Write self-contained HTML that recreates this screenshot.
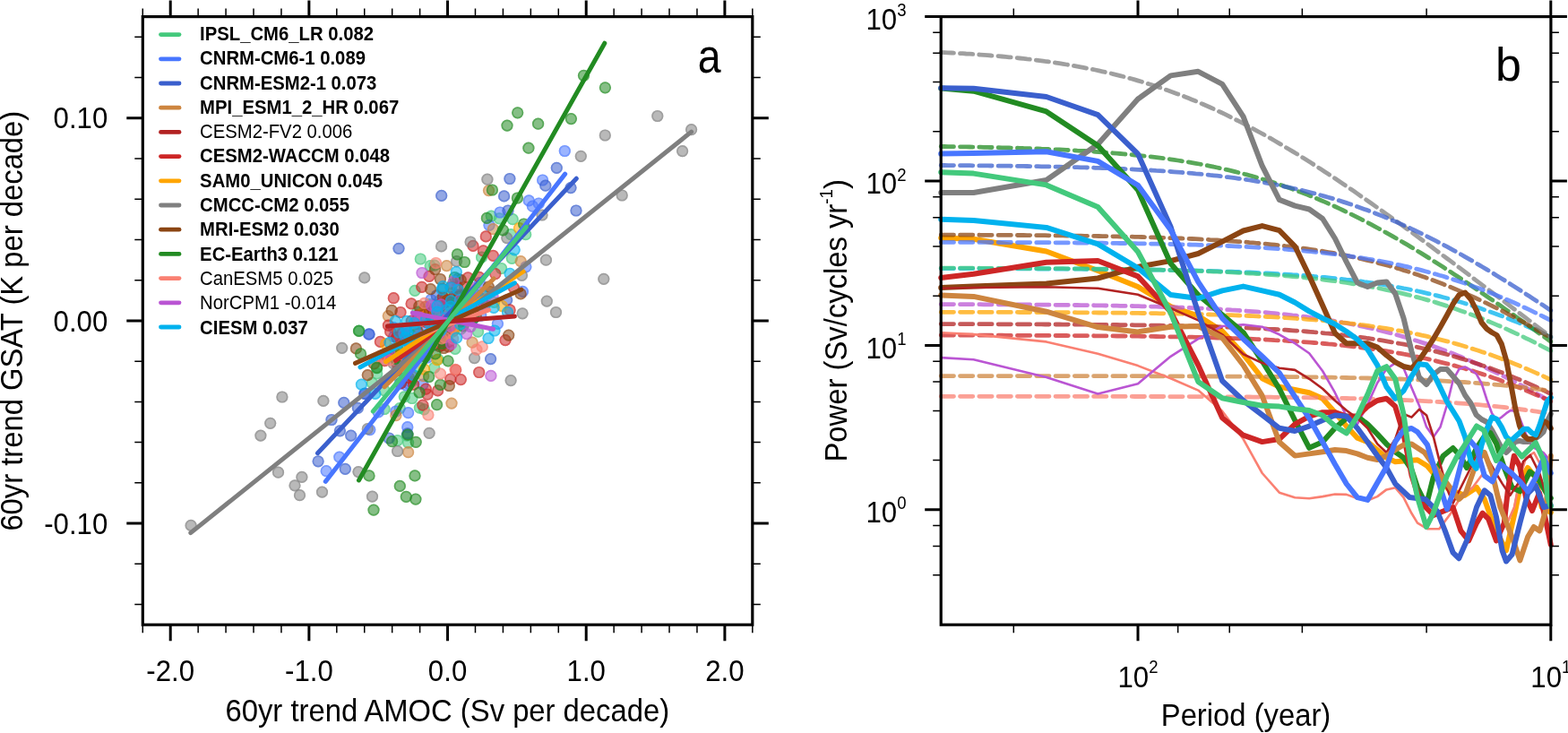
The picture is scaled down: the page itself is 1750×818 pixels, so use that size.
<!DOCTYPE html>
<html><head><meta charset="utf-8"><style>
html,body{margin:0;padding:0;background:#fff;overflow:hidden;}
svg{display:block;}
text{font-family:"Liberation Sans", Arial, Helvetica, sans-serif;fill:#000;}
</style></head><body>
<svg width="1750" height="818" viewBox="0 0 1750 818">
<rect width="1750" height="818" fill="#fff"/>
<defs><clipPath id="ca"><rect x="159.3" y="18.6" width="680.5" height="678.6"/></clipPath><clipPath id="cb"><rect x="1050.2" y="18.6" width="680.7" height="678.6"/></clipPath></defs>
<g clip-path="url(#ca)">
<circle cx="485.7" cy="375.7" r="6.6" fill="#43C97C" fill-opacity=".55"/><circle cx="485.7" cy="375.7" r="5.75" fill="none" stroke="#43C97C" stroke-opacity=".45" stroke-width="1.7"/>
<circle cx="525.1" cy="336.9" r="6.6" fill="#43C97C" fill-opacity=".55"/><circle cx="525.1" cy="336.9" r="5.75" fill="none" stroke="#43C97C" stroke-opacity=".45" stroke-width="1.7"/>
<circle cx="455.5" cy="378.9" r="6.6" fill="#43C97C" fill-opacity=".55"/><circle cx="455.5" cy="378.9" r="5.75" fill="none" stroke="#43C97C" stroke-opacity=".45" stroke-width="1.7"/>
<circle cx="497.3" cy="354.9" r="6.6" fill="#43C97C" fill-opacity=".55"/><circle cx="497.3" cy="354.9" r="5.75" fill="none" stroke="#43C97C" stroke-opacity=".45" stroke-width="1.7"/>
<circle cx="476.0" cy="376.2" r="6.6" fill="#43C97C" fill-opacity=".55"/><circle cx="476.0" cy="376.2" r="5.75" fill="none" stroke="#43C97C" stroke-opacity=".45" stroke-width="1.7"/>
<circle cx="500.8" cy="334.4" r="6.6" fill="#43C97C" fill-opacity=".55"/><circle cx="500.8" cy="334.4" r="5.75" fill="none" stroke="#43C97C" stroke-opacity=".45" stroke-width="1.7"/>
<circle cx="447.7" cy="371.4" r="6.6" fill="#43C97C" fill-opacity=".55"/><circle cx="447.7" cy="371.4" r="5.75" fill="none" stroke="#43C97C" stroke-opacity=".45" stroke-width="1.7"/>
<circle cx="479.4" cy="339.6" r="6.6" fill="#43C97C" fill-opacity=".55"/><circle cx="479.4" cy="339.6" r="5.75" fill="none" stroke="#43C97C" stroke-opacity=".45" stroke-width="1.7"/>
<circle cx="446.0" cy="421.8" r="6.6" fill="#43C97C" fill-opacity=".55"/><circle cx="446.0" cy="421.8" r="5.75" fill="none" stroke="#43C97C" stroke-opacity=".45" stroke-width="1.7"/>
<circle cx="489.9" cy="352.2" r="6.6" fill="#43C97C" fill-opacity=".55"/><circle cx="489.9" cy="352.2" r="5.75" fill="none" stroke="#43C97C" stroke-opacity=".45" stroke-width="1.7"/>
<circle cx="551.6" cy="337.4" r="6.6" fill="#43C97C" fill-opacity=".55"/><circle cx="551.6" cy="337.4" r="5.75" fill="none" stroke="#43C97C" stroke-opacity=".45" stroke-width="1.7"/>
<circle cx="484.5" cy="353.1" r="6.6" fill="#43C97C" fill-opacity=".55"/><circle cx="484.5" cy="353.1" r="5.75" fill="none" stroke="#43C97C" stroke-opacity=".45" stroke-width="1.7"/>
<circle cx="520.7" cy="352.1" r="6.6" fill="#43C97C" fill-opacity=".55"/><circle cx="520.7" cy="352.1" r="5.75" fill="none" stroke="#43C97C" stroke-opacity=".45" stroke-width="1.7"/>
<circle cx="451.1" cy="372.1" r="6.6" fill="#43C97C" fill-opacity=".55"/><circle cx="451.1" cy="372.1" r="5.75" fill="none" stroke="#43C97C" stroke-opacity=".45" stroke-width="1.7"/>
<circle cx="465.8" cy="348.3" r="6.6" fill="#43C97C" fill-opacity=".55"/><circle cx="465.8" cy="348.3" r="5.75" fill="none" stroke="#43C97C" stroke-opacity=".45" stroke-width="1.7"/>
<circle cx="507.0" cy="337.7" r="6.6" fill="#43C97C" fill-opacity=".55"/><circle cx="507.0" cy="337.7" r="5.75" fill="none" stroke="#43C97C" stroke-opacity=".45" stroke-width="1.7"/>
<circle cx="466.0" cy="362.4" r="6.6" fill="#43C97C" fill-opacity=".55"/><circle cx="466.0" cy="362.4" r="5.75" fill="none" stroke="#43C97C" stroke-opacity=".45" stroke-width="1.7"/>
<circle cx="488.1" cy="383.0" r="6.6" fill="#43C97C" fill-opacity=".55"/><circle cx="488.1" cy="383.0" r="5.75" fill="none" stroke="#43C97C" stroke-opacity=".45" stroke-width="1.7"/>
<circle cx="510.6" cy="341.5" r="6.6" fill="#43C97C" fill-opacity=".55"/><circle cx="510.6" cy="341.5" r="5.75" fill="none" stroke="#43C97C" stroke-opacity=".45" stroke-width="1.7"/>
<circle cx="458.9" cy="426.2" r="6.6" fill="#43C97C" fill-opacity=".55"/><circle cx="458.9" cy="426.2" r="5.75" fill="none" stroke="#43C97C" stroke-opacity=".45" stroke-width="1.7"/>
<circle cx="505.0" cy="317.1" r="6.6" fill="#43C97C" fill-opacity=".55"/><circle cx="505.0" cy="317.1" r="5.75" fill="none" stroke="#43C97C" stroke-opacity=".45" stroke-width="1.7"/>
<circle cx="487.7" cy="349.1" r="6.6" fill="#43C97C" fill-opacity=".55"/><circle cx="487.7" cy="349.1" r="5.75" fill="none" stroke="#43C97C" stroke-opacity=".45" stroke-width="1.7"/>
<circle cx="504.1" cy="327.5" r="6.6" fill="#43C97C" fill-opacity=".55"/><circle cx="504.1" cy="327.5" r="5.75" fill="none" stroke="#43C97C" stroke-opacity=".45" stroke-width="1.7"/>
<circle cx="462.3" cy="399.2" r="6.6" fill="#43C97C" fill-opacity=".55"/><circle cx="462.3" cy="399.2" r="5.75" fill="none" stroke="#43C97C" stroke-opacity=".45" stroke-width="1.7"/>
<circle cx="467.0" cy="409.4" r="6.6" fill="#43C97C" fill-opacity=".55"/><circle cx="467.0" cy="409.4" r="5.75" fill="none" stroke="#43C97C" stroke-opacity=".45" stroke-width="1.7"/>
<circle cx="476.5" cy="387.7" r="6.6" fill="#43C97C" fill-opacity=".55"/><circle cx="476.5" cy="387.7" r="5.75" fill="none" stroke="#43C97C" stroke-opacity=".45" stroke-width="1.7"/>
<circle cx="467.7" cy="382.5" r="6.6" fill="#43C97C" fill-opacity=".55"/><circle cx="467.7" cy="382.5" r="5.75" fill="none" stroke="#43C97C" stroke-opacity=".45" stroke-width="1.7"/>
<circle cx="468.3" cy="347.9" r="6.6" fill="#43C97C" fill-opacity=".55"/><circle cx="468.3" cy="347.9" r="5.75" fill="none" stroke="#43C97C" stroke-opacity=".45" stroke-width="1.7"/>
<circle cx="467.9" cy="379.8" r="6.6" fill="#43C97C" fill-opacity=".55"/><circle cx="467.9" cy="379.8" r="5.75" fill="none" stroke="#43C97C" stroke-opacity=".45" stroke-width="1.7"/>
<circle cx="513.0" cy="357.0" r="6.6" fill="#43C97C" fill-opacity=".55"/><circle cx="513.0" cy="357.0" r="5.75" fill="none" stroke="#43C97C" stroke-opacity=".45" stroke-width="1.7"/>
<circle cx="475.9" cy="376.1" r="6.6" fill="#43C97C" fill-opacity=".55"/><circle cx="475.9" cy="376.1" r="5.75" fill="none" stroke="#43C97C" stroke-opacity=".45" stroke-width="1.7"/>
<circle cx="533.2" cy="338.3" r="6.6" fill="#43C97C" fill-opacity=".55"/><circle cx="533.2" cy="338.3" r="5.75" fill="none" stroke="#43C97C" stroke-opacity=".45" stroke-width="1.7"/>
<circle cx="548.3" cy="241.1" r="6.6" fill="#43C97C" fill-opacity=".55"/><circle cx="548.3" cy="241.1" r="5.75" fill="none" stroke="#43C97C" stroke-opacity=".45" stroke-width="1.7"/>
<circle cx="557.2" cy="243.8" r="6.6" fill="#43C97C" fill-opacity=".55"/><circle cx="557.2" cy="243.8" r="5.75" fill="none" stroke="#43C97C" stroke-opacity=".45" stroke-width="1.7"/>
<circle cx="572.2" cy="244.7" r="6.6" fill="#43C97C" fill-opacity=".55"/><circle cx="572.2" cy="244.7" r="5.75" fill="none" stroke="#43C97C" stroke-opacity=".45" stroke-width="1.7"/>
<circle cx="570.2" cy="261.7" r="6.6" fill="#43C97C" fill-opacity=".55"/><circle cx="570.2" cy="261.7" r="5.75" fill="none" stroke="#43C97C" stroke-opacity=".45" stroke-width="1.7"/>
<circle cx="586.7" cy="261.7" r="6.6" fill="#43C97C" fill-opacity=".55"/><circle cx="586.7" cy="261.7" r="5.75" fill="none" stroke="#43C97C" stroke-opacity=".45" stroke-width="1.7"/>
<circle cx="537.6" cy="287.2" r="6.6" fill="#43C97C" fill-opacity=".55"/><circle cx="537.6" cy="287.2" r="5.75" fill="none" stroke="#43C97C" stroke-opacity=".45" stroke-width="1.7"/>
<circle cx="571.3" cy="288.3" r="6.6" fill="#43C97C" fill-opacity=".55"/><circle cx="571.3" cy="288.3" r="5.75" fill="none" stroke="#43C97C" stroke-opacity=".45" stroke-width="1.7"/>
<circle cx="559.5" cy="299.5" r="6.6" fill="#43C97C" fill-opacity=".55"/><circle cx="559.5" cy="299.5" r="5.75" fill="none" stroke="#43C97C" stroke-opacity=".45" stroke-width="1.7"/>
<circle cx="469.3" cy="289.0" r="6.6" fill="#43C97C" fill-opacity=".55"/><circle cx="469.3" cy="289.0" r="5.75" fill="none" stroke="#43C97C" stroke-opacity=".45" stroke-width="1.7"/>
<circle cx="484.9" cy="296.2" r="6.6" fill="#43C97C" fill-opacity=".55"/><circle cx="484.9" cy="296.2" r="5.75" fill="none" stroke="#43C97C" stroke-opacity=".45" stroke-width="1.7"/>
<circle cx="463.0" cy="324.4" r="6.6" fill="#43C97C" fill-opacity=".55"/><circle cx="463.0" cy="324.4" r="5.75" fill="none" stroke="#43C97C" stroke-opacity=".45" stroke-width="1.7"/>
<circle cx="480.2" cy="296.7" r="6.6" fill="#43C97C" fill-opacity=".55"/><circle cx="480.2" cy="296.7" r="5.75" fill="none" stroke="#43C97C" stroke-opacity=".45" stroke-width="1.7"/>
<circle cx="400.9" cy="369.1" r="6.6" fill="#43C97C" fill-opacity=".55"/><circle cx="400.9" cy="369.1" r="5.75" fill="none" stroke="#43C97C" stroke-opacity=".45" stroke-width="1.7"/>
<circle cx="420.7" cy="410.9" r="6.6" fill="#43C97C" fill-opacity=".55"/><circle cx="420.7" cy="410.9" r="5.75" fill="none" stroke="#43C97C" stroke-opacity=".45" stroke-width="1.7"/>
<circle cx="420.7" cy="416.9" r="6.6" fill="#43C97C" fill-opacity=".55"/><circle cx="420.7" cy="416.9" r="5.75" fill="none" stroke="#43C97C" stroke-opacity=".45" stroke-width="1.7"/>
<circle cx="477.9" cy="344.0" r="6.6" fill="#43C97C" fill-opacity=".55"/><circle cx="477.9" cy="344.0" r="5.75" fill="none" stroke="#43C97C" stroke-opacity=".45" stroke-width="1.7"/>
<circle cx="490.6" cy="335.3" r="6.6" fill="#43C97C" fill-opacity=".55"/><circle cx="490.6" cy="335.3" r="5.75" fill="none" stroke="#43C97C" stroke-opacity=".45" stroke-width="1.7"/>
<circle cx="496.9" cy="332.9" r="6.6" fill="#43C97C" fill-opacity=".55"/><circle cx="496.9" cy="332.9" r="5.75" fill="none" stroke="#43C97C" stroke-opacity=".45" stroke-width="1.7"/>
<circle cx="489.0" cy="346.4" r="6.6" fill="#43C97C" fill-opacity=".55"/><circle cx="489.0" cy="346.4" r="5.75" fill="none" stroke="#43C97C" stroke-opacity=".45" stroke-width="1.7"/>
<circle cx="508.0" cy="389.3" r="6.6" fill="#43C97C" fill-opacity=".55"/><circle cx="508.0" cy="389.3" r="5.75" fill="none" stroke="#43C97C" stroke-opacity=".45" stroke-width="1.7"/>
<circle cx="533.5" cy="370.2" r="6.6" fill="#43C97C" fill-opacity=".55"/><circle cx="533.5" cy="370.2" r="5.75" fill="none" stroke="#43C97C" stroke-opacity=".45" stroke-width="1.7"/>
<circle cx="514.4" cy="367.1" r="6.6" fill="#43C97C" fill-opacity=".55"/><circle cx="514.4" cy="367.1" r="5.75" fill="none" stroke="#43C97C" stroke-opacity=".45" stroke-width="1.7"/>
<circle cx="504.9" cy="370.2" r="6.6" fill="#43C97C" fill-opacity=".55"/><circle cx="504.9" cy="370.2" r="5.75" fill="none" stroke="#43C97C" stroke-opacity=".45" stroke-width="1.7"/>
<circle cx="489.0" cy="401.2" r="6.6" fill="#43C97C" fill-opacity=".55"/><circle cx="489.0" cy="401.2" r="5.75" fill="none" stroke="#43C97C" stroke-opacity=".45" stroke-width="1.7"/>
<circle cx="484.7" cy="410.3" r="6.6" fill="#43C97C" fill-opacity=".55"/><circle cx="484.7" cy="410.3" r="5.75" fill="none" stroke="#43C97C" stroke-opacity=".45" stroke-width="1.7"/>
<circle cx="415.4" cy="427.4" r="6.6" fill="#43C97C" fill-opacity=".55"/><circle cx="415.4" cy="427.4" r="5.75" fill="none" stroke="#43C97C" stroke-opacity=".45" stroke-width="1.7"/>
<circle cx="429.1" cy="435.9" r="6.6" fill="#43C97C" fill-opacity=".55"/><circle cx="429.1" cy="435.9" r="5.75" fill="none" stroke="#43C97C" stroke-opacity=".45" stroke-width="1.7"/>
<circle cx="451.3" cy="442.8" r="6.6" fill="#43C97C" fill-opacity=".55"/><circle cx="451.3" cy="442.8" r="5.75" fill="none" stroke="#43C97C" stroke-opacity=".45" stroke-width="1.7"/>
<circle cx="459.9" cy="444.5" r="6.6" fill="#43C97C" fill-opacity=".55"/><circle cx="459.9" cy="444.5" r="5.75" fill="none" stroke="#43C97C" stroke-opacity=".45" stroke-width="1.7"/>
<circle cx="468.4" cy="455.1" r="6.6" fill="#43C97C" fill-opacity=".55"/><circle cx="468.4" cy="455.1" r="5.75" fill="none" stroke="#43C97C" stroke-opacity=".45" stroke-width="1.7"/>
<circle cx="446.2" cy="455.6" r="6.6" fill="#43C97C" fill-opacity=".55"/><circle cx="446.2" cy="455.6" r="5.75" fill="none" stroke="#43C97C" stroke-opacity=".45" stroke-width="1.7"/>
<circle cx="429.1" cy="456.5" r="6.6" fill="#43C97C" fill-opacity=".55"/><circle cx="429.1" cy="456.5" r="5.75" fill="none" stroke="#43C97C" stroke-opacity=".45" stroke-width="1.7"/>
<circle cx="443.6" cy="491.5" r="6.6" fill="#43C97C" fill-opacity=".55"/><circle cx="443.6" cy="491.5" r="5.75" fill="none" stroke="#43C97C" stroke-opacity=".45" stroke-width="1.7"/>
<circle cx="455.6" cy="494.1" r="6.6" fill="#43C97C" fill-opacity=".55"/><circle cx="455.6" cy="494.1" r="5.75" fill="none" stroke="#43C97C" stroke-opacity=".45" stroke-width="1.7"/>
<circle cx="473.3" cy="456.8" r="6.6" fill="#43C97C" fill-opacity=".55"/><circle cx="473.3" cy="456.8" r="5.75" fill="none" stroke="#43C97C" stroke-opacity=".45" stroke-width="1.7"/>
<circle cx="454.2" cy="486.1" r="6.6" fill="#43C97C" fill-opacity=".55"/><circle cx="454.2" cy="486.1" r="5.75" fill="none" stroke="#43C97C" stroke-opacity=".45" stroke-width="1.7"/>
<circle cx="482.6" cy="385.8" r="6.6" fill="#4876FF" fill-opacity=".55"/><circle cx="482.6" cy="385.8" r="5.75" fill="none" stroke="#4876FF" stroke-opacity=".45" stroke-width="1.7"/>
<circle cx="477.1" cy="399.0" r="6.6" fill="#4876FF" fill-opacity=".55"/><circle cx="477.1" cy="399.0" r="5.75" fill="none" stroke="#4876FF" stroke-opacity=".45" stroke-width="1.7"/>
<circle cx="447.1" cy="404.7" r="6.6" fill="#4876FF" fill-opacity=".55"/><circle cx="447.1" cy="404.7" r="5.75" fill="none" stroke="#4876FF" stroke-opacity=".45" stroke-width="1.7"/>
<circle cx="475.4" cy="353.4" r="6.6" fill="#4876FF" fill-opacity=".55"/><circle cx="475.4" cy="353.4" r="5.75" fill="none" stroke="#4876FF" stroke-opacity=".45" stroke-width="1.7"/>
<circle cx="506.2" cy="345.8" r="6.6" fill="#4876FF" fill-opacity=".55"/><circle cx="506.2" cy="345.8" r="5.75" fill="none" stroke="#4876FF" stroke-opacity=".45" stroke-width="1.7"/>
<circle cx="439.2" cy="365.7" r="6.6" fill="#4876FF" fill-opacity=".55"/><circle cx="439.2" cy="365.7" r="5.75" fill="none" stroke="#4876FF" stroke-opacity=".45" stroke-width="1.7"/>
<circle cx="446.3" cy="428.1" r="6.6" fill="#4876FF" fill-opacity=".55"/><circle cx="446.3" cy="428.1" r="5.75" fill="none" stroke="#4876FF" stroke-opacity=".45" stroke-width="1.7"/>
<circle cx="502.2" cy="357.5" r="6.6" fill="#4876FF" fill-opacity=".55"/><circle cx="502.2" cy="357.5" r="5.75" fill="none" stroke="#4876FF" stroke-opacity=".45" stroke-width="1.7"/>
<circle cx="459.2" cy="379.6" r="6.6" fill="#4876FF" fill-opacity=".55"/><circle cx="459.2" cy="379.6" r="5.75" fill="none" stroke="#4876FF" stroke-opacity=".45" stroke-width="1.7"/>
<circle cx="457.0" cy="402.4" r="6.6" fill="#4876FF" fill-opacity=".55"/><circle cx="457.0" cy="402.4" r="5.75" fill="none" stroke="#4876FF" stroke-opacity=".45" stroke-width="1.7"/>
<circle cx="464.9" cy="381.3" r="6.6" fill="#4876FF" fill-opacity=".55"/><circle cx="464.9" cy="381.3" r="5.75" fill="none" stroke="#4876FF" stroke-opacity=".45" stroke-width="1.7"/>
<circle cx="465.8" cy="356.6" r="6.6" fill="#4876FF" fill-opacity=".55"/><circle cx="465.8" cy="356.6" r="5.75" fill="none" stroke="#4876FF" stroke-opacity=".45" stroke-width="1.7"/>
<circle cx="466.9" cy="398.5" r="6.6" fill="#4876FF" fill-opacity=".55"/><circle cx="466.9" cy="398.5" r="5.75" fill="none" stroke="#4876FF" stroke-opacity=".45" stroke-width="1.7"/>
<circle cx="467.5" cy="379.4" r="6.6" fill="#4876FF" fill-opacity=".55"/><circle cx="467.5" cy="379.4" r="5.75" fill="none" stroke="#4876FF" stroke-opacity=".45" stroke-width="1.7"/>
<circle cx="474.8" cy="387.7" r="6.6" fill="#4876FF" fill-opacity=".55"/><circle cx="474.8" cy="387.7" r="5.75" fill="none" stroke="#4876FF" stroke-opacity=".45" stroke-width="1.7"/>
<circle cx="536.7" cy="352.1" r="6.6" fill="#4876FF" fill-opacity=".55"/><circle cx="536.7" cy="352.1" r="5.75" fill="none" stroke="#4876FF" stroke-opacity=".45" stroke-width="1.7"/>
<circle cx="439.7" cy="375.8" r="6.6" fill="#4876FF" fill-opacity=".55"/><circle cx="439.7" cy="375.8" r="5.75" fill="none" stroke="#4876FF" stroke-opacity=".45" stroke-width="1.7"/>
<circle cx="519.6" cy="354.3" r="6.6" fill="#4876FF" fill-opacity=".55"/><circle cx="519.6" cy="354.3" r="5.75" fill="none" stroke="#4876FF" stroke-opacity=".45" stroke-width="1.7"/>
<circle cx="535.4" cy="315.6" r="6.6" fill="#4876FF" fill-opacity=".55"/><circle cx="535.4" cy="315.6" r="5.75" fill="none" stroke="#4876FF" stroke-opacity=".45" stroke-width="1.7"/>
<circle cx="492.2" cy="349.2" r="6.6" fill="#4876FF" fill-opacity=".55"/><circle cx="492.2" cy="349.2" r="5.75" fill="none" stroke="#4876FF" stroke-opacity=".45" stroke-width="1.7"/>
<circle cx="466.1" cy="361.7" r="6.6" fill="#4876FF" fill-opacity=".55"/><circle cx="466.1" cy="361.7" r="5.75" fill="none" stroke="#4876FF" stroke-opacity=".45" stroke-width="1.7"/>
<circle cx="517.7" cy="334.8" r="6.6" fill="#4876FF" fill-opacity=".55"/><circle cx="517.7" cy="334.8" r="5.75" fill="none" stroke="#4876FF" stroke-opacity=".45" stroke-width="1.7"/>
<circle cx="499.2" cy="354.5" r="6.6" fill="#4876FF" fill-opacity=".55"/><circle cx="499.2" cy="354.5" r="5.75" fill="none" stroke="#4876FF" stroke-opacity=".45" stroke-width="1.7"/>
<circle cx="478.1" cy="379.1" r="6.6" fill="#4876FF" fill-opacity=".55"/><circle cx="478.1" cy="379.1" r="5.75" fill="none" stroke="#4876FF" stroke-opacity=".45" stroke-width="1.7"/>
<circle cx="496.4" cy="372.7" r="6.6" fill="#4876FF" fill-opacity=".55"/><circle cx="496.4" cy="372.7" r="5.75" fill="none" stroke="#4876FF" stroke-opacity=".45" stroke-width="1.7"/>
<circle cx="474.6" cy="383.7" r="6.6" fill="#4876FF" fill-opacity=".55"/><circle cx="474.6" cy="383.7" r="5.75" fill="none" stroke="#4876FF" stroke-opacity=".45" stroke-width="1.7"/>
<circle cx="475.2" cy="364.2" r="6.6" fill="#4876FF" fill-opacity=".55"/><circle cx="475.2" cy="364.2" r="5.75" fill="none" stroke="#4876FF" stroke-opacity=".45" stroke-width="1.7"/>
<circle cx="456.3" cy="428.3" r="6.6" fill="#4876FF" fill-opacity=".55"/><circle cx="456.3" cy="428.3" r="5.75" fill="none" stroke="#4876FF" stroke-opacity=".45" stroke-width="1.7"/>
<circle cx="630.3" cy="168.5" r="6.6" fill="#4876FF" fill-opacity=".55"/><circle cx="630.3" cy="168.5" r="5.75" fill="none" stroke="#4876FF" stroke-opacity=".45" stroke-width="1.7"/>
<circle cx="605.6" cy="201.0" r="6.6" fill="#4876FF" fill-opacity=".55"/><circle cx="605.6" cy="201.0" r="5.75" fill="none" stroke="#4876FF" stroke-opacity=".45" stroke-width="1.7"/>
<circle cx="601.3" cy="227.0" r="6.6" fill="#4876FF" fill-opacity=".55"/><circle cx="601.3" cy="227.0" r="5.75" fill="none" stroke="#4876FF" stroke-opacity=".45" stroke-width="1.7"/>
<circle cx="590.3" cy="223.9" r="6.6" fill="#4876FF" fill-opacity=".55"/><circle cx="590.3" cy="223.9" r="5.75" fill="none" stroke="#4876FF" stroke-opacity=".45" stroke-width="1.7"/>
<circle cx="594.4" cy="230.2" r="6.6" fill="#4876FF" fill-opacity=".55"/><circle cx="594.4" cy="230.2" r="5.75" fill="none" stroke="#4876FF" stroke-opacity=".45" stroke-width="1.7"/>
<circle cx="558.0" cy="237.0" r="6.6" fill="#4876FF" fill-opacity=".55"/><circle cx="558.0" cy="237.0" r="5.75" fill="none" stroke="#4876FF" stroke-opacity=".45" stroke-width="1.7"/>
<circle cx="546.0" cy="251.3" r="6.6" fill="#4876FF" fill-opacity=".55"/><circle cx="546.0" cy="251.3" r="5.75" fill="none" stroke="#4876FF" stroke-opacity=".45" stroke-width="1.7"/>
<circle cx="586.9" cy="297.8" r="6.6" fill="#4876FF" fill-opacity=".55"/><circle cx="586.9" cy="297.8" r="5.75" fill="none" stroke="#4876FF" stroke-opacity=".45" stroke-width="1.7"/>
<circle cx="583.4" cy="325.4" r="6.6" fill="#4876FF" fill-opacity=".55"/><circle cx="583.4" cy="325.4" r="5.75" fill="none" stroke="#4876FF" stroke-opacity=".45" stroke-width="1.7"/>
<circle cx="555.4" cy="361.3" r="6.6" fill="#4876FF" fill-opacity=".55"/><circle cx="555.4" cy="361.3" r="5.75" fill="none" stroke="#4876FF" stroke-opacity=".45" stroke-width="1.7"/>
<circle cx="481.0" cy="334.5" r="6.6" fill="#4876FF" fill-opacity=".55"/><circle cx="481.0" cy="334.5" r="5.75" fill="none" stroke="#4876FF" stroke-opacity=".45" stroke-width="1.7"/>
<circle cx="471.9" cy="429.1" r="6.6" fill="#4876FF" fill-opacity=".55"/><circle cx="471.9" cy="429.1" r="5.75" fill="none" stroke="#4876FF" stroke-opacity=".45" stroke-width="1.7"/>
<circle cx="453.0" cy="429.9" r="6.6" fill="#4876FF" fill-opacity=".55"/><circle cx="453.0" cy="429.9" r="5.75" fill="none" stroke="#4876FF" stroke-opacity=".45" stroke-width="1.7"/>
<circle cx="455.6" cy="460.7" r="6.6" fill="#4876FF" fill-opacity=".55"/><circle cx="455.6" cy="460.7" r="5.75" fill="none" stroke="#4876FF" stroke-opacity=".45" stroke-width="1.7"/>
<circle cx="441.9" cy="459.0" r="6.6" fill="#4876FF" fill-opacity=".55"/><circle cx="441.9" cy="459.0" r="5.75" fill="none" stroke="#4876FF" stroke-opacity=".45" stroke-width="1.7"/>
<circle cx="422.2" cy="459.9" r="6.6" fill="#4876FF" fill-opacity=".55"/><circle cx="422.2" cy="459.9" r="5.75" fill="none" stroke="#4876FF" stroke-opacity=".45" stroke-width="1.7"/>
<circle cx="454.8" cy="476.7" r="6.6" fill="#4876FF" fill-opacity=".55"/><circle cx="454.8" cy="476.7" r="5.75" fill="none" stroke="#4876FF" stroke-opacity=".45" stroke-width="1.7"/>
<circle cx="412.8" cy="479.6" r="6.6" fill="#4876FF" fill-opacity=".55"/><circle cx="412.8" cy="479.6" r="5.75" fill="none" stroke="#4876FF" stroke-opacity=".45" stroke-width="1.7"/>
<circle cx="411.7" cy="373.2" r="6.6" fill="#4876FF" fill-opacity=".55"/><circle cx="411.7" cy="373.2" r="5.75" fill="none" stroke="#4876FF" stroke-opacity=".45" stroke-width="1.7"/>
<circle cx="407.3" cy="439.2" r="6.6" fill="#4876FF" fill-opacity=".55"/><circle cx="407.3" cy="439.2" r="5.75" fill="none" stroke="#4876FF" stroke-opacity=".45" stroke-width="1.7"/>
<circle cx="378.8" cy="510.1" r="6.6" fill="#4876FF" fill-opacity=".55"/><circle cx="378.8" cy="510.1" r="5.75" fill="none" stroke="#4876FF" stroke-opacity=".45" stroke-width="1.7"/>
<circle cx="364.2" cy="525.7" r="6.6" fill="#4876FF" fill-opacity=".55"/><circle cx="364.2" cy="525.7" r="5.75" fill="none" stroke="#4876FF" stroke-opacity=".45" stroke-width="1.7"/>
<circle cx="510.1" cy="328.8" r="6.6" fill="#3A5FCD" fill-opacity=".55"/><circle cx="510.1" cy="328.8" r="5.75" fill="none" stroke="#3A5FCD" stroke-opacity=".45" stroke-width="1.7"/>
<circle cx="511.0" cy="311.1" r="6.6" fill="#3A5FCD" fill-opacity=".55"/><circle cx="511.0" cy="311.1" r="5.75" fill="none" stroke="#3A5FCD" stroke-opacity=".45" stroke-width="1.7"/>
<circle cx="527.7" cy="356.4" r="6.6" fill="#3A5FCD" fill-opacity=".55"/><circle cx="527.7" cy="356.4" r="5.75" fill="none" stroke="#3A5FCD" stroke-opacity=".45" stroke-width="1.7"/>
<circle cx="469.7" cy="395.8" r="6.6" fill="#3A5FCD" fill-opacity=".55"/><circle cx="469.7" cy="395.8" r="5.75" fill="none" stroke="#3A5FCD" stroke-opacity=".45" stroke-width="1.7"/>
<circle cx="479.5" cy="372.0" r="6.6" fill="#3A5FCD" fill-opacity=".55"/><circle cx="479.5" cy="372.0" r="5.75" fill="none" stroke="#3A5FCD" stroke-opacity=".45" stroke-width="1.7"/>
<circle cx="487.3" cy="329.9" r="6.6" fill="#3A5FCD" fill-opacity=".55"/><circle cx="487.3" cy="329.9" r="5.75" fill="none" stroke="#3A5FCD" stroke-opacity=".45" stroke-width="1.7"/>
<circle cx="621.3" cy="187.3" r="6.6" fill="#3A5FCD" fill-opacity=".55"/><circle cx="621.3" cy="187.3" r="5.75" fill="none" stroke="#3A5FCD" stroke-opacity=".45" stroke-width="1.7"/>
<circle cx="608.8" cy="207.2" r="6.6" fill="#3A5FCD" fill-opacity=".55"/><circle cx="608.8" cy="207.2" r="5.75" fill="none" stroke="#3A5FCD" stroke-opacity=".45" stroke-width="1.7"/>
<circle cx="637.0" cy="209.6" r="6.6" fill="#3A5FCD" fill-opacity=".55"/><circle cx="637.0" cy="209.6" r="5.75" fill="none" stroke="#3A5FCD" stroke-opacity=".45" stroke-width="1.7"/>
<circle cx="643.0" cy="235.0" r="6.6" fill="#3A5FCD" fill-opacity=".55"/><circle cx="643.0" cy="235.0" r="5.75" fill="none" stroke="#3A5FCD" stroke-opacity=".45" stroke-width="1.7"/>
<circle cx="568.9" cy="199.5" r="6.6" fill="#3A5FCD" fill-opacity=".55"/><circle cx="568.9" cy="199.5" r="5.75" fill="none" stroke="#3A5FCD" stroke-opacity=".45" stroke-width="1.7"/>
<circle cx="562.6" cy="218.9" r="6.6" fill="#3A5FCD" fill-opacity=".55"/><circle cx="562.6" cy="218.9" r="5.75" fill="none" stroke="#3A5FCD" stroke-opacity=".45" stroke-width="1.7"/>
<circle cx="492.7" cy="218.4" r="6.6" fill="#3A5FCD" fill-opacity=".55"/><circle cx="492.7" cy="218.4" r="5.75" fill="none" stroke="#3A5FCD" stroke-opacity=".45" stroke-width="1.7"/>
<circle cx="567.0" cy="235.0" r="6.6" fill="#3A5FCD" fill-opacity=".55"/><circle cx="567.0" cy="235.0" r="5.75" fill="none" stroke="#3A5FCD" stroke-opacity=".45" stroke-width="1.7"/>
<circle cx="445.0" cy="277.3" r="6.6" fill="#3A5FCD" fill-opacity=".55"/><circle cx="445.0" cy="277.3" r="5.75" fill="none" stroke="#3A5FCD" stroke-opacity=".45" stroke-width="1.7"/>
<circle cx="565.7" cy="334.8" r="6.6" fill="#3A5FCD" fill-opacity=".55"/><circle cx="565.7" cy="334.8" r="5.75" fill="none" stroke="#3A5FCD" stroke-opacity=".45" stroke-width="1.7"/>
<circle cx="547.6" cy="400.6" r="6.6" fill="#3A5FCD" fill-opacity=".55"/><circle cx="547.6" cy="400.6" r="5.75" fill="none" stroke="#3A5FCD" stroke-opacity=".45" stroke-width="1.7"/>
<circle cx="412.1" cy="372.9" r="6.6" fill="#3A5FCD" fill-opacity=".55"/><circle cx="412.1" cy="372.9" r="5.75" fill="none" stroke="#3A5FCD" stroke-opacity=".45" stroke-width="1.7"/>
<circle cx="406.8" cy="439.4" r="6.6" fill="#3A5FCD" fill-opacity=".55"/><circle cx="406.8" cy="439.4" r="5.75" fill="none" stroke="#3A5FCD" stroke-opacity=".45" stroke-width="1.7"/>
<circle cx="454.8" cy="483.8" r="6.6" fill="#3A5FCD" fill-opacity=".55"/><circle cx="454.8" cy="483.8" r="5.75" fill="none" stroke="#3A5FCD" stroke-opacity=".45" stroke-width="1.7"/>
<circle cx="434.2" cy="489.0" r="6.6" fill="#3A5FCD" fill-opacity=".55"/><circle cx="434.2" cy="489.0" r="5.75" fill="none" stroke="#3A5FCD" stroke-opacity=".45" stroke-width="1.7"/>
<circle cx="383.8" cy="449.4" r="6.6" fill="#3A5FCD" fill-opacity=".55"/><circle cx="383.8" cy="449.4" r="5.75" fill="none" stroke="#3A5FCD" stroke-opacity=".45" stroke-width="1.7"/>
<circle cx="399.4" cy="455.3" r="6.6" fill="#3A5FCD" fill-opacity=".55"/><circle cx="399.4" cy="455.3" r="5.75" fill="none" stroke="#3A5FCD" stroke-opacity=".45" stroke-width="1.7"/>
<circle cx="370.0" cy="468.5" r="6.6" fill="#3A5FCD" fill-opacity=".55"/><circle cx="370.0" cy="468.5" r="5.75" fill="none" stroke="#3A5FCD" stroke-opacity=".45" stroke-width="1.7"/>
<circle cx="379.4" cy="480.8" r="6.6" fill="#3A5FCD" fill-opacity=".55"/><circle cx="379.4" cy="480.8" r="5.75" fill="none" stroke="#3A5FCD" stroke-opacity=".45" stroke-width="1.7"/>
<circle cx="391.7" cy="486.1" r="6.6" fill="#3A5FCD" fill-opacity=".55"/><circle cx="391.7" cy="486.1" r="5.75" fill="none" stroke="#3A5FCD" stroke-opacity=".45" stroke-width="1.7"/>
<circle cx="355.1" cy="514.8" r="6.6" fill="#3A5FCD" fill-opacity=".55"/><circle cx="355.1" cy="514.8" r="5.75" fill="none" stroke="#3A5FCD" stroke-opacity=".45" stroke-width="1.7"/>
<circle cx="385.3" cy="523.3" r="6.6" fill="#3A5FCD" fill-opacity=".55"/><circle cx="385.3" cy="523.3" r="5.75" fill="none" stroke="#3A5FCD" stroke-opacity=".45" stroke-width="1.7"/>
<circle cx="497.3" cy="335.4" r="6.6" fill="#CD853F" fill-opacity=".55"/><circle cx="497.3" cy="335.4" r="5.75" fill="none" stroke="#CD853F" stroke-opacity=".45" stroke-width="1.7"/>
<circle cx="443.0" cy="367.6" r="6.6" fill="#CD853F" fill-opacity=".55"/><circle cx="443.0" cy="367.6" r="5.75" fill="none" stroke="#CD853F" stroke-opacity=".45" stroke-width="1.7"/>
<circle cx="470.6" cy="395.3" r="6.6" fill="#CD853F" fill-opacity=".55"/><circle cx="470.6" cy="395.3" r="5.75" fill="none" stroke="#CD853F" stroke-opacity=".45" stroke-width="1.7"/>
<circle cx="525.0" cy="330.6" r="6.6" fill="#CD853F" fill-opacity=".55"/><circle cx="525.0" cy="330.6" r="5.75" fill="none" stroke="#CD853F" stroke-opacity=".45" stroke-width="1.7"/>
<circle cx="501.0" cy="334.5" r="6.6" fill="#CD853F" fill-opacity=".55"/><circle cx="501.0" cy="334.5" r="5.75" fill="none" stroke="#CD853F" stroke-opacity=".45" stroke-width="1.7"/>
<circle cx="522.5" cy="331.1" r="6.6" fill="#CD853F" fill-opacity=".55"/><circle cx="522.5" cy="331.1" r="5.75" fill="none" stroke="#CD853F" stroke-opacity=".45" stroke-width="1.7"/>
<circle cx="546.4" cy="325.3" r="6.6" fill="#CD853F" fill-opacity=".55"/><circle cx="546.4" cy="325.3" r="5.75" fill="none" stroke="#CD853F" stroke-opacity=".45" stroke-width="1.7"/>
<circle cx="464.7" cy="380.7" r="6.6" fill="#CD853F" fill-opacity=".55"/><circle cx="464.7" cy="380.7" r="5.75" fill="none" stroke="#CD853F" stroke-opacity=".45" stroke-width="1.7"/>
<circle cx="508.5" cy="334.0" r="6.6" fill="#CD853F" fill-opacity=".55"/><circle cx="508.5" cy="334.0" r="5.75" fill="none" stroke="#CD853F" stroke-opacity=".45" stroke-width="1.7"/>
<circle cx="491.7" cy="381.1" r="6.6" fill="#CD853F" fill-opacity=".55"/><circle cx="491.7" cy="381.1" r="5.75" fill="none" stroke="#CD853F" stroke-opacity=".45" stroke-width="1.7"/>
<circle cx="465.9" cy="388.2" r="6.6" fill="#CD853F" fill-opacity=".55"/><circle cx="465.9" cy="388.2" r="5.75" fill="none" stroke="#CD853F" stroke-opacity=".45" stroke-width="1.7"/>
<circle cx="520.1" cy="329.6" r="6.6" fill="#CD853F" fill-opacity=".55"/><circle cx="520.1" cy="329.6" r="5.75" fill="none" stroke="#CD853F" stroke-opacity=".45" stroke-width="1.7"/>
<circle cx="453.7" cy="366.7" r="6.6" fill="#CD853F" fill-opacity=".55"/><circle cx="453.7" cy="366.7" r="5.75" fill="none" stroke="#CD853F" stroke-opacity=".45" stroke-width="1.7"/>
<circle cx="506.6" cy="368.7" r="6.6" fill="#CD853F" fill-opacity=".55"/><circle cx="506.6" cy="368.7" r="5.75" fill="none" stroke="#CD853F" stroke-opacity=".45" stroke-width="1.7"/>
<circle cx="499.0" cy="362.0" r="6.6" fill="#CD853F" fill-opacity=".55"/><circle cx="499.0" cy="362.0" r="5.75" fill="none" stroke="#CD853F" stroke-opacity=".45" stroke-width="1.7"/>
<circle cx="545.5" cy="212.6" r="6.6" fill="#CD853F" fill-opacity=".55"/><circle cx="545.5" cy="212.6" r="5.75" fill="none" stroke="#CD853F" stroke-opacity=".45" stroke-width="1.7"/>
<circle cx="550.4" cy="255.7" r="6.6" fill="#CD853F" fill-opacity=".55"/><circle cx="550.4" cy="255.7" r="5.75" fill="none" stroke="#CD853F" stroke-opacity=".45" stroke-width="1.7"/>
<circle cx="581.2" cy="291.6" r="6.6" fill="#CD853F" fill-opacity=".55"/><circle cx="581.2" cy="291.6" r="5.75" fill="none" stroke="#CD853F" stroke-opacity=".45" stroke-width="1.7"/>
<circle cx="498.5" cy="296.6" r="6.6" fill="#CD853F" fill-opacity=".55"/><circle cx="498.5" cy="296.6" r="5.75" fill="none" stroke="#CD853F" stroke-opacity=".45" stroke-width="1.7"/>
<circle cx="433.3" cy="352.6" r="6.6" fill="#CD853F" fill-opacity=".55"/><circle cx="433.3" cy="352.6" r="5.75" fill="none" stroke="#CD853F" stroke-opacity=".45" stroke-width="1.7"/>
<circle cx="429.5" cy="396.0" r="6.6" fill="#CD853F" fill-opacity=".55"/><circle cx="429.5" cy="396.0" r="5.75" fill="none" stroke="#CD853F" stroke-opacity=".45" stroke-width="1.7"/>
<circle cx="527.1" cy="382.2" r="6.6" fill="#CD853F" fill-opacity=".55"/><circle cx="527.1" cy="382.2" r="5.75" fill="none" stroke="#CD853F" stroke-opacity=".45" stroke-width="1.7"/>
<circle cx="472.7" cy="419.7" r="6.6" fill="#CD853F" fill-opacity=".55"/><circle cx="472.7" cy="419.7" r="5.75" fill="none" stroke="#CD853F" stroke-opacity=".45" stroke-width="1.7"/>
<circle cx="504.0" cy="450.1" r="6.6" fill="#CD853F" fill-opacity=".55"/><circle cx="504.0" cy="450.1" r="5.75" fill="none" stroke="#CD853F" stroke-opacity=".45" stroke-width="1.7"/>
<circle cx="441.9" cy="463.7" r="6.6" fill="#CD853F" fill-opacity=".55"/><circle cx="441.9" cy="463.7" r="5.75" fill="none" stroke="#CD853F" stroke-opacity=".45" stroke-width="1.7"/>
<circle cx="455.6" cy="504.7" r="6.6" fill="#CD853F" fill-opacity=".55"/><circle cx="455.6" cy="504.7" r="5.75" fill="none" stroke="#CD853F" stroke-opacity=".45" stroke-width="1.7"/>
<circle cx="464.1" cy="398.9" r="6.6" fill="#B22222" fill-opacity=".55"/><circle cx="464.1" cy="398.9" r="5.75" fill="none" stroke="#B22222" stroke-opacity=".45" stroke-width="1.7"/>
<circle cx="470.2" cy="358.5" r="6.6" fill="#B22222" fill-opacity=".55"/><circle cx="470.2" cy="358.5" r="5.75" fill="none" stroke="#B22222" stroke-opacity=".45" stroke-width="1.7"/>
<circle cx="490.6" cy="386.7" r="6.6" fill="#B22222" fill-opacity=".55"/><circle cx="490.6" cy="386.7" r="5.75" fill="none" stroke="#B22222" stroke-opacity=".45" stroke-width="1.7"/>
<circle cx="495.4" cy="350.5" r="6.6" fill="#B22222" fill-opacity=".55"/><circle cx="495.4" cy="350.5" r="5.75" fill="none" stroke="#B22222" stroke-opacity=".45" stroke-width="1.7"/>
<circle cx="519.1" cy="344.2" r="6.6" fill="#B22222" fill-opacity=".55"/><circle cx="519.1" cy="344.2" r="5.75" fill="none" stroke="#B22222" stroke-opacity=".45" stroke-width="1.7"/>
<circle cx="490.1" cy="372.5" r="6.6" fill="#B22222" fill-opacity=".55"/><circle cx="490.1" cy="372.5" r="5.75" fill="none" stroke="#B22222" stroke-opacity=".45" stroke-width="1.7"/>
<circle cx="459.3" cy="358.2" r="6.6" fill="#B22222" fill-opacity=".55"/><circle cx="459.3" cy="358.2" r="5.75" fill="none" stroke="#B22222" stroke-opacity=".45" stroke-width="1.7"/>
<circle cx="524.5" cy="345.5" r="6.6" fill="#B22222" fill-opacity=".55"/><circle cx="524.5" cy="345.5" r="5.75" fill="none" stroke="#B22222" stroke-opacity=".45" stroke-width="1.7"/>
<circle cx="469.5" cy="375.2" r="6.6" fill="#B22222" fill-opacity=".55"/><circle cx="469.5" cy="375.2" r="5.75" fill="none" stroke="#B22222" stroke-opacity=".45" stroke-width="1.7"/>
<circle cx="470.1" cy="379.5" r="6.6" fill="#B22222" fill-opacity=".55"/><circle cx="470.1" cy="379.5" r="5.75" fill="none" stroke="#B22222" stroke-opacity=".45" stroke-width="1.7"/>
<circle cx="484.4" cy="349.7" r="6.6" fill="#B22222" fill-opacity=".55"/><circle cx="484.4" cy="349.7" r="5.75" fill="none" stroke="#B22222" stroke-opacity=".45" stroke-width="1.7"/>
<circle cx="447.5" cy="427.7" r="6.6" fill="#B22222" fill-opacity=".55"/><circle cx="447.5" cy="427.7" r="5.75" fill="none" stroke="#B22222" stroke-opacity=".45" stroke-width="1.7"/>
<circle cx="478.8" cy="386.6" r="6.6" fill="#B22222" fill-opacity=".55"/><circle cx="478.8" cy="386.6" r="5.75" fill="none" stroke="#B22222" stroke-opacity=".45" stroke-width="1.7"/>
<circle cx="489.5" cy="346.5" r="6.6" fill="#B22222" fill-opacity=".55"/><circle cx="489.5" cy="346.5" r="5.75" fill="none" stroke="#B22222" stroke-opacity=".45" stroke-width="1.7"/>
<circle cx="473.8" cy="351.3" r="6.6" fill="#B22222" fill-opacity=".55"/><circle cx="473.8" cy="351.3" r="5.75" fill="none" stroke="#B22222" stroke-opacity=".45" stroke-width="1.7"/>
<circle cx="456.5" cy="421.7" r="6.6" fill="#B22222" fill-opacity=".55"/><circle cx="456.5" cy="421.7" r="5.75" fill="none" stroke="#B22222" stroke-opacity=".45" stroke-width="1.7"/>
<circle cx="506.2" cy="331.6" r="6.6" fill="#B22222" fill-opacity=".55"/><circle cx="506.2" cy="331.6" r="5.75" fill="none" stroke="#B22222" stroke-opacity=".45" stroke-width="1.7"/>
<circle cx="503.1" cy="364.6" r="6.6" fill="#B22222" fill-opacity=".55"/><circle cx="503.1" cy="364.6" r="5.75" fill="none" stroke="#B22222" stroke-opacity=".45" stroke-width="1.7"/>
<circle cx="527.2" cy="345.7" r="6.6" fill="#B22222" fill-opacity=".55"/><circle cx="527.2" cy="345.7" r="5.75" fill="none" stroke="#B22222" stroke-opacity=".45" stroke-width="1.7"/>
<circle cx="491.5" cy="352.0" r="6.6" fill="#B22222" fill-opacity=".55"/><circle cx="491.5" cy="352.0" r="5.75" fill="none" stroke="#B22222" stroke-opacity=".45" stroke-width="1.7"/>
<circle cx="501.4" cy="337.2" r="6.6" fill="#B22222" fill-opacity=".55"/><circle cx="501.4" cy="337.2" r="5.75" fill="none" stroke="#B22222" stroke-opacity=".45" stroke-width="1.7"/>
<circle cx="494.4" cy="331.6" r="6.6" fill="#B22222" fill-opacity=".55"/><circle cx="494.4" cy="331.6" r="5.75" fill="none" stroke="#B22222" stroke-opacity=".45" stroke-width="1.7"/>
<circle cx="442.7" cy="376.5" r="6.6" fill="#B22222" fill-opacity=".55"/><circle cx="442.7" cy="376.5" r="5.75" fill="none" stroke="#B22222" stroke-opacity=".45" stroke-width="1.7"/>
<circle cx="448.6" cy="372.4" r="6.6" fill="#CD2626" fill-opacity=".55"/><circle cx="448.6" cy="372.4" r="5.75" fill="none" stroke="#CD2626" stroke-opacity=".45" stroke-width="1.7"/>
<circle cx="496.2" cy="363.2" r="6.6" fill="#CD2626" fill-opacity=".55"/><circle cx="496.2" cy="363.2" r="5.75" fill="none" stroke="#CD2626" stroke-opacity=".45" stroke-width="1.7"/>
<circle cx="480.2" cy="382.7" r="6.6" fill="#CD2626" fill-opacity=".55"/><circle cx="480.2" cy="382.7" r="5.75" fill="none" stroke="#CD2626" stroke-opacity=".45" stroke-width="1.7"/>
<circle cx="472.4" cy="353.6" r="6.6" fill="#CD2626" fill-opacity=".55"/><circle cx="472.4" cy="353.6" r="5.75" fill="none" stroke="#CD2626" stroke-opacity=".45" stroke-width="1.7"/>
<circle cx="516.7" cy="357.4" r="6.6" fill="#CD2626" fill-opacity=".55"/><circle cx="516.7" cy="357.4" r="5.75" fill="none" stroke="#CD2626" stroke-opacity=".45" stroke-width="1.7"/>
<circle cx="452.6" cy="380.1" r="6.6" fill="#CD2626" fill-opacity=".55"/><circle cx="452.6" cy="380.1" r="5.75" fill="none" stroke="#CD2626" stroke-opacity=".45" stroke-width="1.7"/>
<circle cx="524.9" cy="356.0" r="6.6" fill="#CD2626" fill-opacity=".55"/><circle cx="524.9" cy="356.0" r="5.75" fill="none" stroke="#CD2626" stroke-opacity=".45" stroke-width="1.7"/>
<circle cx="514.3" cy="349.7" r="6.6" fill="#CD2626" fill-opacity=".55"/><circle cx="514.3" cy="349.7" r="5.75" fill="none" stroke="#CD2626" stroke-opacity=".45" stroke-width="1.7"/>
<circle cx="458.4" cy="394.8" r="6.6" fill="#CD2626" fill-opacity=".55"/><circle cx="458.4" cy="394.8" r="5.75" fill="none" stroke="#CD2626" stroke-opacity=".45" stroke-width="1.7"/>
<circle cx="442.7" cy="405.5" r="6.6" fill="#CD2626" fill-opacity=".55"/><circle cx="442.7" cy="405.5" r="5.75" fill="none" stroke="#CD2626" stroke-opacity=".45" stroke-width="1.7"/>
<circle cx="424.4" cy="381.4" r="6.6" fill="#CD2626" fill-opacity=".55"/><circle cx="424.4" cy="381.4" r="5.75" fill="none" stroke="#CD2626" stroke-opacity=".45" stroke-width="1.7"/>
<circle cx="466.2" cy="352.1" r="6.6" fill="#CD2626" fill-opacity=".55"/><circle cx="466.2" cy="352.1" r="5.75" fill="none" stroke="#CD2626" stroke-opacity=".45" stroke-width="1.7"/>
<circle cx="518.9" cy="357.9" r="6.6" fill="#CD2626" fill-opacity=".55"/><circle cx="518.9" cy="357.9" r="5.75" fill="none" stroke="#CD2626" stroke-opacity=".45" stroke-width="1.7"/>
<circle cx="429.3" cy="402.7" r="6.6" fill="#CD2626" fill-opacity=".55"/><circle cx="429.3" cy="402.7" r="5.75" fill="none" stroke="#CD2626" stroke-opacity=".45" stroke-width="1.7"/>
<circle cx="450.1" cy="394.8" r="6.6" fill="#CD2626" fill-opacity=".55"/><circle cx="450.1" cy="394.8" r="5.75" fill="none" stroke="#CD2626" stroke-opacity=".45" stroke-width="1.7"/>
<circle cx="500.6" cy="381.5" r="6.6" fill="#CD2626" fill-opacity=".55"/><circle cx="500.6" cy="381.5" r="5.75" fill="none" stroke="#CD2626" stroke-opacity=".45" stroke-width="1.7"/>
<circle cx="451.6" cy="372.9" r="6.6" fill="#CD2626" fill-opacity=".55"/><circle cx="451.6" cy="372.9" r="5.75" fill="none" stroke="#CD2626" stroke-opacity=".45" stroke-width="1.7"/>
<circle cx="438.9" cy="389.7" r="6.6" fill="#CD2626" fill-opacity=".55"/><circle cx="438.9" cy="389.7" r="5.75" fill="none" stroke="#CD2626" stroke-opacity=".45" stroke-width="1.7"/>
<circle cx="487.8" cy="365.1" r="6.6" fill="#CD2626" fill-opacity=".55"/><circle cx="487.8" cy="365.1" r="5.75" fill="none" stroke="#CD2626" stroke-opacity=".45" stroke-width="1.7"/>
<circle cx="492.9" cy="385.3" r="6.6" fill="#CD2626" fill-opacity=".55"/><circle cx="492.9" cy="385.3" r="5.75" fill="none" stroke="#CD2626" stroke-opacity=".45" stroke-width="1.7"/>
<circle cx="493.4" cy="354.7" r="6.6" fill="#CD2626" fill-opacity=".55"/><circle cx="493.4" cy="354.7" r="5.75" fill="none" stroke="#CD2626" stroke-opacity=".45" stroke-width="1.7"/>
<circle cx="534.9" cy="309.4" r="6.6" fill="#CD2626" fill-opacity=".55"/><circle cx="534.9" cy="309.4" r="5.75" fill="none" stroke="#CD2626" stroke-opacity=".45" stroke-width="1.7"/>
<circle cx="482.3" cy="354.2" r="6.6" fill="#CD2626" fill-opacity=".55"/><circle cx="482.3" cy="354.2" r="5.75" fill="none" stroke="#CD2626" stroke-opacity=".45" stroke-width="1.7"/>
<circle cx="430.5" cy="395.2" r="6.6" fill="#CD2626" fill-opacity=".55"/><circle cx="430.5" cy="395.2" r="5.75" fill="none" stroke="#CD2626" stroke-opacity=".45" stroke-width="1.7"/>
<circle cx="518.7" cy="320.4" r="6.6" fill="#CD2626" fill-opacity=".55"/><circle cx="518.7" cy="320.4" r="5.75" fill="none" stroke="#CD2626" stroke-opacity=".45" stroke-width="1.7"/>
<circle cx="499.3" cy="337.7" r="6.6" fill="#CD2626" fill-opacity=".55"/><circle cx="499.3" cy="337.7" r="5.75" fill="none" stroke="#CD2626" stroke-opacity=".45" stroke-width="1.7"/>
<circle cx="444.3" cy="376.7" r="6.6" fill="#CD2626" fill-opacity=".55"/><circle cx="444.3" cy="376.7" r="5.75" fill="none" stroke="#CD2626" stroke-opacity=".45" stroke-width="1.7"/>
<circle cx="500.6" cy="386.9" r="6.6" fill="#CD2626" fill-opacity=".55"/><circle cx="500.6" cy="386.9" r="5.75" fill="none" stroke="#CD2626" stroke-opacity=".45" stroke-width="1.7"/>
<circle cx="460.2" cy="420.4" r="6.6" fill="#CD2626" fill-opacity=".55"/><circle cx="460.2" cy="420.4" r="5.75" fill="none" stroke="#CD2626" stroke-opacity=".45" stroke-width="1.7"/>
<circle cx="491.1" cy="340.2" r="6.6" fill="#CD2626" fill-opacity=".55"/><circle cx="491.1" cy="340.2" r="5.75" fill="none" stroke="#CD2626" stroke-opacity=".45" stroke-width="1.7"/>
<circle cx="438.1" cy="395.2" r="6.6" fill="#CD2626" fill-opacity=".55"/><circle cx="438.1" cy="395.2" r="5.75" fill="none" stroke="#CD2626" stroke-opacity=".45" stroke-width="1.7"/>
<circle cx="513.5" cy="348.6" r="6.6" fill="#CD2626" fill-opacity=".55"/><circle cx="513.5" cy="348.6" r="5.75" fill="none" stroke="#CD2626" stroke-opacity=".45" stroke-width="1.7"/>
<circle cx="486.3" cy="384.5" r="6.6" fill="#CD2626" fill-opacity=".55"/><circle cx="486.3" cy="384.5" r="5.75" fill="none" stroke="#CD2626" stroke-opacity=".45" stroke-width="1.7"/>
<circle cx="514.1" cy="329.0" r="6.6" fill="#CD2626" fill-opacity=".55"/><circle cx="514.1" cy="329.0" r="5.75" fill="none" stroke="#CD2626" stroke-opacity=".45" stroke-width="1.7"/>
<circle cx="538.3" cy="335.0" r="6.6" fill="#CD2626" fill-opacity=".55"/><circle cx="538.3" cy="335.0" r="5.75" fill="none" stroke="#CD2626" stroke-opacity=".45" stroke-width="1.7"/>
<circle cx="480.7" cy="348.4" r="6.6" fill="#CD2626" fill-opacity=".55"/><circle cx="480.7" cy="348.4" r="5.75" fill="none" stroke="#CD2626" stroke-opacity=".45" stroke-width="1.7"/>
<circle cx="475.7" cy="359.7" r="6.6" fill="#CD2626" fill-opacity=".55"/><circle cx="475.7" cy="359.7" r="5.75" fill="none" stroke="#CD2626" stroke-opacity=".45" stroke-width="1.7"/>
<circle cx="503.1" cy="320.6" r="6.6" fill="#CD2626" fill-opacity=".55"/><circle cx="503.1" cy="320.6" r="5.75" fill="none" stroke="#CD2626" stroke-opacity=".45" stroke-width="1.7"/>
<circle cx="483.1" cy="357.3" r="6.6" fill="#CD2626" fill-opacity=".55"/><circle cx="483.1" cy="357.3" r="5.75" fill="none" stroke="#CD2626" stroke-opacity=".45" stroke-width="1.7"/>
<circle cx="443.2" cy="413.6" r="6.6" fill="#CD2626" fill-opacity=".55"/><circle cx="443.2" cy="413.6" r="5.75" fill="none" stroke="#CD2626" stroke-opacity=".45" stroke-width="1.7"/>
<circle cx="510.3" cy="320.1" r="6.6" fill="#CD2626" fill-opacity=".55"/><circle cx="510.3" cy="320.1" r="5.75" fill="none" stroke="#CD2626" stroke-opacity=".45" stroke-width="1.7"/>
<circle cx="491.0" cy="366.8" r="6.6" fill="#CD2626" fill-opacity=".55"/><circle cx="491.0" cy="366.8" r="5.75" fill="none" stroke="#CD2626" stroke-opacity=".45" stroke-width="1.7"/>
<circle cx="506.6" cy="340.7" r="6.6" fill="#CD2626" fill-opacity=".55"/><circle cx="506.6" cy="340.7" r="5.75" fill="none" stroke="#CD2626" stroke-opacity=".45" stroke-width="1.7"/>
<circle cx="542.3" cy="263.9" r="6.6" fill="#CD2626" fill-opacity=".55"/><circle cx="542.3" cy="263.9" r="5.75" fill="none" stroke="#CD2626" stroke-opacity=".45" stroke-width="1.7"/>
<circle cx="528.0" cy="274.4" r="6.6" fill="#CD2626" fill-opacity=".55"/><circle cx="528.0" cy="274.4" r="5.75" fill="none" stroke="#CD2626" stroke-opacity=".45" stroke-width="1.7"/>
<circle cx="539.4" cy="279.9" r="6.6" fill="#CD2626" fill-opacity=".55"/><circle cx="539.4" cy="279.9" r="5.75" fill="none" stroke="#CD2626" stroke-opacity=".45" stroke-width="1.7"/>
<circle cx="550.4" cy="285.4" r="6.6" fill="#CD2626" fill-opacity=".55"/><circle cx="550.4" cy="285.4" r="5.75" fill="none" stroke="#CD2626" stroke-opacity=".45" stroke-width="1.7"/>
<circle cx="479.0" cy="308.4" r="6.6" fill="#CD2626" fill-opacity=".55"/><circle cx="479.0" cy="308.4" r="5.75" fill="none" stroke="#CD2626" stroke-opacity=".45" stroke-width="1.7"/>
<circle cx="470.8" cy="320.3" r="6.6" fill="#CD2626" fill-opacity=".55"/><circle cx="470.8" cy="320.3" r="5.75" fill="none" stroke="#CD2626" stroke-opacity=".45" stroke-width="1.7"/>
<circle cx="439.3" cy="332.7" r="6.6" fill="#CD2626" fill-opacity=".55"/><circle cx="439.3" cy="332.7" r="5.75" fill="none" stroke="#CD2626" stroke-opacity=".45" stroke-width="1.7"/>
<circle cx="459.1" cy="338.9" r="6.6" fill="#CD2626" fill-opacity=".55"/><circle cx="459.1" cy="338.9" r="5.75" fill="none" stroke="#CD2626" stroke-opacity=".45" stroke-width="1.7"/>
<circle cx="447.0" cy="348.5" r="6.6" fill="#CD2626" fill-opacity=".55"/><circle cx="447.0" cy="348.5" r="5.75" fill="none" stroke="#CD2626" stroke-opacity=".45" stroke-width="1.7"/>
<circle cx="552.8" cy="305.7" r="6.6" fill="#CD2626" fill-opacity=".55"/><circle cx="552.8" cy="305.7" r="5.75" fill="none" stroke="#CD2626" stroke-opacity=".45" stroke-width="1.7"/>
<circle cx="573.4" cy="321.1" r="6.6" fill="#CD2626" fill-opacity=".55"/><circle cx="573.4" cy="321.1" r="5.75" fill="none" stroke="#CD2626" stroke-opacity=".45" stroke-width="1.7"/>
<circle cx="569.1" cy="345.9" r="6.6" fill="#CD2626" fill-opacity=".55"/><circle cx="569.1" cy="345.9" r="5.75" fill="none" stroke="#CD2626" stroke-opacity=".45" stroke-width="1.7"/>
<circle cx="564.0" cy="379.6" r="6.6" fill="#CD2626" fill-opacity=".55"/><circle cx="564.0" cy="379.6" r="5.75" fill="none" stroke="#CD2626" stroke-opacity=".45" stroke-width="1.7"/>
<circle cx="522.3" cy="309.9" r="6.6" fill="#CD2626" fill-opacity=".55"/><circle cx="522.3" cy="309.9" r="5.75" fill="none" stroke="#CD2626" stroke-opacity=".45" stroke-width="1.7"/>
<circle cx="433.4" cy="363.1" r="6.6" fill="#CD2626" fill-opacity=".55"/><circle cx="433.4" cy="363.1" r="5.75" fill="none" stroke="#CD2626" stroke-opacity=".45" stroke-width="1.7"/>
<circle cx="435.7" cy="370.2" r="6.6" fill="#CD2626" fill-opacity=".55"/><circle cx="435.7" cy="370.2" r="5.75" fill="none" stroke="#CD2626" stroke-opacity=".45" stroke-width="1.7"/>
<circle cx="474.7" cy="342.4" r="6.6" fill="#CD2626" fill-opacity=".55"/><circle cx="474.7" cy="342.4" r="5.75" fill="none" stroke="#CD2626" stroke-opacity=".45" stroke-width="1.7"/>
<circle cx="534.7" cy="415.5" r="6.6" fill="#CD2626" fill-opacity=".55"/><circle cx="534.7" cy="415.5" r="5.75" fill="none" stroke="#CD2626" stroke-opacity=".45" stroke-width="1.7"/>
<circle cx="514.3" cy="423.6" r="6.6" fill="#CD2626" fill-opacity=".55"/><circle cx="514.3" cy="423.6" r="5.75" fill="none" stroke="#CD2626" stroke-opacity=".45" stroke-width="1.7"/>
<circle cx="508.7" cy="412.8" r="6.6" fill="#CD2626" fill-opacity=".55"/><circle cx="508.7" cy="412.8" r="5.75" fill="none" stroke="#CD2626" stroke-opacity=".45" stroke-width="1.7"/>
<circle cx="502.7" cy="423.1" r="6.6" fill="#CD2626" fill-opacity=".55"/><circle cx="502.7" cy="423.1" r="5.75" fill="none" stroke="#CD2626" stroke-opacity=".45" stroke-width="1.7"/>
<circle cx="488.6" cy="435.9" r="6.6" fill="#CD2626" fill-opacity=".55"/><circle cx="488.6" cy="435.9" r="5.75" fill="none" stroke="#CD2626" stroke-opacity=".45" stroke-width="1.7"/>
<circle cx="477.0" cy="440.2" r="6.6" fill="#CD2626" fill-opacity=".55"/><circle cx="477.0" cy="440.2" r="5.75" fill="none" stroke="#CD2626" stroke-opacity=".45" stroke-width="1.7"/>
<circle cx="475.3" cy="434.2" r="6.6" fill="#CD2626" fill-opacity=".55"/><circle cx="475.3" cy="434.2" r="5.75" fill="none" stroke="#CD2626" stroke-opacity=".45" stroke-width="1.7"/>
<circle cx="461.6" cy="429.1" r="6.6" fill="#CD2626" fill-opacity=".55"/><circle cx="461.6" cy="429.1" r="5.75" fill="none" stroke="#CD2626" stroke-opacity=".45" stroke-width="1.7"/>
<circle cx="471.9" cy="452.2" r="6.6" fill="#CD2626" fill-opacity=".55"/><circle cx="471.9" cy="452.2" r="5.75" fill="none" stroke="#CD2626" stroke-opacity=".45" stroke-width="1.7"/>
<circle cx="443.9" cy="388.0" r="6.6" fill="#FFA500" fill-opacity=".55"/><circle cx="443.9" cy="388.0" r="5.75" fill="none" stroke="#FFA500" stroke-opacity=".45" stroke-width="1.7"/>
<circle cx="470.8" cy="350.2" r="6.6" fill="#FFA500" fill-opacity=".55"/><circle cx="470.8" cy="350.2" r="5.75" fill="none" stroke="#FFA500" stroke-opacity=".45" stroke-width="1.7"/>
<circle cx="463.8" cy="387.7" r="6.6" fill="#FFA500" fill-opacity=".55"/><circle cx="463.8" cy="387.7" r="5.75" fill="none" stroke="#FFA500" stroke-opacity=".45" stroke-width="1.7"/>
<circle cx="458.5" cy="397.9" r="6.6" fill="#FFA500" fill-opacity=".55"/><circle cx="458.5" cy="397.9" r="5.75" fill="none" stroke="#FFA500" stroke-opacity=".45" stroke-width="1.7"/>
<circle cx="459.6" cy="388.2" r="6.6" fill="#FFA500" fill-opacity=".55"/><circle cx="459.6" cy="388.2" r="5.75" fill="none" stroke="#FFA500" stroke-opacity=".45" stroke-width="1.7"/>
<circle cx="518.2" cy="353.6" r="6.6" fill="#FFA500" fill-opacity=".55"/><circle cx="518.2" cy="353.6" r="5.75" fill="none" stroke="#FFA500" stroke-opacity=".45" stroke-width="1.7"/>
<circle cx="487.8" cy="401.7" r="6.6" fill="#FFA500" fill-opacity=".55"/><circle cx="487.8" cy="401.7" r="5.75" fill="none" stroke="#FFA500" stroke-opacity=".45" stroke-width="1.7"/>
<circle cx="493.4" cy="355.8" r="6.6" fill="#FFA500" fill-opacity=".55"/><circle cx="493.4" cy="355.8" r="5.75" fill="none" stroke="#FFA500" stroke-opacity=".45" stroke-width="1.7"/>
<circle cx="486.5" cy="366.6" r="6.6" fill="#FFA500" fill-opacity=".55"/><circle cx="486.5" cy="366.6" r="5.75" fill="none" stroke="#FFA500" stroke-opacity=".45" stroke-width="1.7"/>
<circle cx="473.5" cy="412.1" r="6.6" fill="#FFA500" fill-opacity=".55"/><circle cx="473.5" cy="412.1" r="5.75" fill="none" stroke="#FFA500" stroke-opacity=".45" stroke-width="1.7"/>
<circle cx="506.8" cy="365.5" r="6.6" fill="#FFA500" fill-opacity=".55"/><circle cx="506.8" cy="365.5" r="5.75" fill="none" stroke="#FFA500" stroke-opacity=".45" stroke-width="1.7"/>
<circle cx="507.2" cy="344.6" r="6.6" fill="#FFA500" fill-opacity=".55"/><circle cx="507.2" cy="344.6" r="5.75" fill="none" stroke="#FFA500" stroke-opacity=".45" stroke-width="1.7"/>
<circle cx="485.4" cy="349.8" r="6.6" fill="#FFA500" fill-opacity=".55"/><circle cx="485.4" cy="349.8" r="5.75" fill="none" stroke="#FFA500" stroke-opacity=".45" stroke-width="1.7"/>
<circle cx="579.5" cy="254.6" r="6.6" fill="#FFA500" fill-opacity=".55"/><circle cx="579.5" cy="254.6" r="5.75" fill="none" stroke="#FFA500" stroke-opacity=".45" stroke-width="1.7"/>
<circle cx="560.5" cy="341.6" r="6.6" fill="#FFA500" fill-opacity=".55"/><circle cx="560.5" cy="341.6" r="5.75" fill="none" stroke="#FFA500" stroke-opacity=".45" stroke-width="1.7"/>
<circle cx="430.6" cy="383.9" r="6.6" fill="#FFA500" fill-opacity=".55"/><circle cx="430.6" cy="383.9" r="5.75" fill="none" stroke="#FFA500" stroke-opacity=".45" stroke-width="1.7"/>
<circle cx="733.8" cy="129.5" r="6.6" fill="#7F7F7F" fill-opacity=".55"/><circle cx="733.8" cy="129.5" r="5.75" fill="none" stroke="#7F7F7F" stroke-opacity=".45" stroke-width="1.7"/>
<circle cx="771.6" cy="144.7" r="6.6" fill="#7F7F7F" fill-opacity=".55"/><circle cx="771.6" cy="144.7" r="5.75" fill="none" stroke="#7F7F7F" stroke-opacity=".45" stroke-width="1.7"/>
<circle cx="675.3" cy="151.0" r="6.6" fill="#7F7F7F" fill-opacity=".55"/><circle cx="675.3" cy="151.0" r="5.75" fill="none" stroke="#7F7F7F" stroke-opacity=".45" stroke-width="1.7"/>
<circle cx="761.6" cy="168.6" r="6.6" fill="#7F7F7F" fill-opacity=".55"/><circle cx="761.6" cy="168.6" r="5.75" fill="none" stroke="#7F7F7F" stroke-opacity=".45" stroke-width="1.7"/>
<circle cx="648.3" cy="174.3" r="6.6" fill="#7F7F7F" fill-opacity=".55"/><circle cx="648.3" cy="174.3" r="5.75" fill="none" stroke="#7F7F7F" stroke-opacity=".45" stroke-width="1.7"/>
<circle cx="694.2" cy="218.0" r="6.6" fill="#7F7F7F" fill-opacity=".55"/><circle cx="694.2" cy="218.0" r="5.75" fill="none" stroke="#7F7F7F" stroke-opacity=".45" stroke-width="1.7"/>
<circle cx="605.0" cy="240.0" r="6.6" fill="#7F7F7F" fill-opacity=".55"/><circle cx="605.0" cy="240.0" r="5.75" fill="none" stroke="#7F7F7F" stroke-opacity=".45" stroke-width="1.7"/>
<circle cx="609.4" cy="290.2" r="6.6" fill="#7F7F7F" fill-opacity=".55"/><circle cx="609.4" cy="290.2" r="5.75" fill="none" stroke="#7F7F7F" stroke-opacity=".45" stroke-width="1.7"/>
<circle cx="673.8" cy="311.3" r="6.6" fill="#7F7F7F" fill-opacity=".55"/><circle cx="673.8" cy="311.3" r="5.75" fill="none" stroke="#7F7F7F" stroke-opacity=".45" stroke-width="1.7"/>
<circle cx="610.3" cy="336.1" r="6.6" fill="#7F7F7F" fill-opacity=".55"/><circle cx="610.3" cy="336.1" r="5.75" fill="none" stroke="#7F7F7F" stroke-opacity=".45" stroke-width="1.7"/>
<circle cx="620.5" cy="348.5" r="6.6" fill="#7F7F7F" fill-opacity=".55"/><circle cx="620.5" cy="348.5" r="5.75" fill="none" stroke="#7F7F7F" stroke-opacity=".45" stroke-width="1.7"/>
<circle cx="583.1" cy="349.8" r="6.6" fill="#7F7F7F" fill-opacity=".55"/><circle cx="583.1" cy="349.8" r="5.75" fill="none" stroke="#7F7F7F" stroke-opacity=".45" stroke-width="1.7"/>
<circle cx="582.4" cy="307.4" r="6.6" fill="#7F7F7F" fill-opacity=".55"/><circle cx="582.4" cy="307.4" r="5.75" fill="none" stroke="#7F7F7F" stroke-opacity=".45" stroke-width="1.7"/>
<circle cx="543.9" cy="200.2" r="6.6" fill="#7F7F7F" fill-opacity=".55"/><circle cx="543.9" cy="200.2" r="5.75" fill="none" stroke="#7F7F7F" stroke-opacity=".45" stroke-width="1.7"/>
<circle cx="565.8" cy="265.6" r="6.6" fill="#7F7F7F" fill-opacity=".55"/><circle cx="565.8" cy="265.6" r="5.75" fill="none" stroke="#7F7F7F" stroke-opacity=".45" stroke-width="1.7"/>
<circle cx="525.1" cy="270.0" r="6.6" fill="#7F7F7F" fill-opacity=".55"/><circle cx="525.1" cy="270.0" r="5.75" fill="none" stroke="#7F7F7F" stroke-opacity=".45" stroke-width="1.7"/>
<circle cx="492.6" cy="274.9" r="6.6" fill="#7F7F7F" fill-opacity=".55"/><circle cx="492.6" cy="274.9" r="5.75" fill="none" stroke="#7F7F7F" stroke-opacity=".45" stroke-width="1.7"/>
<circle cx="406.8" cy="309.9" r="6.6" fill="#7F7F7F" fill-opacity=".55"/><circle cx="406.8" cy="309.9" r="5.75" fill="none" stroke="#7F7F7F" stroke-opacity=".45" stroke-width="1.7"/>
<circle cx="509.6" cy="291.6" r="6.6" fill="#7F7F7F" fill-opacity=".55"/><circle cx="509.6" cy="291.6" r="5.75" fill="none" stroke="#7F7F7F" stroke-opacity=".45" stroke-width="1.7"/>
<circle cx="381.7" cy="388.3" r="6.6" fill="#7F7F7F" fill-opacity=".55"/><circle cx="381.7" cy="388.3" r="5.75" fill="none" stroke="#7F7F7F" stroke-opacity=".45" stroke-width="1.7"/>
<circle cx="439.4" cy="405.9" r="6.6" fill="#7F7F7F" fill-opacity=".55"/><circle cx="439.4" cy="405.9" r="5.75" fill="none" stroke="#7F7F7F" stroke-opacity=".45" stroke-width="1.7"/>
<circle cx="529.5" cy="399.6" r="6.6" fill="#7F7F7F" fill-opacity=".55"/><circle cx="529.5" cy="399.6" r="5.75" fill="none" stroke="#7F7F7F" stroke-opacity=".45" stroke-width="1.7"/>
<circle cx="479.1" cy="483.3" r="6.6" fill="#7F7F7F" fill-opacity=".55"/><circle cx="479.1" cy="483.3" r="5.75" fill="none" stroke="#7F7F7F" stroke-opacity=".45" stroke-width="1.7"/>
<circle cx="443.6" cy="503.5" r="6.6" fill="#7F7F7F" fill-opacity=".55"/><circle cx="443.6" cy="503.5" r="5.75" fill="none" stroke="#7F7F7F" stroke-opacity=".45" stroke-width="1.7"/>
<circle cx="410.3" cy="478.7" r="6.6" fill="#7F7F7F" fill-opacity=".55"/><circle cx="410.3" cy="478.7" r="5.75" fill="none" stroke="#7F7F7F" stroke-opacity=".45" stroke-width="1.7"/>
<circle cx="400.0" cy="526.6" r="6.6" fill="#7F7F7F" fill-opacity=".55"/><circle cx="400.0" cy="526.6" r="5.75" fill="none" stroke="#7F7F7F" stroke-opacity=".45" stroke-width="1.7"/>
<circle cx="415.5" cy="554.1" r="6.6" fill="#7F7F7F" fill-opacity=".55"/><circle cx="415.5" cy="554.1" r="5.75" fill="none" stroke="#7F7F7F" stroke-opacity=".45" stroke-width="1.7"/>
<circle cx="314.9" cy="443.0" r="6.6" fill="#7F7F7F" fill-opacity=".55"/><circle cx="314.9" cy="443.0" r="5.75" fill="none" stroke="#7F7F7F" stroke-opacity=".45" stroke-width="1.7"/>
<circle cx="360.9" cy="447.4" r="6.6" fill="#7F7F7F" fill-opacity=".55"/><circle cx="360.9" cy="447.4" r="5.75" fill="none" stroke="#7F7F7F" stroke-opacity=".45" stroke-width="1.7"/>
<circle cx="301.7" cy="472.3" r="6.6" fill="#7F7F7F" fill-opacity=".55"/><circle cx="301.7" cy="472.3" r="5.75" fill="none" stroke="#7F7F7F" stroke-opacity=".45" stroke-width="1.7"/>
<circle cx="290.9" cy="486.1" r="6.6" fill="#7F7F7F" fill-opacity=".55"/><circle cx="290.9" cy="486.1" r="5.75" fill="none" stroke="#7F7F7F" stroke-opacity=".45" stroke-width="1.7"/>
<circle cx="310.5" cy="527.2" r="6.6" fill="#7F7F7F" fill-opacity=".55"/><circle cx="310.5" cy="527.2" r="5.75" fill="none" stroke="#7F7F7F" stroke-opacity=".45" stroke-width="1.7"/>
<circle cx="336.9" cy="532.4" r="6.6" fill="#7F7F7F" fill-opacity=".55"/><circle cx="336.9" cy="532.4" r="5.75" fill="none" stroke="#7F7F7F" stroke-opacity=".45" stroke-width="1.7"/>
<circle cx="329.0" cy="541.8" r="6.6" fill="#7F7F7F" fill-opacity=".55"/><circle cx="329.0" cy="541.8" r="5.75" fill="none" stroke="#7F7F7F" stroke-opacity=".45" stroke-width="1.7"/>
<circle cx="334.5" cy="552.7" r="6.6" fill="#7F7F7F" fill-opacity=".55"/><circle cx="334.5" cy="552.7" r="5.75" fill="none" stroke="#7F7F7F" stroke-opacity=".45" stroke-width="1.7"/>
<circle cx="359.5" cy="549.1" r="6.6" fill="#7F7F7F" fill-opacity=".55"/><circle cx="359.5" cy="549.1" r="5.75" fill="none" stroke="#7F7F7F" stroke-opacity=".45" stroke-width="1.7"/>
<circle cx="213.1" cy="586.4" r="6.6" fill="#7F7F7F" fill-opacity=".55"/><circle cx="213.1" cy="586.4" r="5.75" fill="none" stroke="#7F7F7F" stroke-opacity=".45" stroke-width="1.7"/>
<circle cx="570.1" cy="424.6" r="6.6" fill="#7F7F7F" fill-opacity=".55"/><circle cx="570.1" cy="424.6" r="5.75" fill="none" stroke="#7F7F7F" stroke-opacity=".45" stroke-width="1.7"/>
<circle cx="545.3" cy="320.2" r="6.6" fill="#8B4513" fill-opacity=".55"/><circle cx="545.3" cy="320.2" r="5.75" fill="none" stroke="#8B4513" stroke-opacity=".45" stroke-width="1.7"/>
<circle cx="535.1" cy="331.8" r="6.6" fill="#8B4513" fill-opacity=".55"/><circle cx="535.1" cy="331.8" r="5.75" fill="none" stroke="#8B4513" stroke-opacity=".45" stroke-width="1.7"/>
<circle cx="451.3" cy="398.5" r="6.6" fill="#8B4513" fill-opacity=".55"/><circle cx="451.3" cy="398.5" r="5.75" fill="none" stroke="#8B4513" stroke-opacity=".45" stroke-width="1.7"/>
<circle cx="531.3" cy="353.0" r="6.6" fill="#8B4513" fill-opacity=".55"/><circle cx="531.3" cy="353.0" r="5.75" fill="none" stroke="#8B4513" stroke-opacity=".45" stroke-width="1.7"/>
<circle cx="514.2" cy="312.3" r="6.6" fill="#8B4513" fill-opacity=".55"/><circle cx="514.2" cy="312.3" r="5.75" fill="none" stroke="#8B4513" stroke-opacity=".45" stroke-width="1.7"/>
<circle cx="466.3" cy="370.1" r="6.6" fill="#8B4513" fill-opacity=".55"/><circle cx="466.3" cy="370.1" r="5.75" fill="none" stroke="#8B4513" stroke-opacity=".45" stroke-width="1.7"/>
<circle cx="472.9" cy="382.4" r="6.6" fill="#8B4513" fill-opacity=".55"/><circle cx="472.9" cy="382.4" r="5.75" fill="none" stroke="#8B4513" stroke-opacity=".45" stroke-width="1.7"/>
<circle cx="497.6" cy="348.7" r="6.6" fill="#8B4513" fill-opacity=".55"/><circle cx="497.6" cy="348.7" r="5.75" fill="none" stroke="#8B4513" stroke-opacity=".45" stroke-width="1.7"/>
<circle cx="494.1" cy="322.3" r="6.6" fill="#8B4513" fill-opacity=".55"/><circle cx="494.1" cy="322.3" r="5.75" fill="none" stroke="#8B4513" stroke-opacity=".45" stroke-width="1.7"/>
<circle cx="493.0" cy="371.9" r="6.6" fill="#8B4513" fill-opacity=".55"/><circle cx="493.0" cy="371.9" r="5.75" fill="none" stroke="#8B4513" stroke-opacity=".45" stroke-width="1.7"/>
<circle cx="535.9" cy="332.8" r="6.6" fill="#8B4513" fill-opacity=".55"/><circle cx="535.9" cy="332.8" r="5.75" fill="none" stroke="#8B4513" stroke-opacity=".45" stroke-width="1.7"/>
<circle cx="514.2" cy="358.8" r="6.6" fill="#8B4513" fill-opacity=".55"/><circle cx="514.2" cy="358.8" r="5.75" fill="none" stroke="#8B4513" stroke-opacity=".45" stroke-width="1.7"/>
<circle cx="484.9" cy="372.5" r="6.6" fill="#8B4513" fill-opacity=".55"/><circle cx="484.9" cy="372.5" r="5.75" fill="none" stroke="#8B4513" stroke-opacity=".45" stroke-width="1.7"/>
<circle cx="464.0" cy="379.2" r="6.6" fill="#8B4513" fill-opacity=".55"/><circle cx="464.0" cy="379.2" r="5.75" fill="none" stroke="#8B4513" stroke-opacity=".45" stroke-width="1.7"/>
<circle cx="535.5" cy="331.8" r="6.6" fill="#8B4513" fill-opacity=".55"/><circle cx="535.5" cy="331.8" r="5.75" fill="none" stroke="#8B4513" stroke-opacity=".45" stroke-width="1.7"/>
<circle cx="519.8" cy="328.2" r="6.6" fill="#8B4513" fill-opacity=".55"/><circle cx="519.8" cy="328.2" r="5.75" fill="none" stroke="#8B4513" stroke-opacity=".45" stroke-width="1.7"/>
<circle cx="512.4" cy="331.0" r="6.6" fill="#8B4513" fill-opacity=".55"/><circle cx="512.4" cy="331.0" r="5.75" fill="none" stroke="#8B4513" stroke-opacity=".45" stroke-width="1.7"/>
<circle cx="467.8" cy="341.7" r="6.6" fill="#8B4513" fill-opacity=".55"/><circle cx="467.8" cy="341.7" r="5.75" fill="none" stroke="#8B4513" stroke-opacity=".45" stroke-width="1.7"/>
<circle cx="470.4" cy="393.8" r="6.6" fill="#8B4513" fill-opacity=".55"/><circle cx="470.4" cy="393.8" r="5.75" fill="none" stroke="#8B4513" stroke-opacity=".45" stroke-width="1.7"/>
<circle cx="497.5" cy="369.4" r="6.6" fill="#8B4513" fill-opacity=".55"/><circle cx="497.5" cy="369.4" r="5.75" fill="none" stroke="#8B4513" stroke-opacity=".45" stroke-width="1.7"/>
<circle cx="498.9" cy="335.4" r="6.6" fill="#8B4513" fill-opacity=".55"/><circle cx="498.9" cy="335.4" r="5.75" fill="none" stroke="#8B4513" stroke-opacity=".45" stroke-width="1.7"/>
<circle cx="479.5" cy="346.7" r="6.6" fill="#8B4513" fill-opacity=".55"/><circle cx="479.5" cy="346.7" r="5.75" fill="none" stroke="#8B4513" stroke-opacity=".45" stroke-width="1.7"/>
<circle cx="485.6" cy="300.7" r="6.6" fill="#8B4513" fill-opacity=".55"/><circle cx="485.6" cy="300.7" r="5.75" fill="none" stroke="#8B4513" stroke-opacity=".45" stroke-width="1.7"/>
<circle cx="491.4" cy="311.5" r="6.6" fill="#8B4513" fill-opacity=".55"/><circle cx="491.4" cy="311.5" r="5.75" fill="none" stroke="#8B4513" stroke-opacity=".45" stroke-width="1.7"/>
<circle cx="480.6" cy="322.7" r="6.6" fill="#8B4513" fill-opacity=".55"/><circle cx="480.6" cy="322.7" r="5.75" fill="none" stroke="#8B4513" stroke-opacity=".45" stroke-width="1.7"/>
<circle cx="437.2" cy="346.4" r="6.6" fill="#8B4513" fill-opacity=".55"/><circle cx="437.2" cy="346.4" r="5.75" fill="none" stroke="#8B4513" stroke-opacity=".45" stroke-width="1.7"/>
<circle cx="581.1" cy="327.9" r="6.6" fill="#8B4513" fill-opacity=".55"/><circle cx="581.1" cy="327.9" r="5.75" fill="none" stroke="#8B4513" stroke-opacity=".45" stroke-width="1.7"/>
<circle cx="567.7" cy="374.1" r="6.6" fill="#8B4513" fill-opacity=".55"/><circle cx="567.7" cy="374.1" r="5.75" fill="none" stroke="#8B4513" stroke-opacity=".45" stroke-width="1.7"/>
<circle cx="397.4" cy="388.9" r="6.6" fill="#8B4513" fill-opacity=".55"/><circle cx="397.4" cy="388.9" r="5.75" fill="none" stroke="#8B4513" stroke-opacity=".45" stroke-width="1.7"/>
<circle cx="417.4" cy="405.9" r="6.6" fill="#8B4513" fill-opacity=".55"/><circle cx="417.4" cy="405.9" r="5.75" fill="none" stroke="#8B4513" stroke-opacity=".45" stroke-width="1.7"/>
<circle cx="410.3" cy="418.6" r="6.6" fill="#8B4513" fill-opacity=".55"/><circle cx="410.3" cy="418.6" r="5.75" fill="none" stroke="#8B4513" stroke-opacity=".45" stroke-width="1.7"/>
<circle cx="495.3" cy="388.5" r="6.6" fill="#8B4513" fill-opacity=".55"/><circle cx="495.3" cy="388.5" r="5.75" fill="none" stroke="#8B4513" stroke-opacity=".45" stroke-width="1.7"/>
<circle cx="501.3" cy="430.5" r="6.6" fill="#8B4513" fill-opacity=".55"/><circle cx="501.3" cy="430.5" r="5.75" fill="none" stroke="#8B4513" stroke-opacity=".45" stroke-width="1.7"/>
<circle cx="516.9" cy="363.8" r="6.6" fill="#228B22" fill-opacity=".55"/><circle cx="516.9" cy="363.8" r="5.75" fill="none" stroke="#228B22" stroke-opacity=".45" stroke-width="1.7"/>
<circle cx="474.3" cy="398.0" r="6.6" fill="#228B22" fill-opacity=".55"/><circle cx="474.3" cy="398.0" r="5.75" fill="none" stroke="#228B22" stroke-opacity=".45" stroke-width="1.7"/>
<circle cx="449.0" cy="402.4" r="6.6" fill="#228B22" fill-opacity=".55"/><circle cx="449.0" cy="402.4" r="5.75" fill="none" stroke="#228B22" stroke-opacity=".45" stroke-width="1.7"/>
<circle cx="479.5" cy="383.1" r="6.6" fill="#228B22" fill-opacity=".55"/><circle cx="479.5" cy="383.1" r="5.75" fill="none" stroke="#228B22" stroke-opacity=".45" stroke-width="1.7"/>
<circle cx="509.6" cy="336.7" r="6.6" fill="#228B22" fill-opacity=".55"/><circle cx="509.6" cy="336.7" r="5.75" fill="none" stroke="#228B22" stroke-opacity=".45" stroke-width="1.7"/>
<circle cx="528.9" cy="354.9" r="6.6" fill="#228B22" fill-opacity=".55"/><circle cx="528.9" cy="354.9" r="5.75" fill="none" stroke="#228B22" stroke-opacity=".45" stroke-width="1.7"/>
<circle cx="443.5" cy="389.5" r="6.6" fill="#228B22" fill-opacity=".55"/><circle cx="443.5" cy="389.5" r="5.75" fill="none" stroke="#228B22" stroke-opacity=".45" stroke-width="1.7"/>
<circle cx="459.2" cy="373.9" r="6.6" fill="#228B22" fill-opacity=".55"/><circle cx="459.2" cy="373.9" r="5.75" fill="none" stroke="#228B22" stroke-opacity=".45" stroke-width="1.7"/>
<circle cx="493.5" cy="383.4" r="6.6" fill="#228B22" fill-opacity=".55"/><circle cx="493.5" cy="383.4" r="5.75" fill="none" stroke="#228B22" stroke-opacity=".45" stroke-width="1.7"/>
<circle cx="507.4" cy="309.6" r="6.6" fill="#228B22" fill-opacity=".55"/><circle cx="507.4" cy="309.6" r="5.75" fill="none" stroke="#228B22" stroke-opacity=".45" stroke-width="1.7"/>
<circle cx="519.8" cy="351.7" r="6.6" fill="#228B22" fill-opacity=".55"/><circle cx="519.8" cy="351.7" r="5.75" fill="none" stroke="#228B22" stroke-opacity=".45" stroke-width="1.7"/>
<circle cx="541.1" cy="340.2" r="6.6" fill="#228B22" fill-opacity=".55"/><circle cx="541.1" cy="340.2" r="5.75" fill="none" stroke="#228B22" stroke-opacity=".45" stroke-width="1.7"/>
<circle cx="516.2" cy="338.0" r="6.6" fill="#228B22" fill-opacity=".55"/><circle cx="516.2" cy="338.0" r="5.75" fill="none" stroke="#228B22" stroke-opacity=".45" stroke-width="1.7"/>
<circle cx="493.2" cy="379.1" r="6.6" fill="#228B22" fill-opacity=".55"/><circle cx="493.2" cy="379.1" r="5.75" fill="none" stroke="#228B22" stroke-opacity=".45" stroke-width="1.7"/>
<circle cx="516.2" cy="338.2" r="6.6" fill="#228B22" fill-opacity=".55"/><circle cx="516.2" cy="338.2" r="5.75" fill="none" stroke="#228B22" stroke-opacity=".45" stroke-width="1.7"/>
<circle cx="651.5" cy="84.3" r="6.6" fill="#228B22" fill-opacity=".55"/><circle cx="651.5" cy="84.3" r="5.75" fill="none" stroke="#228B22" stroke-opacity=".45" stroke-width="1.7"/>
<circle cx="675.4" cy="97.8" r="6.6" fill="#228B22" fill-opacity=".55"/><circle cx="675.4" cy="97.8" r="5.75" fill="none" stroke="#228B22" stroke-opacity=".45" stroke-width="1.7"/>
<circle cx="577.7" cy="125.8" r="6.6" fill="#228B22" fill-opacity=".55"/><circle cx="577.7" cy="125.8" r="5.75" fill="none" stroke="#228B22" stroke-opacity=".45" stroke-width="1.7"/>
<circle cx="566.0" cy="140.1" r="6.6" fill="#228B22" fill-opacity=".55"/><circle cx="566.0" cy="140.1" r="5.75" fill="none" stroke="#228B22" stroke-opacity=".45" stroke-width="1.7"/>
<circle cx="600.6" cy="138.2" r="6.6" fill="#228B22" fill-opacity=".55"/><circle cx="600.6" cy="138.2" r="5.75" fill="none" stroke="#228B22" stroke-opacity=".45" stroke-width="1.7"/>
<circle cx="637.4" cy="132.6" r="6.6" fill="#228B22" fill-opacity=".55"/><circle cx="637.4" cy="132.6" r="5.75" fill="none" stroke="#228B22" stroke-opacity=".45" stroke-width="1.7"/>
<circle cx="589.9" cy="165.2" r="6.6" fill="#228B22" fill-opacity=".55"/><circle cx="589.9" cy="165.2" r="5.75" fill="none" stroke="#228B22" stroke-opacity=".45" stroke-width="1.7"/>
<circle cx="549.4" cy="212.0" r="6.6" fill="#228B22" fill-opacity=".55"/><circle cx="549.4" cy="212.0" r="5.75" fill="none" stroke="#228B22" stroke-opacity=".45" stroke-width="1.7"/>
<circle cx="577.4" cy="221.0" r="6.6" fill="#228B22" fill-opacity=".55"/><circle cx="577.4" cy="221.0" r="5.75" fill="none" stroke="#228B22" stroke-opacity=".45" stroke-width="1.7"/>
<circle cx="543.4" cy="243.4" r="6.6" fill="#228B22" fill-opacity=".55"/><circle cx="543.4" cy="243.4" r="5.75" fill="none" stroke="#228B22" stroke-opacity=".45" stroke-width="1.7"/>
<circle cx="584.6" cy="250.0" r="6.6" fill="#228B22" fill-opacity=".55"/><circle cx="584.6" cy="250.0" r="5.75" fill="none" stroke="#228B22" stroke-opacity=".45" stroke-width="1.7"/>
<circle cx="561.4" cy="256.8" r="6.6" fill="#228B22" fill-opacity=".55"/><circle cx="561.4" cy="256.8" r="5.75" fill="none" stroke="#228B22" stroke-opacity=".45" stroke-width="1.7"/>
<circle cx="510.4" cy="283.9" r="6.6" fill="#228B22" fill-opacity=".55"/><circle cx="510.4" cy="283.9" r="5.75" fill="none" stroke="#228B22" stroke-opacity=".45" stroke-width="1.7"/>
<circle cx="518.5" cy="292.5" r="6.6" fill="#228B22" fill-opacity=".55"/><circle cx="518.5" cy="292.5" r="5.75" fill="none" stroke="#228B22" stroke-opacity=".45" stroke-width="1.7"/>
<circle cx="402.6" cy="394.9" r="6.6" fill="#228B22" fill-opacity=".55"/><circle cx="402.6" cy="394.9" r="5.75" fill="none" stroke="#228B22" stroke-opacity=".45" stroke-width="1.7"/>
<circle cx="441.6" cy="400.4" r="6.6" fill="#228B22" fill-opacity=".55"/><circle cx="441.6" cy="400.4" r="5.75" fill="none" stroke="#228B22" stroke-opacity=".45" stroke-width="1.7"/>
<circle cx="500.1" cy="402.8" r="6.6" fill="#228B22" fill-opacity=".55"/><circle cx="500.1" cy="402.8" r="5.75" fill="none" stroke="#228B22" stroke-opacity=".45" stroke-width="1.7"/>
<circle cx="485.8" cy="394.9" r="6.6" fill="#228B22" fill-opacity=".55"/><circle cx="485.8" cy="394.9" r="5.75" fill="none" stroke="#228B22" stroke-opacity=".45" stroke-width="1.7"/>
<circle cx="491.5" cy="429.4" r="6.6" fill="#228B22" fill-opacity=".55"/><circle cx="491.5" cy="429.4" r="5.75" fill="none" stroke="#228B22" stroke-opacity=".45" stroke-width="1.7"/>
<circle cx="468.1" cy="438.0" r="6.6" fill="#228B22" fill-opacity=".55"/><circle cx="468.1" cy="438.0" r="5.75" fill="none" stroke="#228B22" stroke-opacity=".45" stroke-width="1.7"/>
<circle cx="478.7" cy="420.5" r="6.6" fill="#228B22" fill-opacity=".55"/><circle cx="478.7" cy="420.5" r="5.75" fill="none" stroke="#228B22" stroke-opacity=".45" stroke-width="1.7"/>
<circle cx="420.5" cy="410.3" r="6.6" fill="#228B22" fill-opacity=".55"/><circle cx="420.5" cy="410.3" r="5.75" fill="none" stroke="#228B22" stroke-opacity=".45" stroke-width="1.7"/>
<circle cx="487.6" cy="451.7" r="6.6" fill="#228B22" fill-opacity=".55"/><circle cx="487.6" cy="451.7" r="5.75" fill="none" stroke="#228B22" stroke-opacity=".45" stroke-width="1.7"/>
<circle cx="455.1" cy="485.2" r="6.6" fill="#228B22" fill-opacity=".55"/><circle cx="455.1" cy="485.2" r="5.75" fill="none" stroke="#228B22" stroke-opacity=".45" stroke-width="1.7"/>
<circle cx="437.6" cy="492.7" r="6.6" fill="#228B22" fill-opacity=".55"/><circle cx="437.6" cy="492.7" r="5.75" fill="none" stroke="#228B22" stroke-opacity=".45" stroke-width="1.7"/>
<circle cx="464.2" cy="493.3" r="6.6" fill="#228B22" fill-opacity=".55"/><circle cx="464.2" cy="493.3" r="5.75" fill="none" stroke="#228B22" stroke-opacity=".45" stroke-width="1.7"/>
<circle cx="412.0" cy="530.9" r="6.6" fill="#228B22" fill-opacity=".55"/><circle cx="412.0" cy="530.9" r="5.75" fill="none" stroke="#228B22" stroke-opacity=".45" stroke-width="1.7"/>
<circle cx="463.0" cy="530.9" r="6.6" fill="#228B22" fill-opacity=".55"/><circle cx="463.0" cy="530.9" r="5.75" fill="none" stroke="#228B22" stroke-opacity=".45" stroke-width="1.7"/>
<circle cx="446.3" cy="542.4" r="6.6" fill="#228B22" fill-opacity=".55"/><circle cx="446.3" cy="542.4" r="5.75" fill="none" stroke="#228B22" stroke-opacity=".45" stroke-width="1.7"/>
<circle cx="453.3" cy="554.4" r="6.6" fill="#228B22" fill-opacity=".55"/><circle cx="453.3" cy="554.4" r="5.75" fill="none" stroke="#228B22" stroke-opacity=".45" stroke-width="1.7"/>
<circle cx="463.9" cy="557.1" r="6.6" fill="#228B22" fill-opacity=".55"/><circle cx="463.9" cy="557.1" r="5.75" fill="none" stroke="#228B22" stroke-opacity=".45" stroke-width="1.7"/>
<circle cx="417.0" cy="569.1" r="6.6" fill="#228B22" fill-opacity=".55"/><circle cx="417.0" cy="569.1" r="5.75" fill="none" stroke="#228B22" stroke-opacity=".45" stroke-width="1.7"/>
<circle cx="400.5" cy="369.4" r="6.6" fill="#228B22" fill-opacity=".55"/><circle cx="400.5" cy="369.4" r="5.75" fill="none" stroke="#228B22" stroke-opacity=".45" stroke-width="1.7"/>
<circle cx="523.6" cy="340.3" r="6.6" fill="#FA8072" fill-opacity=".55"/><circle cx="523.6" cy="340.3" r="5.75" fill="none" stroke="#FA8072" stroke-opacity=".45" stroke-width="1.7"/>
<circle cx="461.2" cy="360.6" r="6.6" fill="#FA8072" fill-opacity=".55"/><circle cx="461.2" cy="360.6" r="5.75" fill="none" stroke="#FA8072" stroke-opacity=".45" stroke-width="1.7"/>
<circle cx="516.2" cy="351.5" r="6.6" fill="#FA8072" fill-opacity=".55"/><circle cx="516.2" cy="351.5" r="5.75" fill="none" stroke="#FA8072" stroke-opacity=".45" stroke-width="1.7"/>
<circle cx="424.1" cy="397.6" r="6.6" fill="#FA8072" fill-opacity=".55"/><circle cx="424.1" cy="397.6" r="5.75" fill="none" stroke="#FA8072" stroke-opacity=".45" stroke-width="1.7"/>
<circle cx="506.4" cy="358.5" r="6.6" fill="#FA8072" fill-opacity=".55"/><circle cx="506.4" cy="358.5" r="5.75" fill="none" stroke="#FA8072" stroke-opacity=".45" stroke-width="1.7"/>
<circle cx="469.3" cy="358.7" r="6.6" fill="#FA8072" fill-opacity=".55"/><circle cx="469.3" cy="358.7" r="5.75" fill="none" stroke="#FA8072" stroke-opacity=".45" stroke-width="1.7"/>
<circle cx="434.8" cy="401.8" r="6.6" fill="#FA8072" fill-opacity=".55"/><circle cx="434.8" cy="401.8" r="5.75" fill="none" stroke="#FA8072" stroke-opacity=".45" stroke-width="1.7"/>
<circle cx="480.2" cy="381.5" r="6.6" fill="#FA8072" fill-opacity=".55"/><circle cx="480.2" cy="381.5" r="5.75" fill="none" stroke="#FA8072" stroke-opacity=".45" stroke-width="1.7"/>
<circle cx="523.4" cy="321.5" r="6.6" fill="#FA8072" fill-opacity=".55"/><circle cx="523.4" cy="321.5" r="5.75" fill="none" stroke="#FA8072" stroke-opacity=".45" stroke-width="1.7"/>
<circle cx="505.6" cy="378.1" r="6.6" fill="#FA8072" fill-opacity=".55"/><circle cx="505.6" cy="378.1" r="5.75" fill="none" stroke="#FA8072" stroke-opacity=".45" stroke-width="1.7"/>
<circle cx="474.6" cy="387.3" r="6.6" fill="#FA8072" fill-opacity=".55"/><circle cx="474.6" cy="387.3" r="5.75" fill="none" stroke="#FA8072" stroke-opacity=".45" stroke-width="1.7"/>
<circle cx="504.8" cy="365.6" r="6.6" fill="#FA8072" fill-opacity=".55"/><circle cx="504.8" cy="365.6" r="5.75" fill="none" stroke="#FA8072" stroke-opacity=".45" stroke-width="1.7"/>
<circle cx="501.7" cy="349.7" r="6.6" fill="#FA8072" fill-opacity=".55"/><circle cx="501.7" cy="349.7" r="5.75" fill="none" stroke="#FA8072" stroke-opacity=".45" stroke-width="1.7"/>
<circle cx="496.4" cy="376.7" r="6.6" fill="#FA8072" fill-opacity=".55"/><circle cx="496.4" cy="376.7" r="5.75" fill="none" stroke="#FA8072" stroke-opacity=".45" stroke-width="1.7"/>
<circle cx="486.2" cy="360.5" r="6.6" fill="#FA8072" fill-opacity=".55"/><circle cx="486.2" cy="360.5" r="5.75" fill="none" stroke="#FA8072" stroke-opacity=".45" stroke-width="1.7"/>
<circle cx="478.1" cy="390.9" r="6.6" fill="#FA8072" fill-opacity=".55"/><circle cx="478.1" cy="390.9" r="5.75" fill="none" stroke="#FA8072" stroke-opacity=".45" stroke-width="1.7"/>
<circle cx="482.4" cy="383.8" r="6.6" fill="#FA8072" fill-opacity=".55"/><circle cx="482.4" cy="383.8" r="5.75" fill="none" stroke="#FA8072" stroke-opacity=".45" stroke-width="1.7"/>
<circle cx="450.4" cy="396.5" r="6.6" fill="#FA8072" fill-opacity=".55"/><circle cx="450.4" cy="396.5" r="5.75" fill="none" stroke="#FA8072" stroke-opacity=".45" stroke-width="1.7"/>
<circle cx="493.0" cy="377.8" r="6.6" fill="#FA8072" fill-opacity=".55"/><circle cx="493.0" cy="377.8" r="5.75" fill="none" stroke="#FA8072" stroke-opacity=".45" stroke-width="1.7"/>
<circle cx="490.5" cy="364.6" r="6.6" fill="#FA8072" fill-opacity=".55"/><circle cx="490.5" cy="364.6" r="5.75" fill="none" stroke="#FA8072" stroke-opacity=".45" stroke-width="1.7"/>
<circle cx="451.4" cy="408.0" r="6.6" fill="#FA8072" fill-opacity=".55"/><circle cx="451.4" cy="408.0" r="5.75" fill="none" stroke="#FA8072" stroke-opacity=".45" stroke-width="1.7"/>
<circle cx="535.5" cy="326.3" r="6.6" fill="#FA8072" fill-opacity=".55"/><circle cx="535.5" cy="326.3" r="5.75" fill="none" stroke="#FA8072" stroke-opacity=".45" stroke-width="1.7"/>
<circle cx="473.6" cy="338.4" r="6.6" fill="#FA8072" fill-opacity=".55"/><circle cx="473.6" cy="338.4" r="5.75" fill="none" stroke="#FA8072" stroke-opacity=".45" stroke-width="1.7"/>
<circle cx="486.5" cy="293.5" r="6.6" fill="#FA8072" fill-opacity=".55"/><circle cx="486.5" cy="293.5" r="5.75" fill="none" stroke="#FA8072" stroke-opacity=".45" stroke-width="1.7"/>
<circle cx="531.9" cy="390.1" r="6.6" fill="#FA8072" fill-opacity=".55"/><circle cx="531.9" cy="390.1" r="5.75" fill="none" stroke="#FA8072" stroke-opacity=".45" stroke-width="1.7"/>
<circle cx="538.2" cy="386.9" r="6.6" fill="#FA8072" fill-opacity=".55"/><circle cx="538.2" cy="386.9" r="5.75" fill="none" stroke="#FA8072" stroke-opacity=".45" stroke-width="1.7"/>
<circle cx="508.0" cy="412.3" r="6.6" fill="#FA8072" fill-opacity=".55"/><circle cx="508.0" cy="412.3" r="5.75" fill="none" stroke="#FA8072" stroke-opacity=".45" stroke-width="1.7"/>
<circle cx="491.5" cy="417.1" r="6.6" fill="#FA8072" fill-opacity=".55"/><circle cx="491.5" cy="417.1" r="5.75" fill="none" stroke="#FA8072" stroke-opacity=".45" stroke-width="1.7"/>
<circle cx="477.9" cy="463.0" r="6.6" fill="#FA8072" fill-opacity=".55"/><circle cx="477.9" cy="463.0" r="5.75" fill="none" stroke="#FA8072" stroke-opacity=".45" stroke-width="1.7"/>
<circle cx="494.0" cy="365.2" r="6.6" fill="#BA55D3" fill-opacity=".55"/><circle cx="494.0" cy="365.2" r="5.75" fill="none" stroke="#BA55D3" stroke-opacity=".45" stroke-width="1.7"/>
<circle cx="499.2" cy="354.2" r="6.6" fill="#BA55D3" fill-opacity=".55"/><circle cx="499.2" cy="354.2" r="5.75" fill="none" stroke="#BA55D3" stroke-opacity=".45" stroke-width="1.7"/>
<circle cx="486.1" cy="342.6" r="6.6" fill="#BA55D3" fill-opacity=".55"/><circle cx="486.1" cy="342.6" r="5.75" fill="none" stroke="#BA55D3" stroke-opacity=".45" stroke-width="1.7"/>
<circle cx="490.4" cy="371.8" r="6.6" fill="#BA55D3" fill-opacity=".55"/><circle cx="490.4" cy="371.8" r="5.75" fill="none" stroke="#BA55D3" stroke-opacity=".45" stroke-width="1.7"/>
<circle cx="492.5" cy="339.8" r="6.6" fill="#BA55D3" fill-opacity=".55"/><circle cx="492.5" cy="339.8" r="5.75" fill="none" stroke="#BA55D3" stroke-opacity=".45" stroke-width="1.7"/>
<circle cx="525.6" cy="320.7" r="6.6" fill="#BA55D3" fill-opacity=".55"/><circle cx="525.6" cy="320.7" r="5.75" fill="none" stroke="#BA55D3" stroke-opacity=".45" stroke-width="1.7"/>
<circle cx="481.6" cy="341.2" r="6.6" fill="#BA55D3" fill-opacity=".55"/><circle cx="481.6" cy="341.2" r="5.75" fill="none" stroke="#BA55D3" stroke-opacity=".45" stroke-width="1.7"/>
<circle cx="506.7" cy="349.8" r="6.6" fill="#BA55D3" fill-opacity=".55"/><circle cx="506.7" cy="349.8" r="5.75" fill="none" stroke="#BA55D3" stroke-opacity=".45" stroke-width="1.7"/>
<circle cx="530.4" cy="339.0" r="6.6" fill="#BA55D3" fill-opacity=".55"/><circle cx="530.4" cy="339.0" r="5.75" fill="none" stroke="#BA55D3" stroke-opacity=".45" stroke-width="1.7"/>
<circle cx="487.3" cy="347.2" r="6.6" fill="#BA55D3" fill-opacity=".55"/><circle cx="487.3" cy="347.2" r="5.75" fill="none" stroke="#BA55D3" stroke-opacity=".45" stroke-width="1.7"/>
<circle cx="513.3" cy="334.8" r="6.6" fill="#BA55D3" fill-opacity=".55"/><circle cx="513.3" cy="334.8" r="5.75" fill="none" stroke="#BA55D3" stroke-opacity=".45" stroke-width="1.7"/>
<circle cx="525.2" cy="364.5" r="6.6" fill="#BA55D3" fill-opacity=".55"/><circle cx="525.2" cy="364.5" r="5.75" fill="none" stroke="#BA55D3" stroke-opacity=".45" stroke-width="1.7"/>
<circle cx="540.7" cy="339.6" r="6.6" fill="#BA55D3" fill-opacity=".55"/><circle cx="540.7" cy="339.6" r="5.75" fill="none" stroke="#BA55D3" stroke-opacity=".45" stroke-width="1.7"/>
<circle cx="453.2" cy="366.0" r="6.6" fill="#BA55D3" fill-opacity=".55"/><circle cx="453.2" cy="366.0" r="5.75" fill="none" stroke="#BA55D3" stroke-opacity=".45" stroke-width="1.7"/>
<circle cx="522.2" cy="354.7" r="6.6" fill="#BA55D3" fill-opacity=".55"/><circle cx="522.2" cy="354.7" r="5.75" fill="none" stroke="#BA55D3" stroke-opacity=".45" stroke-width="1.7"/>
<circle cx="467.6" cy="374.7" r="6.6" fill="#BA55D3" fill-opacity=".55"/><circle cx="467.6" cy="374.7" r="5.75" fill="none" stroke="#BA55D3" stroke-opacity=".45" stroke-width="1.7"/>
<circle cx="506.4" cy="314.0" r="6.6" fill="#BA55D3" fill-opacity=".55"/><circle cx="506.4" cy="314.0" r="5.75" fill="none" stroke="#BA55D3" stroke-opacity=".45" stroke-width="1.7"/>
<circle cx="550.1" cy="331.3" r="6.6" fill="#BA55D3" fill-opacity=".55"/><circle cx="550.1" cy="331.3" r="5.75" fill="none" stroke="#BA55D3" stroke-opacity=".45" stroke-width="1.7"/>
<circle cx="451.0" cy="372.5" r="6.6" fill="#BA55D3" fill-opacity=".55"/><circle cx="451.0" cy="372.5" r="5.75" fill="none" stroke="#BA55D3" stroke-opacity=".45" stroke-width="1.7"/>
<circle cx="503.6" cy="384.0" r="6.6" fill="#BA55D3" fill-opacity=".55"/><circle cx="503.6" cy="384.0" r="5.75" fill="none" stroke="#BA55D3" stroke-opacity=".45" stroke-width="1.7"/>
<circle cx="468.7" cy="354.2" r="6.6" fill="#BA55D3" fill-opacity=".55"/><circle cx="468.7" cy="354.2" r="5.75" fill="none" stroke="#BA55D3" stroke-opacity=".45" stroke-width="1.7"/>
<circle cx="502.1" cy="363.8" r="6.6" fill="#BA55D3" fill-opacity=".55"/><circle cx="502.1" cy="363.8" r="5.75" fill="none" stroke="#BA55D3" stroke-opacity=".45" stroke-width="1.7"/>
<circle cx="525.0" cy="329.8" r="6.6" fill="#BA55D3" fill-opacity=".55"/><circle cx="525.0" cy="329.8" r="5.75" fill="none" stroke="#BA55D3" stroke-opacity=".45" stroke-width="1.7"/>
<circle cx="496.6" cy="354.8" r="6.6" fill="#BA55D3" fill-opacity=".55"/><circle cx="496.6" cy="354.8" r="5.75" fill="none" stroke="#BA55D3" stroke-opacity=".45" stroke-width="1.7"/>
<circle cx="529.5" cy="328.1" r="6.6" fill="#BA55D3" fill-opacity=".55"/><circle cx="529.5" cy="328.1" r="5.75" fill="none" stroke="#BA55D3" stroke-opacity=".45" stroke-width="1.7"/>
<circle cx="434.9" cy="394.4" r="6.6" fill="#BA55D3" fill-opacity=".55"/><circle cx="434.9" cy="394.4" r="5.75" fill="none" stroke="#BA55D3" stroke-opacity=".45" stroke-width="1.7"/>
<circle cx="465.1" cy="353.3" r="6.6" fill="#BA55D3" fill-opacity=".55"/><circle cx="465.1" cy="353.3" r="5.75" fill="none" stroke="#BA55D3" stroke-opacity=".45" stroke-width="1.7"/>
<circle cx="471.0" cy="304.5" r="6.6" fill="#BA55D3" fill-opacity=".55"/><circle cx="471.0" cy="304.5" r="5.75" fill="none" stroke="#BA55D3" stroke-opacity=".45" stroke-width="1.7"/>
<circle cx="547.9" cy="419.4" r="6.6" fill="#BA55D3" fill-opacity=".55"/><circle cx="547.9" cy="419.4" r="5.75" fill="none" stroke="#BA55D3" stroke-opacity=".45" stroke-width="1.7"/>
<circle cx="520.8" cy="372.6" r="6.6" fill="#BA55D3" fill-opacity=".55"/><circle cx="520.8" cy="372.6" r="5.75" fill="none" stroke="#BA55D3" stroke-opacity=".45" stroke-width="1.7"/>
<circle cx="537.7" cy="328.7" r="6.6" fill="#00B2EE" fill-opacity=".55"/><circle cx="537.7" cy="328.7" r="5.75" fill="none" stroke="#00B2EE" stroke-opacity=".45" stroke-width="1.7"/>
<circle cx="499.1" cy="345.5" r="6.6" fill="#00B2EE" fill-opacity=".55"/><circle cx="499.1" cy="345.5" r="5.75" fill="none" stroke="#00B2EE" stroke-opacity=".45" stroke-width="1.7"/>
<circle cx="452.3" cy="376.5" r="6.6" fill="#00B2EE" fill-opacity=".55"/><circle cx="452.3" cy="376.5" r="5.75" fill="none" stroke="#00B2EE" stroke-opacity=".45" stroke-width="1.7"/>
<circle cx="475.5" cy="356.3" r="6.6" fill="#00B2EE" fill-opacity=".55"/><circle cx="475.5" cy="356.3" r="5.75" fill="none" stroke="#00B2EE" stroke-opacity=".45" stroke-width="1.7"/>
<circle cx="453.3" cy="367.4" r="6.6" fill="#00B2EE" fill-opacity=".55"/><circle cx="453.3" cy="367.4" r="5.75" fill="none" stroke="#00B2EE" stroke-opacity=".45" stroke-width="1.7"/>
<circle cx="516.9" cy="335.7" r="6.6" fill="#00B2EE" fill-opacity=".55"/><circle cx="516.9" cy="335.7" r="5.75" fill="none" stroke="#00B2EE" stroke-opacity=".45" stroke-width="1.7"/>
<circle cx="435.0" cy="382.3" r="6.6" fill="#00B2EE" fill-opacity=".55"/><circle cx="435.0" cy="382.3" r="5.75" fill="none" stroke="#00B2EE" stroke-opacity=".45" stroke-width="1.7"/>
<circle cx="513.6" cy="361.8" r="6.6" fill="#00B2EE" fill-opacity=".55"/><circle cx="513.6" cy="361.8" r="5.75" fill="none" stroke="#00B2EE" stroke-opacity=".45" stroke-width="1.7"/>
<circle cx="452.3" cy="388.5" r="6.6" fill="#00B2EE" fill-opacity=".55"/><circle cx="452.3" cy="388.5" r="5.75" fill="none" stroke="#00B2EE" stroke-opacity=".45" stroke-width="1.7"/>
<circle cx="488.0" cy="348.1" r="6.6" fill="#00B2EE" fill-opacity=".55"/><circle cx="488.0" cy="348.1" r="5.75" fill="none" stroke="#00B2EE" stroke-opacity=".45" stroke-width="1.7"/>
<circle cx="503.0" cy="342.0" r="6.6" fill="#00B2EE" fill-opacity=".55"/><circle cx="503.0" cy="342.0" r="5.75" fill="none" stroke="#00B2EE" stroke-opacity=".45" stroke-width="1.7"/>
<circle cx="479.3" cy="360.9" r="6.6" fill="#00B2EE" fill-opacity=".55"/><circle cx="479.3" cy="360.9" r="5.75" fill="none" stroke="#00B2EE" stroke-opacity=".45" stroke-width="1.7"/>
<circle cx="509.6" cy="377.1" r="6.6" fill="#00B2EE" fill-opacity=".55"/><circle cx="509.6" cy="377.1" r="5.75" fill="none" stroke="#00B2EE" stroke-opacity=".45" stroke-width="1.7"/>
<circle cx="462.2" cy="360.5" r="6.6" fill="#00B2EE" fill-opacity=".55"/><circle cx="462.2" cy="360.5" r="5.75" fill="none" stroke="#00B2EE" stroke-opacity=".45" stroke-width="1.7"/>
<circle cx="469.4" cy="390.7" r="6.6" fill="#00B2EE" fill-opacity=".55"/><circle cx="469.4" cy="390.7" r="5.75" fill="none" stroke="#00B2EE" stroke-opacity=".45" stroke-width="1.7"/>
<circle cx="488.1" cy="341.4" r="6.6" fill="#00B2EE" fill-opacity=".55"/><circle cx="488.1" cy="341.4" r="5.75" fill="none" stroke="#00B2EE" stroke-opacity=".45" stroke-width="1.7"/>
<circle cx="455.7" cy="381.7" r="6.6" fill="#00B2EE" fill-opacity=".55"/><circle cx="455.7" cy="381.7" r="5.75" fill="none" stroke="#00B2EE" stroke-opacity=".45" stroke-width="1.7"/>
<circle cx="492.4" cy="368.5" r="6.6" fill="#00B2EE" fill-opacity=".55"/><circle cx="492.4" cy="368.5" r="5.75" fill="none" stroke="#00B2EE" stroke-opacity=".45" stroke-width="1.7"/>
<circle cx="463.0" cy="366.4" r="6.6" fill="#00B2EE" fill-opacity=".55"/><circle cx="463.0" cy="366.4" r="5.75" fill="none" stroke="#00B2EE" stroke-opacity=".45" stroke-width="1.7"/>
<circle cx="503.3" cy="335.6" r="6.6" fill="#00B2EE" fill-opacity=".55"/><circle cx="503.3" cy="335.6" r="5.75" fill="none" stroke="#00B2EE" stroke-opacity=".45" stroke-width="1.7"/>
<circle cx="506.1" cy="351.0" r="6.6" fill="#00B2EE" fill-opacity=".55"/><circle cx="506.1" cy="351.0" r="5.75" fill="none" stroke="#00B2EE" stroke-opacity=".45" stroke-width="1.7"/>
<circle cx="453.8" cy="396.6" r="6.6" fill="#00B2EE" fill-opacity=".55"/><circle cx="453.8" cy="396.6" r="5.75" fill="none" stroke="#00B2EE" stroke-opacity=".45" stroke-width="1.7"/>
<circle cx="493.3" cy="323.2" r="6.6" fill="#00B2EE" fill-opacity=".55"/><circle cx="493.3" cy="323.2" r="5.75" fill="none" stroke="#00B2EE" stroke-opacity=".45" stroke-width="1.7"/>
<circle cx="574.2" cy="278.8" r="6.6" fill="#00B2EE" fill-opacity=".55"/><circle cx="574.2" cy="278.8" r="5.75" fill="none" stroke="#00B2EE" stroke-opacity=".45" stroke-width="1.7"/>
<circle cx="509.3" cy="303.5" r="6.6" fill="#00B2EE" fill-opacity=".55"/><circle cx="509.3" cy="303.5" r="5.75" fill="none" stroke="#00B2EE" stroke-opacity=".45" stroke-width="1.7"/>
<circle cx="569.1" cy="305.4" r="6.6" fill="#00B2EE" fill-opacity=".55"/><circle cx="569.1" cy="305.4" r="5.75" fill="none" stroke="#00B2EE" stroke-opacity=".45" stroke-width="1.7"/>
<circle cx="494.3" cy="319.7" r="6.6" fill="#00B2EE" fill-opacity=".55"/><circle cx="494.3" cy="319.7" r="5.75" fill="none" stroke="#00B2EE" stroke-opacity=".45" stroke-width="1.7"/>
<circle cx="566.5" cy="348.4" r="6.6" fill="#00B2EE" fill-opacity=".55"/><circle cx="566.5" cy="348.4" r="5.75" fill="none" stroke="#00B2EE" stroke-opacity=".45" stroke-width="1.7"/>
<circle cx="551.1" cy="343.3" r="6.6" fill="#00B2EE" fill-opacity=".55"/><circle cx="551.1" cy="343.3" r="5.75" fill="none" stroke="#00B2EE" stroke-opacity=".45" stroke-width="1.7"/>
<circle cx="552.0" cy="369.0" r="6.6" fill="#00B2EE" fill-opacity=".55"/><circle cx="552.0" cy="369.0" r="5.75" fill="none" stroke="#00B2EE" stroke-opacity=".45" stroke-width="1.7"/>
<circle cx="545.1" cy="377.5" r="6.6" fill="#00B2EE" fill-opacity=".55"/><circle cx="545.1" cy="377.5" r="5.75" fill="none" stroke="#00B2EE" stroke-opacity=".45" stroke-width="1.7"/>
<circle cx="503.3" cy="321.0" r="6.6" fill="#00B2EE" fill-opacity=".55"/><circle cx="503.3" cy="321.0" r="5.75" fill="none" stroke="#00B2EE" stroke-opacity=".45" stroke-width="1.7"/>
<circle cx="511.2" cy="323.4" r="6.6" fill="#00B2EE" fill-opacity=".55"/><circle cx="511.2" cy="323.4" r="5.75" fill="none" stroke="#00B2EE" stroke-opacity=".45" stroke-width="1.7"/>
<circle cx="441.3" cy="358.3" r="6.6" fill="#00B2EE" fill-opacity=".55"/><circle cx="441.3" cy="358.3" r="5.75" fill="none" stroke="#00B2EE" stroke-opacity=".45" stroke-width="1.7"/>
<circle cx="454.0" cy="358.3" r="6.6" fill="#00B2EE" fill-opacity=".55"/><circle cx="454.0" cy="358.3" r="5.75" fill="none" stroke="#00B2EE" stroke-opacity=".45" stroke-width="1.7"/>
<circle cx="445.3" cy="371.0" r="6.6" fill="#00B2EE" fill-opacity=".55"/><circle cx="445.3" cy="371.0" r="5.75" fill="none" stroke="#00B2EE" stroke-opacity=".45" stroke-width="1.7"/>
<circle cx="454.8" cy="371.8" r="6.6" fill="#00B2EE" fill-opacity=".55"/><circle cx="454.8" cy="371.8" r="5.75" fill="none" stroke="#00B2EE" stroke-opacity=".45" stroke-width="1.7"/>
<circle cx="461.6" cy="418.8" r="6.6" fill="#00B2EE" fill-opacity=".55"/><circle cx="461.6" cy="418.8" r="5.75" fill="none" stroke="#00B2EE" stroke-opacity=".45" stroke-width="1.7"/>
<circle cx="403.4" cy="429.1" r="6.6" fill="#00B2EE" fill-opacity=".55"/><circle cx="403.4" cy="429.1" r="5.75" fill="none" stroke="#00B2EE" stroke-opacity=".45" stroke-width="1.7"/>
<circle cx="418.8" cy="439.4" r="6.6" fill="#00B2EE" fill-opacity=".55"/><circle cx="418.8" cy="439.4" r="5.75" fill="none" stroke="#00B2EE" stroke-opacity=".45" stroke-width="1.7"/>
<line x1="354.5" y1="505.7" x2="643.3" y2="199.2" stroke="#3A5FCD" stroke-width="5" stroke-linecap="round"/>
<line x1="363.3" y1="537.4" x2="630.7" y2="194.1" stroke="#4876FF" stroke-width="5" stroke-linecap="round"/>
<line x1="441.5" y1="402.5" x2="560" y2="319.5" stroke="#CD2626" stroke-width="5" stroke-linecap="round"/>
<line x1="430.6" y1="403.7" x2="584.1" y2="303" stroke="#FFA500" stroke-width="5" stroke-linecap="round"/>
<line x1="212.8" y1="594.6" x2="771.6" y2="147.1" stroke="#7F7F7F" stroke-width="5" stroke-linecap="round"/>
<line x1="429.1" y1="431.7" x2="551.1" y2="311" stroke="#CD853F" stroke-width="5" stroke-linecap="round"/>
<line x1="402" y1="409.8" x2="574.4" y2="315.8" stroke="#00B2EE" stroke-width="5" stroke-linecap="round"/>
<line x1="470" y1="373.3" x2="545.6" y2="345.8" stroke="#FA8072" stroke-width="5" stroke-linecap="round"/>
<line x1="396.5" y1="405.4" x2="581.7" y2="323.2" stroke="#8B4513" stroke-width="5" stroke-linecap="round"/>
<line x1="460.4" y1="349.1" x2="550.5" y2="367.2" stroke="#BA55D3" stroke-width="5" stroke-linecap="round"/>
<line x1="432.3" y1="364.1" x2="574.4" y2="352.9" stroke="#B22222" stroke-width="5" stroke-linecap="round"/>
<line x1="400.5" y1="536" x2="674.8" y2="48.2" stroke="#228B22" stroke-width="5" stroke-linecap="round"/>
<line x1="416.3" y1="459" x2="587.2" y2="253.5" stroke="#43C97C" stroke-width="5" stroke-linecap="round"/>
</g>
<g>
<path d="M1050.2,265.5 L1086.6,266.7 L1167.8,280.5 L1225.3,302.0 L1270.0,320.0 L1306.5,342.0 L1337.3,352.5 L1364.1,369.6 L1387.6,395.3 L1408.7,422.2 L1427.8,431.6 L1445.2,435.0 L1461.2,438.2 L1476.1,444.8 L1489.9,460.2 L1502.8,475.6 L1514.9,488.8 L1526.3,493.2 L1537.2,502.0 L1547.4,510.8 L1557.2,515.2 L1582.0,513.2 L1593.0,520.0 L1604.0,533.0 L1617.2,546.2 L1634.8,552.8 L1648.0,544.0 L1656.8,557.2 L1667.8,588.0 L1681.0,614.4 L1692.0,566.0 L1698.6,533.0 L1705.0,522.0 L1714.0,533.0 L1720.7,566.0 L1730.8,572.0" fill="none" stroke="#FFA500" stroke-width="6.0" stroke-linejoin="round" stroke-linecap="round"/>
<path d="M1050.2,299.7 L1054.2,299.7 L1058.2,299.7 L1062.2,299.7 L1066.2,299.7 L1070.2,299.7 L1074.2,299.7 L1078.2,299.7 L1082.2,299.7 L1086.2,299.7 L1090.2,299.7 L1094.2,299.8 L1098.2,299.8 L1102.2,299.8 L1106.2,299.8 L1110.3,299.8 L1114.3,299.8 L1118.3,299.8 L1122.3,299.8 L1126.3,299.8 L1130.3,299.9 L1134.3,299.9 L1138.3,299.9 L1142.3,299.9 L1146.3,299.9 L1150.3,299.9 L1154.3,299.9 L1158.3,300.0 L1162.3,300.0 L1166.3,300.0 L1170.3,300.0 L1174.3,300.0 L1178.3,300.1 L1182.3,300.1 L1186.3,300.1 L1190.3,300.1 L1194.3,300.1 L1198.3,300.2 L1202.3,300.2 L1206.3,300.2 L1210.3,300.3 L1214.3,300.3 L1218.3,300.3 L1222.4,300.3 L1226.4,300.4 L1230.4,300.4 L1234.4,300.5 L1238.4,300.5 L1242.4,300.5 L1246.4,300.6 L1250.4,300.6 L1254.4,300.7 L1258.4,300.7 L1262.4,300.7 L1266.4,300.8 L1270.4,300.9 L1274.4,300.9 L1278.4,301.0 L1282.4,301.0 L1286.4,301.1 L1290.4,301.1 L1294.4,301.2 L1298.4,301.3 L1302.4,301.3 L1306.4,301.4 L1310.4,301.5 L1314.4,301.6 L1318.4,301.7 L1322.4,301.7 L1326.4,301.8 L1330.4,301.9 L1334.5,302.0 L1338.5,302.1 L1342.5,302.2 L1346.5,302.3 L1350.5,302.4 L1354.5,302.6 L1358.5,302.7 L1362.5,302.8 L1366.5,302.9 L1370.5,303.1 L1374.5,303.2 L1378.5,303.4 L1382.5,303.5 L1386.5,303.7 L1390.5,303.8 L1394.5,304.0 L1398.5,304.2 L1402.5,304.4 L1406.5,304.6 L1410.5,304.8 L1414.5,305.0 L1418.5,305.2 L1422.5,305.4 L1426.5,305.6 L1430.5,305.9 L1434.5,306.1 L1438.5,306.4 L1442.5,306.7 L1446.5,306.9 L1450.6,307.2 L1454.6,307.5 L1458.6,307.8 L1462.6,308.1 L1466.6,308.5 L1470.6,308.8 L1474.6,309.2 L1478.6,309.5 L1482.6,309.9 L1486.6,310.3 L1490.6,310.7 L1494.6,311.2 L1498.6,311.6 L1502.6,312.1 L1506.6,312.5 L1510.6,313.0 L1514.6,313.5 L1518.6,314.0 L1522.6,314.6 L1526.6,315.1 L1530.6,315.7 L1534.6,316.3 L1538.6,316.9 L1542.6,317.5 L1546.6,318.2 L1550.6,318.9 L1554.6,319.6 L1558.6,320.3 L1562.7,321.0 L1566.7,321.8 L1570.7,322.5 L1574.7,323.4 L1578.7,324.2 L1582.7,325.0 L1586.7,325.9 L1590.7,326.8 L1594.7,327.8 L1598.7,328.7 L1602.7,329.7 L1606.7,330.7 L1610.7,331.7 L1614.7,332.8 L1618.7,333.9 L1622.7,335.0 L1626.7,336.2 L1630.7,337.3 L1634.7,338.5 L1638.7,339.8 L1642.7,341.0 L1646.7,342.3 L1650.7,343.6 L1654.7,345.0 L1658.7,346.4 L1662.7,347.8 L1666.7,349.2 L1670.7,350.7 L1674.8,352.2 L1678.8,353.7 L1682.8,355.3 L1686.8,356.9 L1690.8,358.5 L1694.8,360.1 L1698.8,361.8 L1702.8,363.5 L1706.8,365.2 L1710.8,367.0 L1714.8,368.8 L1718.8,370.6 L1722.8,372.4 L1726.8,374.3 L1730.8,376.2" fill="none" stroke="#00B2EE" stroke-opacity=".75" stroke-width="4.8" stroke-dasharray="14.3 7" stroke-linecap="round"/>
<path d="M1050.2,339.6 L1054.2,339.6 L1058.2,339.6 L1062.2,339.6 L1066.2,339.6 L1070.2,339.7 L1074.2,339.7 L1078.2,339.7 L1082.2,339.7 L1086.2,339.7 L1090.2,339.7 L1094.2,339.7 L1098.2,339.8 L1102.2,339.8 L1106.2,339.8 L1110.3,339.8 L1114.3,339.8 L1118.3,339.9 L1122.3,339.9 L1126.3,339.9 L1130.3,339.9 L1134.3,339.9 L1138.3,340.0 L1142.3,340.0 L1146.3,340.0 L1150.3,340.0 L1154.3,340.1 L1158.3,340.1 L1162.3,340.1 L1166.3,340.2 L1170.3,340.2 L1174.3,340.2 L1178.3,340.3 L1182.3,340.3 L1186.3,340.4 L1190.3,340.4 L1194.3,340.4 L1198.3,340.5 L1202.3,340.5 L1206.3,340.6 L1210.3,340.6 L1214.3,340.7 L1218.3,340.7 L1222.4,340.8 L1226.4,340.9 L1230.4,340.9 L1234.4,341.0 L1238.4,341.1 L1242.4,341.1 L1246.4,341.2 L1250.4,341.3 L1254.4,341.4 L1258.4,341.4 L1262.4,341.5 L1266.4,341.6 L1270.4,341.7 L1274.4,341.8 L1278.4,341.9 L1282.4,342.0 L1286.4,342.1 L1290.4,342.2 L1294.4,342.3 L1298.4,342.5 L1302.4,342.6 L1306.4,342.7 L1310.4,342.8 L1314.4,343.0 L1318.4,343.1 L1322.4,343.3 L1326.4,343.4 L1330.4,343.6 L1334.5,343.8 L1338.5,344.0 L1342.5,344.1 L1346.5,344.3 L1350.5,344.5 L1354.5,344.7 L1358.5,344.9 L1362.5,345.2 L1366.5,345.4 L1370.5,345.6 L1374.5,345.9 L1378.5,346.1 L1382.5,346.4 L1386.5,346.7 L1390.5,347.0 L1394.5,347.3 L1398.5,347.6 L1402.5,347.9 L1406.5,348.2 L1410.5,348.6 L1414.5,348.9 L1418.5,349.3 L1422.5,349.7 L1426.5,350.1 L1430.5,350.5 L1434.5,350.9 L1438.5,351.3 L1442.5,351.8 L1446.5,352.2 L1450.6,352.7 L1454.6,353.2 L1458.6,353.7 L1462.6,354.3 L1466.6,354.8 L1470.6,355.4 L1474.6,356.0 L1478.6,356.6 L1482.6,357.2 L1486.6,357.9 L1490.6,358.6 L1494.6,359.2 L1498.6,360.0 L1502.6,360.7 L1506.6,361.5 L1510.6,362.2 L1514.6,363.0 L1518.6,363.9 L1522.6,364.7 L1526.6,365.6 L1530.6,366.5 L1534.6,367.4 L1538.6,368.4 L1542.6,369.4 L1546.6,370.4 L1550.6,371.4 L1554.6,372.5 L1558.6,373.6 L1562.7,374.7 L1566.7,375.9 L1570.7,377.0 L1574.7,378.3 L1578.7,379.5 L1582.7,380.8 L1586.7,382.1 L1590.7,383.4 L1594.7,384.7 L1598.7,386.1 L1602.7,387.5 L1606.7,389.0 L1610.7,390.5 L1614.7,392.0 L1618.7,393.5 L1622.7,395.1 L1626.7,396.7 L1630.7,398.3 L1634.7,400.0 L1638.7,401.7 L1642.7,403.4 L1646.7,405.2 L1650.7,406.9 L1654.7,408.8 L1658.7,410.6 L1662.7,412.5 L1666.7,414.4 L1670.7,416.3 L1674.8,418.2 L1678.8,420.2 L1682.8,422.2 L1686.8,424.3 L1690.8,426.3 L1694.8,428.4 L1698.8,430.5 L1702.8,432.6 L1706.8,434.8 L1710.8,437.0 L1714.8,439.2 L1718.8,441.4 L1722.8,443.6 L1726.8,445.9 L1730.8,448.2" fill="none" stroke="#BA55D3" stroke-opacity=".75" stroke-width="4.8" stroke-dasharray="14.3 7" stroke-linecap="round"/>
<path d="M1050.2,442.3 L1054.2,442.3 L1058.2,442.3 L1062.2,442.3 L1066.2,442.3 L1070.2,442.3 L1074.2,442.3 L1078.2,442.3 L1082.2,442.3 L1086.2,442.3 L1090.2,442.3 L1094.2,442.3 L1098.2,442.3 L1102.2,442.3 L1106.2,442.3 L1110.3,442.3 L1114.3,442.3 L1118.3,442.3 L1122.3,442.3 L1126.3,442.3 L1130.3,442.3 L1134.3,442.3 L1138.3,442.3 L1142.3,442.3 L1146.3,442.3 L1150.3,442.3 L1154.3,442.3 L1158.3,442.3 L1162.3,442.3 L1166.3,442.3 L1170.3,442.3 L1174.3,442.3 L1178.3,442.3 L1182.3,442.3 L1186.3,442.3 L1190.3,442.3 L1194.3,442.3 L1198.3,442.3 L1202.3,442.3 L1206.3,442.4 L1210.3,442.4 L1214.3,442.4 L1218.3,442.4 L1222.4,442.4 L1226.4,442.4 L1230.4,442.4 L1234.4,442.4 L1238.4,442.4 L1242.4,442.4 L1246.4,442.4 L1250.4,442.4 L1254.4,442.4 L1258.4,442.4 L1262.4,442.4 L1266.4,442.5 L1270.4,442.5 L1274.4,442.5 L1278.4,442.5 L1282.4,442.5 L1286.4,442.5 L1290.4,442.5 L1294.4,442.5 L1298.4,442.5 L1302.4,442.5 L1306.4,442.6 L1310.4,442.6 L1314.4,442.6 L1318.4,442.6 L1322.4,442.6 L1326.4,442.6 L1330.4,442.6 L1334.5,442.7 L1338.5,442.7 L1342.5,442.7 L1346.5,442.7 L1350.5,442.7 L1354.5,442.8 L1358.5,442.8 L1362.5,442.8 L1366.5,442.8 L1370.5,442.9 L1374.5,442.9 L1378.5,442.9 L1382.5,442.9 L1386.5,443.0 L1390.5,443.0 L1394.5,443.0 L1398.5,443.1 L1402.5,443.1 L1406.5,443.1 L1410.5,443.2 L1414.5,443.2 L1418.5,443.2 L1422.5,443.3 L1426.5,443.3 L1430.5,443.4 L1434.5,443.4 L1438.5,443.4 L1442.5,443.5 L1446.5,443.6 L1450.6,443.6 L1454.6,443.7 L1458.6,443.7 L1462.6,443.8 L1466.6,443.8 L1470.6,443.9 L1474.6,444.0 L1478.6,444.0 L1482.6,444.1 L1486.6,444.2 L1490.6,444.3 L1494.6,444.4 L1498.6,444.4 L1502.6,444.5 L1506.6,444.6 L1510.6,444.7 L1514.6,444.8 L1518.6,444.9 L1522.6,445.0 L1526.6,445.1 L1530.6,445.2 L1534.6,445.4 L1538.6,445.5 L1542.6,445.6 L1546.6,445.8 L1550.6,445.9 L1554.6,446.0 L1558.6,446.2 L1562.7,446.4 L1566.7,446.5 L1570.7,446.7 L1574.7,446.9 L1578.7,447.0 L1582.7,447.2 L1586.7,447.4 L1590.7,447.6 L1594.7,447.8 L1598.7,448.1 L1602.7,448.3 L1606.7,448.5 L1610.7,448.8 L1614.7,449.0 L1618.7,449.3 L1622.7,449.6 L1626.7,449.8 L1630.7,450.1 L1634.7,450.4 L1638.7,450.7 L1642.7,451.1 L1646.7,451.4 L1650.7,451.7 L1654.7,452.1 L1658.7,452.5 L1662.7,452.9 L1666.7,453.3 L1670.7,453.7 L1674.8,454.1 L1678.8,454.5 L1682.8,455.0 L1686.8,455.5 L1690.8,456.0 L1694.8,456.5 L1698.8,457.0 L1702.8,457.5 L1706.8,458.1 L1710.8,458.6 L1714.8,459.2 L1718.8,459.8 L1722.8,460.4 L1726.8,461.1 L1730.8,461.7" fill="none" stroke="#FA8072" stroke-opacity=".75" stroke-width="4.8" stroke-dasharray="14.3 7" stroke-linecap="round"/>
<path d="M1050.2,163.5 L1054.2,163.5 L1058.2,163.6 L1062.2,163.7 L1066.2,163.7 L1070.2,163.8 L1074.2,163.8 L1078.2,163.9 L1082.2,164.0 L1086.2,164.1 L1090.2,164.1 L1094.2,164.2 L1098.2,164.3 L1102.2,164.4 L1106.2,164.5 L1110.3,164.6 L1114.3,164.7 L1118.3,164.8 L1122.3,164.9 L1126.3,165.0 L1130.3,165.1 L1134.3,165.2 L1138.3,165.3 L1142.3,165.5 L1146.3,165.6 L1150.3,165.7 L1154.3,165.9 L1158.3,166.0 L1162.3,166.2 L1166.3,166.3 L1170.3,166.5 L1174.3,166.7 L1178.3,166.8 L1182.3,167.0 L1186.3,167.2 L1190.3,167.4 L1194.3,167.6 L1198.3,167.8 L1202.3,168.1 L1206.3,168.3 L1210.3,168.5 L1214.3,168.8 L1218.3,169.0 L1222.4,169.3 L1226.4,169.6 L1230.4,169.9 L1234.4,170.2 L1238.4,170.5 L1242.4,170.8 L1246.4,171.1 L1250.4,171.5 L1254.4,171.9 L1258.4,172.2 L1262.4,172.6 L1266.4,173.0 L1270.4,173.4 L1274.4,173.8 L1278.4,174.3 L1282.4,174.7 L1286.4,175.2 L1290.4,175.7 L1294.4,176.2 L1298.4,176.7 L1302.4,177.3 L1306.4,177.8 L1310.4,178.4 L1314.4,179.0 L1318.4,179.6 L1322.4,180.3 L1326.4,180.9 L1330.4,181.6 L1334.5,182.3 L1338.5,183.0 L1342.5,183.8 L1346.5,184.6 L1350.5,185.3 L1354.5,186.2 L1358.5,187.0 L1362.5,187.9 L1366.5,188.8 L1370.5,189.7 L1374.5,190.6 L1378.5,191.6 L1382.5,192.6 L1386.5,193.6 L1390.5,194.7 L1394.5,195.7 L1398.5,196.9 L1402.5,198.0 L1406.5,199.2 L1410.5,200.4 L1414.5,201.6 L1418.5,202.8 L1422.5,204.1 L1426.5,205.5 L1430.5,206.8 L1434.5,208.2 L1438.5,209.6 L1442.5,211.0 L1446.5,212.5 L1450.6,214.0 L1454.6,215.6 L1458.6,217.1 L1462.6,218.7 L1466.6,220.4 L1470.6,222.0 L1474.6,223.7 L1478.6,225.4 L1482.6,227.2 L1486.6,229.0 L1490.6,230.8 L1494.6,232.7 L1498.6,234.5 L1502.6,236.5 L1506.6,238.4 L1510.6,240.4 L1514.6,242.4 L1518.6,244.4 L1522.6,246.5 L1526.6,248.5 L1530.6,250.7 L1534.6,252.8 L1538.6,255.0 L1542.6,257.2 L1546.6,259.4 L1550.6,261.6 L1554.6,263.9 L1558.6,266.2 L1562.7,268.5 L1566.7,270.9 L1570.7,273.2 L1574.7,275.6 L1578.7,278.1 L1582.7,280.5 L1586.7,282.9 L1590.7,285.4 L1594.7,287.9 L1598.7,290.4 L1602.7,293.0 L1606.7,295.5 L1610.7,298.1 L1614.7,300.7 L1618.7,303.3 L1622.7,305.9 L1626.7,308.6 L1630.7,311.2 L1634.7,313.9 L1638.7,316.6 L1642.7,319.3 L1646.7,322.0 L1650.7,324.7 L1654.7,327.5 L1658.7,330.2 L1662.7,333.0 L1666.7,335.7 L1670.7,338.5 L1674.8,341.3 L1678.8,344.1 L1682.8,346.9 L1686.8,349.7 L1690.8,352.6 L1694.8,355.4 L1698.8,358.3 L1702.8,361.1 L1706.8,364.0 L1710.8,366.8 L1714.8,369.7 L1718.8,372.6 L1722.8,375.4 L1726.8,378.3 L1730.8,381.2" fill="none" stroke="#228B22" stroke-opacity=".75" stroke-width="4.8" stroke-dasharray="14.3 7" stroke-linecap="round"/>
<path d="M1050.2,262.1 L1054.2,262.1 L1058.2,262.1 L1062.2,262.1 L1066.2,262.1 L1070.2,262.2 L1074.2,262.2 L1078.2,262.2 L1082.2,262.2 L1086.2,262.2 L1090.2,262.2 L1094.2,262.3 L1098.2,262.3 L1102.2,262.3 L1106.2,262.3 L1110.3,262.3 L1114.3,262.4 L1118.3,262.4 L1122.3,262.4 L1126.3,262.4 L1130.3,262.5 L1134.3,262.5 L1138.3,262.5 L1142.3,262.5 L1146.3,262.6 L1150.3,262.6 L1154.3,262.6 L1158.3,262.7 L1162.3,262.7 L1166.3,262.7 L1170.3,262.8 L1174.3,262.8 L1178.3,262.9 L1182.3,262.9 L1186.3,262.9 L1190.3,263.0 L1194.3,263.0 L1198.3,263.1 L1202.3,263.1 L1206.3,263.2 L1210.3,263.3 L1214.3,263.3 L1218.3,263.4 L1222.4,263.4 L1226.4,263.5 L1230.4,263.6 L1234.4,263.6 L1238.4,263.7 L1242.4,263.8 L1246.4,263.9 L1250.4,264.0 L1254.4,264.1 L1258.4,264.1 L1262.4,264.2 L1266.4,264.3 L1270.4,264.4 L1274.4,264.5 L1278.4,264.7 L1282.4,264.8 L1286.4,264.9 L1290.4,265.0 L1294.4,265.1 L1298.4,265.3 L1302.4,265.4 L1306.4,265.6 L1310.4,265.7 L1314.4,265.9 L1318.4,266.0 L1322.4,266.2 L1326.4,266.4 L1330.4,266.5 L1334.5,266.7 L1338.5,266.9 L1342.5,267.1 L1346.5,267.3 L1350.5,267.6 L1354.5,267.8 L1358.5,268.0 L1362.5,268.3 L1366.5,268.5 L1370.5,268.8 L1374.5,269.1 L1378.5,269.3 L1382.5,269.6 L1386.5,269.9 L1390.5,270.2 L1394.5,270.6 L1398.5,270.9 L1402.5,271.3 L1406.5,271.6 L1410.5,272.0 L1414.5,272.4 L1418.5,272.8 L1422.5,273.2 L1426.5,273.6 L1430.5,274.1 L1434.5,274.6 L1438.5,275.0 L1442.5,275.5 L1446.5,276.0 L1450.6,276.6 L1454.6,277.1 L1458.6,277.7 L1462.6,278.3 L1466.6,278.9 L1470.6,279.5 L1474.6,280.1 L1478.6,280.8 L1482.6,281.5 L1486.6,282.2 L1490.6,282.9 L1494.6,283.7 L1498.6,284.4 L1502.6,285.2 L1506.6,286.1 L1510.6,286.9 L1514.6,287.8 L1518.6,288.7 L1522.6,289.6 L1526.6,290.6 L1530.6,291.5 L1534.6,292.5 L1538.6,293.6 L1542.6,294.6 L1546.6,295.7 L1550.6,296.8 L1554.6,298.0 L1558.6,299.1 L1562.7,300.3 L1566.7,301.6 L1570.7,302.8 L1574.7,304.1 L1578.7,305.4 L1582.7,306.8 L1586.7,308.2 L1590.7,309.6 L1594.7,311.0 L1598.7,312.5 L1602.7,314.0 L1606.7,315.5 L1610.7,317.1 L1614.7,318.7 L1618.7,320.3 L1622.7,322.0 L1626.7,323.6 L1630.7,325.4 L1634.7,327.1 L1638.7,328.9 L1642.7,330.7 L1646.7,332.5 L1650.7,334.4 L1654.7,336.3 L1658.7,338.2 L1662.7,340.1 L1666.7,342.1 L1670.7,344.1 L1674.8,346.1 L1678.8,348.2 L1682.8,350.3 L1686.8,352.4 L1690.8,354.5 L1694.8,356.7 L1698.8,358.9 L1702.8,361.1 L1706.8,363.3 L1710.8,365.5 L1714.8,367.8 L1718.8,370.1 L1722.8,372.4 L1726.8,374.7 L1730.8,377.1" fill="none" stroke="#8B4513" stroke-opacity=".75" stroke-width="4.8" stroke-dasharray="14.3 7" stroke-linecap="round"/>
<path d="M1050.2,58.4 L1054.2,58.6 L1058.2,58.8 L1062.2,59.0 L1066.2,59.3 L1070.2,59.5 L1074.2,59.7 L1078.2,60.0 L1082.2,60.2 L1086.2,60.5 L1090.2,60.8 L1094.2,61.1 L1098.2,61.4 L1102.2,61.7 L1106.2,62.0 L1110.3,62.3 L1114.3,62.6 L1118.3,63.0 L1122.3,63.4 L1126.3,63.8 L1130.3,64.1 L1134.3,64.6 L1138.3,65.0 L1142.3,65.4 L1146.3,65.9 L1150.3,66.3 L1154.3,66.8 L1158.3,67.3 L1162.3,67.8 L1166.3,68.4 L1170.3,68.9 L1174.3,69.5 L1178.3,70.1 L1182.3,70.7 L1186.3,71.3 L1190.3,72.0 L1194.3,72.7 L1198.3,73.4 L1202.3,74.1 L1206.3,74.8 L1210.3,75.6 L1214.3,76.4 L1218.3,77.2 L1222.4,78.0 L1226.4,78.9 L1230.4,79.8 L1234.4,80.7 L1238.4,81.6 L1242.4,82.6 L1246.4,83.6 L1250.4,84.6 L1254.4,85.6 L1258.4,86.7 L1262.4,87.8 L1266.4,88.9 L1270.4,90.1 L1274.4,91.3 L1278.4,92.5 L1282.4,93.8 L1286.4,95.0 L1290.4,96.3 L1294.4,97.7 L1298.4,99.1 L1302.4,100.5 L1306.4,101.9 L1310.4,103.4 L1314.4,104.9 L1318.4,106.4 L1322.4,108.0 L1326.4,109.6 L1330.4,111.2 L1334.5,112.8 L1338.5,114.5 L1342.5,116.3 L1346.5,118.0 L1350.5,119.8 L1354.5,121.6 L1358.5,123.5 L1362.5,125.3 L1366.5,127.2 L1370.5,129.2 L1374.5,131.2 L1378.5,133.2 L1382.5,135.2 L1386.5,137.2 L1390.5,139.3 L1394.5,141.4 L1398.5,143.6 L1402.5,145.8 L1406.5,148.0 L1410.5,150.2 L1414.5,152.4 L1418.5,154.7 L1422.5,157.0 L1426.5,159.3 L1430.5,161.7 L1434.5,164.1 L1438.5,166.5 L1442.5,168.9 L1446.5,171.3 L1450.6,173.8 L1454.6,176.3 L1458.6,178.8 L1462.6,181.3 L1466.6,183.9 L1470.6,186.5 L1474.6,189.0 L1478.6,191.7 L1482.6,194.3 L1486.6,196.9 L1490.6,199.6 L1494.6,202.3 L1498.6,205.0 L1502.6,207.7 L1506.6,210.4 L1510.6,213.1 L1514.6,215.9 L1518.6,218.7 L1522.6,221.4 L1526.6,224.2 L1530.6,227.0 L1534.6,229.9 L1538.6,232.7 L1542.6,235.5 L1546.6,238.4 L1550.6,241.3 L1554.6,244.1 L1558.6,247.0 L1562.7,249.9 L1566.7,252.8 L1570.7,255.7 L1574.7,258.6 L1578.7,261.6 L1582.7,264.5 L1586.7,267.5 L1590.7,270.4 L1594.7,273.4 L1598.7,276.3 L1602.7,279.3 L1606.7,282.3 L1610.7,285.3 L1614.7,288.2 L1618.7,291.2 L1622.7,294.2 L1626.7,297.2 L1630.7,300.2 L1634.7,303.2 L1638.7,306.2 L1642.7,309.3 L1646.7,312.3 L1650.7,315.3 L1654.7,318.3 L1658.7,321.4 L1662.7,324.4 L1666.7,327.4 L1670.7,330.4 L1674.8,333.5 L1678.8,336.5 L1682.8,339.5 L1686.8,342.6 L1690.8,345.6 L1694.8,348.7 L1698.8,351.7 L1702.8,354.7 L1706.8,357.8 L1710.8,360.8 L1714.8,363.8 L1718.8,366.9 L1722.8,369.9 L1726.8,372.9 L1730.8,376.0" fill="none" stroke="#7F7F7F" stroke-opacity=".75" stroke-width="4.8" stroke-dasharray="14.3 7" stroke-linecap="round"/>
<path d="M1050.2,348.3 L1054.2,348.3 L1058.2,348.3 L1062.2,348.3 L1066.2,348.3 L1070.2,348.3 L1074.2,348.3 L1078.2,348.3 L1082.2,348.3 L1086.2,348.3 L1090.2,348.3 L1094.2,348.3 L1098.2,348.3 L1102.2,348.4 L1106.2,348.4 L1110.3,348.4 L1114.3,348.4 L1118.3,348.4 L1122.3,348.4 L1126.3,348.4 L1130.3,348.4 L1134.3,348.4 L1138.3,348.5 L1142.3,348.5 L1146.3,348.5 L1150.3,348.5 L1154.3,348.5 L1158.3,348.5 L1162.3,348.6 L1166.3,348.6 L1170.3,348.6 L1174.3,348.6 L1178.3,348.6 L1182.3,348.7 L1186.3,348.7 L1190.3,348.7 L1194.3,348.7 L1198.3,348.7 L1202.3,348.8 L1206.3,348.8 L1210.3,348.8 L1214.3,348.9 L1218.3,348.9 L1222.4,348.9 L1226.4,349.0 L1230.4,349.0 L1234.4,349.0 L1238.4,349.1 L1242.4,349.1 L1246.4,349.1 L1250.4,349.2 L1254.4,349.2 L1258.4,349.3 L1262.4,349.3 L1266.4,349.4 L1270.4,349.4 L1274.4,349.5 L1278.4,349.5 L1282.4,349.6 L1286.4,349.6 L1290.4,349.7 L1294.4,349.8 L1298.4,349.8 L1302.4,349.9 L1306.4,350.0 L1310.4,350.0 L1314.4,350.1 L1318.4,350.2 L1322.4,350.3 L1326.4,350.4 L1330.4,350.5 L1334.5,350.6 L1338.5,350.7 L1342.5,350.8 L1346.5,350.9 L1350.5,351.0 L1354.5,351.1 L1358.5,351.2 L1362.5,351.3 L1366.5,351.5 L1370.5,351.6 L1374.5,351.7 L1378.5,351.9 L1382.5,352.0 L1386.5,352.2 L1390.5,352.3 L1394.5,352.5 L1398.5,352.7 L1402.5,352.9 L1406.5,353.1 L1410.5,353.3 L1414.5,353.5 L1418.5,353.7 L1422.5,353.9 L1426.5,354.1 L1430.5,354.3 L1434.5,354.6 L1438.5,354.8 L1442.5,355.1 L1446.5,355.4 L1450.6,355.7 L1454.6,355.9 L1458.6,356.3 L1462.6,356.6 L1466.6,356.9 L1470.6,357.2 L1474.6,357.6 L1478.6,357.9 L1482.6,358.3 L1486.6,358.7 L1490.6,359.1 L1494.6,359.5 L1498.6,360.0 L1502.6,360.4 L1506.6,360.9 L1510.6,361.3 L1514.6,361.8 L1518.6,362.4 L1522.6,362.9 L1526.6,363.4 L1530.6,364.0 L1534.6,364.6 L1538.6,365.2 L1542.6,365.8 L1546.6,366.4 L1550.6,367.1 L1554.6,367.8 L1558.6,368.5 L1562.7,369.2 L1566.7,370.0 L1570.7,370.7 L1574.7,371.5 L1578.7,372.3 L1582.7,373.2 L1586.7,374.1 L1590.7,374.9 L1594.7,375.9 L1598.7,376.8 L1602.7,377.8 L1606.7,378.8 L1610.7,379.8 L1614.7,380.8 L1618.7,381.9 L1622.7,383.0 L1626.7,384.1 L1630.7,385.3 L1634.7,386.5 L1638.7,387.7 L1642.7,389.0 L1646.7,390.2 L1650.7,391.5 L1654.7,392.9 L1658.7,394.2 L1662.7,395.6 L1666.7,397.1 L1670.7,398.5 L1674.8,400.0 L1678.8,401.5 L1682.8,403.0 L1686.8,404.6 L1690.8,406.2 L1694.8,407.8 L1698.8,409.5 L1702.8,411.2 L1706.8,412.9 L1710.8,414.6 L1714.8,416.4 L1718.8,418.2 L1722.8,420.0 L1726.8,421.9 L1730.8,423.8" fill="none" stroke="#FFA500" stroke-opacity=".75" stroke-width="4.8" stroke-dasharray="14.3 7" stroke-linecap="round"/>
<path d="M1050.2,374.1 L1054.2,374.1 L1058.2,374.1 L1062.2,374.1 L1066.2,374.1 L1070.2,374.1 L1074.2,374.2 L1078.2,374.2 L1082.2,374.2 L1086.2,374.2 L1090.2,374.2 L1094.2,374.2 L1098.2,374.2 L1102.2,374.2 L1106.2,374.2 L1110.3,374.2 L1114.3,374.2 L1118.3,374.2 L1122.3,374.3 L1126.3,374.3 L1130.3,374.3 L1134.3,374.3 L1138.3,374.3 L1142.3,374.3 L1146.3,374.3 L1150.3,374.4 L1154.3,374.4 L1158.3,374.4 L1162.3,374.4 L1166.3,374.4 L1170.3,374.4 L1174.3,374.5 L1178.3,374.5 L1182.3,374.5 L1186.3,374.5 L1190.3,374.5 L1194.3,374.6 L1198.3,374.6 L1202.3,374.6 L1206.3,374.6 L1210.3,374.7 L1214.3,374.7 L1218.3,374.7 L1222.4,374.8 L1226.4,374.8 L1230.4,374.8 L1234.4,374.9 L1238.4,374.9 L1242.4,374.9 L1246.4,375.0 L1250.4,375.0 L1254.4,375.0 L1258.4,375.1 L1262.4,375.1 L1266.4,375.2 L1270.4,375.2 L1274.4,375.3 L1278.4,375.3 L1282.4,375.4 L1286.4,375.4 L1290.4,375.5 L1294.4,375.6 L1298.4,375.6 L1302.4,375.7 L1306.4,375.8 L1310.4,375.8 L1314.4,375.9 L1318.4,376.0 L1322.4,376.1 L1326.4,376.2 L1330.4,376.2 L1334.5,376.3 L1338.5,376.4 L1342.5,376.5 L1346.5,376.6 L1350.5,376.7 L1354.5,376.9 L1358.5,377.0 L1362.5,377.1 L1366.5,377.2 L1370.5,377.3 L1374.5,377.5 L1378.5,377.6 L1382.5,377.8 L1386.5,377.9 L1390.5,378.1 L1394.5,378.2 L1398.5,378.4 L1402.5,378.6 L1406.5,378.8 L1410.5,378.9 L1414.5,379.1 L1418.5,379.3 L1422.5,379.6 L1426.5,379.8 L1430.5,380.0 L1434.5,380.2 L1438.5,380.5 L1442.5,380.7 L1446.5,381.0 L1450.6,381.3 L1454.6,381.6 L1458.6,381.9 L1462.6,382.2 L1466.6,382.5 L1470.6,382.8 L1474.6,383.1 L1478.6,383.5 L1482.6,383.9 L1486.6,384.2 L1490.6,384.6 L1494.6,385.0 L1498.6,385.4 L1502.6,385.9 L1506.6,386.3 L1510.6,386.8 L1514.6,387.3 L1518.6,387.8 L1522.6,388.3 L1526.6,388.8 L1530.6,389.4 L1534.6,389.9 L1538.6,390.5 L1542.6,391.1 L1546.6,391.7 L1550.6,392.4 L1554.6,393.1 L1558.6,393.7 L1562.7,394.4 L1566.7,395.2 L1570.7,395.9 L1574.7,396.7 L1578.7,397.5 L1582.7,398.3 L1586.7,399.2 L1590.7,400.0 L1594.7,400.9 L1598.7,401.9 L1602.7,402.8 L1606.7,403.8 L1610.7,404.8 L1614.7,405.8 L1618.7,406.8 L1622.7,407.9 L1626.7,409.0 L1630.7,410.2 L1634.7,411.3 L1638.7,412.5 L1642.7,413.7 L1646.7,415.0 L1650.7,416.3 L1654.7,417.6 L1658.7,418.9 L1662.7,420.3 L1666.7,421.7 L1670.7,423.1 L1674.8,424.6 L1678.8,426.1 L1682.8,427.6 L1686.8,429.1 L1690.8,430.7 L1694.8,432.3 L1698.8,433.9 L1702.8,435.6 L1706.8,437.3 L1710.8,439.0 L1714.8,440.7 L1718.8,442.5 L1722.8,444.3 L1726.8,446.1 L1730.8,448.0" fill="none" stroke="#CD2626" stroke-opacity=".75" stroke-width="4.8" stroke-dasharray="14.3 7" stroke-linecap="round"/>
<path d="M1050.2,361.6 L1054.2,361.6 L1058.2,361.6 L1062.2,361.6 L1066.2,361.6 L1070.2,361.7 L1074.2,361.7 L1078.2,361.7 L1082.2,361.7 L1086.2,361.7 L1090.2,361.7 L1094.2,361.7 L1098.2,361.7 L1102.2,361.7 L1106.2,361.7 L1110.3,361.7 L1114.3,361.8 L1118.3,361.8 L1122.3,361.8 L1126.3,361.8 L1130.3,361.8 L1134.3,361.8 L1138.3,361.8 L1142.3,361.8 L1146.3,361.9 L1150.3,361.9 L1154.3,361.9 L1158.3,361.9 L1162.3,361.9 L1166.3,362.0 L1170.3,362.0 L1174.3,362.0 L1178.3,362.0 L1182.3,362.0 L1186.3,362.1 L1190.3,362.1 L1194.3,362.1 L1198.3,362.1 L1202.3,362.2 L1206.3,362.2 L1210.3,362.2 L1214.3,362.2 L1218.3,362.3 L1222.4,362.3 L1226.4,362.3 L1230.4,362.4 L1234.4,362.4 L1238.4,362.5 L1242.4,362.5 L1246.4,362.5 L1250.4,362.6 L1254.4,362.6 L1258.4,362.7 L1262.4,362.7 L1266.4,362.8 L1270.4,362.8 L1274.4,362.9 L1278.4,362.9 L1282.4,363.0 L1286.4,363.1 L1290.4,363.1 L1294.4,363.2 L1298.4,363.3 L1302.4,363.3 L1306.4,363.4 L1310.4,363.5 L1314.4,363.6 L1318.4,363.7 L1322.4,363.7 L1326.4,363.8 L1330.4,363.9 L1334.5,364.0 L1338.5,364.1 L1342.5,364.2 L1346.5,364.4 L1350.5,364.5 L1354.5,364.6 L1358.5,364.7 L1362.5,364.8 L1366.5,365.0 L1370.5,365.1 L1374.5,365.3 L1378.5,365.4 L1382.5,365.6 L1386.5,365.7 L1390.5,365.9 L1394.5,366.1 L1398.5,366.3 L1402.5,366.4 L1406.5,366.6 L1410.5,366.8 L1414.5,367.1 L1418.5,367.3 L1422.5,367.5 L1426.5,367.7 L1430.5,368.0 L1434.5,368.2 L1438.5,368.5 L1442.5,368.8 L1446.5,369.1 L1450.6,369.4 L1454.6,369.7 L1458.6,370.0 L1462.6,370.3 L1466.6,370.7 L1470.6,371.0 L1474.6,371.4 L1478.6,371.8 L1482.6,372.1 L1486.6,372.5 L1490.6,373.0 L1494.6,373.4 L1498.6,373.9 L1502.6,374.3 L1506.6,374.8 L1510.6,375.3 L1514.6,375.8 L1518.6,376.3 L1522.6,376.9 L1526.6,377.5 L1530.6,378.0 L1534.6,378.7 L1538.6,379.3 L1542.6,379.9 L1546.6,380.6 L1550.6,381.3 L1554.6,382.0 L1558.6,382.7 L1562.7,383.5 L1566.7,384.2 L1570.7,385.0 L1574.7,385.9 L1578.7,386.7 L1582.7,387.6 L1586.7,388.5 L1590.7,389.4 L1594.7,390.4 L1598.7,391.3 L1602.7,392.3 L1606.7,393.4 L1610.7,394.4 L1614.7,395.5 L1618.7,396.6 L1622.7,397.7 L1626.7,398.9 L1630.7,400.1 L1634.7,401.3 L1638.7,402.6 L1642.7,403.9 L1646.7,405.2 L1650.7,406.5 L1654.7,407.9 L1658.7,409.3 L1662.7,410.7 L1666.7,412.2 L1670.7,413.7 L1674.8,415.2 L1678.8,416.7 L1682.8,418.3 L1686.8,419.9 L1690.8,421.6 L1694.8,423.2 L1698.8,424.9 L1702.8,426.6 L1706.8,428.4 L1710.8,430.2 L1714.8,432.0 L1718.8,433.8 L1722.8,435.7 L1726.8,437.6 L1730.8,439.5" fill="none" stroke="#B22222" stroke-opacity=".75" stroke-width="4.8" stroke-dasharray="14.3 7" stroke-linecap="round"/>
<path d="M1050.2,419.6 L1054.2,419.6 L1058.2,419.6 L1062.2,419.6 L1066.2,419.6 L1070.2,419.6 L1074.2,419.6 L1078.2,419.6 L1082.2,419.6 L1086.2,419.6 L1090.2,419.6 L1094.2,419.6 L1098.2,419.6 L1102.2,419.6 L1106.2,419.6 L1110.3,419.6 L1114.3,419.6 L1118.3,419.6 L1122.3,419.6 L1126.3,419.6 L1130.3,419.6 L1134.3,419.6 L1138.3,419.6 L1142.3,419.6 L1146.3,419.6 L1150.3,419.6 L1154.3,419.6 L1158.3,419.6 L1162.3,419.6 L1166.3,419.6 L1170.3,419.6 L1174.3,419.6 L1178.3,419.6 L1182.3,419.6 L1186.3,419.6 L1190.3,419.6 L1194.3,419.6 L1198.3,419.6 L1202.3,419.6 L1206.3,419.6 L1210.3,419.6 L1214.3,419.6 L1218.3,419.7 L1222.4,419.7 L1226.4,419.7 L1230.4,419.7 L1234.4,419.7 L1238.4,419.7 L1242.4,419.7 L1246.4,419.7 L1250.4,419.7 L1254.4,419.7 L1258.4,419.7 L1262.4,419.7 L1266.4,419.7 L1270.4,419.7 L1274.4,419.7 L1278.4,419.7 L1282.4,419.8 L1286.4,419.8 L1290.4,419.8 L1294.4,419.8 L1298.4,419.8 L1302.4,419.8 L1306.4,419.8 L1310.4,419.8 L1314.4,419.8 L1318.4,419.8 L1322.4,419.9 L1326.4,419.9 L1330.4,419.9 L1334.5,419.9 L1338.5,419.9 L1342.5,419.9 L1346.5,419.9 L1350.5,420.0 L1354.5,420.0 L1358.5,420.0 L1362.5,420.0 L1366.5,420.0 L1370.5,420.1 L1374.5,420.1 L1378.5,420.1 L1382.5,420.1 L1386.5,420.2 L1390.5,420.2 L1394.5,420.2 L1398.5,420.2 L1402.5,420.3 L1406.5,420.3 L1410.5,420.3 L1414.5,420.4 L1418.5,420.4 L1422.5,420.4 L1426.5,420.5 L1430.5,420.5 L1434.5,420.5 L1438.5,420.6 L1442.5,420.6 L1446.5,420.7 L1450.6,420.7 L1454.6,420.7 L1458.6,420.8 L1462.6,420.8 L1466.6,420.9 L1470.6,421.0 L1474.6,421.0 L1478.6,421.1 L1482.6,421.1 L1486.6,421.2 L1490.6,421.3 L1494.6,421.3 L1498.6,421.4 L1502.6,421.5 L1506.6,421.6 L1510.6,421.6 L1514.6,421.7 L1518.6,421.8 L1522.6,421.9 L1526.6,422.0 L1530.6,422.1 L1534.6,422.2 L1538.6,422.3 L1542.6,422.4 L1546.6,422.5 L1550.6,422.7 L1554.6,422.8 L1558.6,422.9 L1562.7,423.0 L1566.7,423.2 L1570.7,423.3 L1574.7,423.5 L1578.7,423.6 L1582.7,423.8 L1586.7,424.0 L1590.7,424.1 L1594.7,424.3 L1598.7,424.5 L1602.7,424.7 L1606.7,424.9 L1610.7,425.1 L1614.7,425.3 L1618.7,425.6 L1622.7,425.8 L1626.7,426.0 L1630.7,426.3 L1634.7,426.5 L1638.7,426.8 L1642.7,427.1 L1646.7,427.4 L1650.7,427.7 L1654.7,428.0 L1658.7,428.3 L1662.7,428.6 L1666.7,429.0 L1670.7,429.3 L1674.8,429.7 L1678.8,430.1 L1682.8,430.5 L1686.8,430.9 L1690.8,431.3 L1694.8,431.8 L1698.8,432.2 L1702.8,432.7 L1706.8,433.1 L1710.8,433.6 L1714.8,434.2 L1718.8,434.7 L1722.8,435.2 L1726.8,435.8 L1730.8,436.4" fill="none" stroke="#CD853F" stroke-opacity=".75" stroke-width="4.8" stroke-dasharray="14.3 7" stroke-linecap="round"/>
<path d="M1050.2,184.5 L1054.2,184.5 L1058.2,184.6 L1062.2,184.6 L1066.2,184.6 L1070.2,184.7 L1074.2,184.7 L1078.2,184.7 L1082.2,184.7 L1086.2,184.8 L1090.2,184.8 L1094.2,184.9 L1098.2,184.9 L1102.2,184.9 L1106.2,185.0 L1110.3,185.0 L1114.3,185.1 L1118.3,185.1 L1122.3,185.2 L1126.3,185.2 L1130.3,185.3 L1134.3,185.3 L1138.3,185.4 L1142.3,185.4 L1146.3,185.5 L1150.3,185.6 L1154.3,185.6 L1158.3,185.7 L1162.3,185.8 L1166.3,185.8 L1170.3,185.9 L1174.3,186.0 L1178.3,186.1 L1182.3,186.2 L1186.3,186.3 L1190.3,186.4 L1194.3,186.5 L1198.3,186.6 L1202.3,186.7 L1206.3,186.8 L1210.3,186.9 L1214.3,187.0 L1218.3,187.1 L1222.4,187.3 L1226.4,187.4 L1230.4,187.5 L1234.4,187.7 L1238.4,187.8 L1242.4,188.0 L1246.4,188.1 L1250.4,188.3 L1254.4,188.5 L1258.4,188.7 L1262.4,188.9 L1266.4,189.1 L1270.4,189.3 L1274.4,189.5 L1278.4,189.7 L1282.4,189.9 L1286.4,190.1 L1290.4,190.4 L1294.4,190.6 L1298.4,190.9 L1302.4,191.2 L1306.4,191.5 L1310.4,191.8 L1314.4,192.1 L1318.4,192.4 L1322.4,192.7 L1326.4,193.0 L1330.4,193.4 L1334.5,193.8 L1338.5,194.1 L1342.5,194.5 L1346.5,194.9 L1350.5,195.4 L1354.5,195.8 L1358.5,196.2 L1362.5,196.7 L1366.5,197.2 L1370.5,197.7 L1374.5,198.2 L1378.5,198.7 L1382.5,199.3 L1386.5,199.8 L1390.5,200.4 L1394.5,201.0 L1398.5,201.7 L1402.5,202.3 L1406.5,203.0 L1410.5,203.7 L1414.5,204.4 L1418.5,205.1 L1422.5,205.9 L1426.5,206.6 L1430.5,207.4 L1434.5,208.3 L1438.5,209.1 L1442.5,210.0 L1446.5,210.9 L1450.6,211.8 L1454.6,212.8 L1458.6,213.8 L1462.6,214.8 L1466.6,215.8 L1470.6,216.9 L1474.6,218.0 L1478.6,219.1 L1482.6,220.2 L1486.6,221.4 L1490.6,222.6 L1494.6,223.8 L1498.6,225.1 L1502.6,226.4 L1506.6,227.7 L1510.6,229.1 L1514.6,230.5 L1518.6,231.9 L1522.6,233.4 L1526.6,234.8 L1530.6,236.4 L1534.6,237.9 L1538.6,239.5 L1542.6,241.1 L1546.6,242.7 L1550.6,244.4 L1554.6,246.1 L1558.6,247.8 L1562.7,249.6 L1566.7,251.4 L1570.7,253.2 L1574.7,255.1 L1578.7,257.0 L1582.7,258.9 L1586.7,260.8 L1590.7,262.8 L1594.7,264.8 L1598.7,266.8 L1602.7,268.9 L1606.7,271.0 L1610.7,273.1 L1614.7,275.2 L1618.7,277.4 L1622.7,279.6 L1626.7,281.8 L1630.7,284.0 L1634.7,286.3 L1638.7,288.6 L1642.7,290.9 L1646.7,293.2 L1650.7,295.6 L1654.7,298.0 L1658.7,300.4 L1662.7,302.8 L1666.7,305.2 L1670.7,307.7 L1674.8,310.2 L1678.8,312.6 L1682.8,315.2 L1686.8,317.7 L1690.8,320.2 L1694.8,322.8 L1698.8,325.4 L1702.8,328.0 L1706.8,330.6 L1710.8,333.2 L1714.8,335.8 L1718.8,338.5 L1722.8,341.1 L1726.8,343.8 L1730.8,346.5" fill="none" stroke="#3A5FCD" stroke-opacity=".75" stroke-width="4.8" stroke-dasharray="14.3 7" stroke-linecap="round"/>
<path d="M1050.2,270.3 L1054.2,270.3 L1058.2,270.3 L1062.2,270.3 L1066.2,270.4 L1070.2,270.4 L1074.2,270.4 L1078.2,270.4 L1082.2,270.4 L1086.2,270.4 L1090.2,270.4 L1094.2,270.4 L1098.2,270.4 L1102.2,270.4 L1106.2,270.5 L1110.3,270.5 L1114.3,270.5 L1118.3,270.5 L1122.3,270.5 L1126.3,270.5 L1130.3,270.5 L1134.3,270.6 L1138.3,270.6 L1142.3,270.6 L1146.3,270.6 L1150.3,270.6 L1154.3,270.7 L1158.3,270.7 L1162.3,270.7 L1166.3,270.7 L1170.3,270.7 L1174.3,270.8 L1178.3,270.8 L1182.3,270.8 L1186.3,270.9 L1190.3,270.9 L1194.3,270.9 L1198.3,270.9 L1202.3,271.0 L1206.3,271.0 L1210.3,271.0 L1214.3,271.1 L1218.3,271.1 L1222.4,271.2 L1226.4,271.2 L1230.4,271.2 L1234.4,271.3 L1238.4,271.3 L1242.4,271.4 L1246.4,271.4 L1250.4,271.5 L1254.4,271.5 L1258.4,271.6 L1262.4,271.7 L1266.4,271.7 L1270.4,271.8 L1274.4,271.8 L1278.4,271.9 L1282.4,272.0 L1286.4,272.1 L1290.4,272.1 L1294.4,272.2 L1298.4,272.3 L1302.4,272.4 L1306.4,272.5 L1310.4,272.6 L1314.4,272.7 L1318.4,272.8 L1322.4,272.9 L1326.4,273.0 L1330.4,273.1 L1334.5,273.2 L1338.5,273.3 L1342.5,273.5 L1346.5,273.6 L1350.5,273.7 L1354.5,273.9 L1358.5,274.0 L1362.5,274.2 L1366.5,274.3 L1370.5,274.5 L1374.5,274.7 L1378.5,274.9 L1382.5,275.0 L1386.5,275.2 L1390.5,275.4 L1394.5,275.6 L1398.5,275.9 L1402.5,276.1 L1406.5,276.3 L1410.5,276.6 L1414.5,276.8 L1418.5,277.1 L1422.5,277.3 L1426.5,277.6 L1430.5,277.9 L1434.5,278.2 L1438.5,278.5 L1442.5,278.9 L1446.5,279.2 L1450.6,279.5 L1454.6,279.9 L1458.6,280.3 L1462.6,280.7 L1466.6,281.1 L1470.6,281.5 L1474.6,281.9 L1478.6,282.3 L1482.6,282.8 L1486.6,283.3 L1490.6,283.8 L1494.6,284.3 L1498.6,284.8 L1502.6,285.3 L1506.6,285.9 L1510.6,286.5 L1514.6,287.1 L1518.6,287.7 L1522.6,288.3 L1526.6,289.0 L1530.6,289.7 L1534.6,290.4 L1538.6,291.1 L1542.6,291.8 L1546.6,292.6 L1550.6,293.4 L1554.6,294.2 L1558.6,295.1 L1562.7,295.9 L1566.7,296.8 L1570.7,297.7 L1574.7,298.7 L1578.7,299.6 L1582.7,300.6 L1586.7,301.6 L1590.7,302.7 L1594.7,303.8 L1598.7,304.9 L1602.7,306.0 L1606.7,307.2 L1610.7,308.3 L1614.7,309.6 L1618.7,310.8 L1622.7,312.1 L1626.7,313.4 L1630.7,314.7 L1634.7,316.1 L1638.7,317.5 L1642.7,318.9 L1646.7,320.4 L1650.7,321.8 L1654.7,323.4 L1658.7,324.9 L1662.7,326.5 L1666.7,328.1 L1670.7,329.7 L1674.8,331.4 L1678.8,333.1 L1682.8,334.8 L1686.8,336.5 L1690.8,338.3 L1694.8,340.1 L1698.8,342.0 L1702.8,343.8 L1706.8,345.7 L1710.8,347.6 L1714.8,349.6 L1718.8,351.5 L1722.8,353.5 L1726.8,355.5 L1730.8,357.6" fill="none" stroke="#4876FF" stroke-opacity=".75" stroke-width="4.8" stroke-dasharray="14.3 7" stroke-linecap="round"/>
<path d="M1050.2,299.1 L1054.2,299.2 L1058.2,299.2 L1062.2,299.2 L1066.2,299.2 L1070.2,299.2 L1074.2,299.2 L1078.2,299.2 L1082.2,299.2 L1086.2,299.2 L1090.2,299.2 L1094.2,299.3 L1098.2,299.3 L1102.2,299.3 L1106.2,299.3 L1110.3,299.3 L1114.3,299.3 L1118.3,299.3 L1122.3,299.4 L1126.3,299.4 L1130.3,299.4 L1134.3,299.4 L1138.3,299.4 L1142.3,299.4 L1146.3,299.5 L1150.3,299.5 L1154.3,299.5 L1158.3,299.5 L1162.3,299.6 L1166.3,299.6 L1170.3,299.6 L1174.3,299.6 L1178.3,299.7 L1182.3,299.7 L1186.3,299.7 L1190.3,299.8 L1194.3,299.8 L1198.3,299.8 L1202.3,299.9 L1206.3,299.9 L1210.3,299.9 L1214.3,300.0 L1218.3,300.0 L1222.4,300.1 L1226.4,300.1 L1230.4,300.2 L1234.4,300.2 L1238.4,300.3 L1242.4,300.3 L1246.4,300.4 L1250.4,300.4 L1254.4,300.5 L1258.4,300.5 L1262.4,300.6 L1266.4,300.7 L1270.4,300.7 L1274.4,300.8 L1278.4,300.9 L1282.4,301.0 L1286.4,301.0 L1290.4,301.1 L1294.4,301.2 L1298.4,301.3 L1302.4,301.4 L1306.4,301.5 L1310.4,301.6 L1314.4,301.7 L1318.4,301.8 L1322.4,301.9 L1326.4,302.1 L1330.4,302.2 L1334.5,302.3 L1338.5,302.4 L1342.5,302.6 L1346.5,302.7 L1350.5,302.9 L1354.5,303.0 L1358.5,303.2 L1362.5,303.4 L1366.5,303.5 L1370.5,303.7 L1374.5,303.9 L1378.5,304.1 L1382.5,304.3 L1386.5,304.5 L1390.5,304.8 L1394.5,305.0 L1398.5,305.2 L1402.5,305.5 L1406.5,305.7 L1410.5,306.0 L1414.5,306.3 L1418.5,306.5 L1422.5,306.8 L1426.5,307.1 L1430.5,307.5 L1434.5,307.8 L1438.5,308.1 L1442.5,308.5 L1446.5,308.8 L1450.6,309.2 L1454.6,309.6 L1458.6,310.0 L1462.6,310.4 L1466.6,310.9 L1470.6,311.3 L1474.6,311.8 L1478.6,312.3 L1482.6,312.8 L1486.6,313.3 L1490.6,313.8 L1494.6,314.4 L1498.6,314.9 L1502.6,315.5 L1506.6,316.1 L1510.6,316.8 L1514.6,317.4 L1518.6,318.1 L1522.6,318.8 L1526.6,319.5 L1530.6,320.2 L1534.6,321.0 L1538.6,321.7 L1542.6,322.5 L1546.6,323.4 L1550.6,324.2 L1554.6,325.1 L1558.6,326.0 L1562.7,326.9 L1566.7,327.8 L1570.7,328.8 L1574.7,329.8 L1578.7,330.9 L1582.7,331.9 L1586.7,333.0 L1590.7,334.1 L1594.7,335.3 L1598.7,336.4 L1602.7,337.6 L1606.7,338.9 L1610.7,340.1 L1614.7,341.4 L1618.7,342.7 L1622.7,344.1 L1626.7,345.5 L1630.7,346.9 L1634.7,348.3 L1638.7,349.8 L1642.7,351.3 L1646.7,352.8 L1650.7,354.4 L1654.7,355.9 L1658.7,357.6 L1662.7,359.2 L1666.7,360.9 L1670.7,362.6 L1674.8,364.3 L1678.8,366.1 L1682.8,367.9 L1686.8,369.7 L1690.8,371.6 L1694.8,373.4 L1698.8,375.3 L1702.8,377.3 L1706.8,379.2 L1710.8,381.2 L1714.8,383.2 L1718.8,385.3 L1722.8,387.3 L1726.8,389.4 L1730.8,391.5" fill="none" stroke="#43C97C" stroke-opacity=".75" stroke-width="4.8" stroke-dasharray="14.3 7" stroke-linecap="round"/>
<path d="M1050.2,371.3 L1086.6,373.1 L1167.8,381.4 L1225.3,394.7 L1270.0,408.1 L1306.5,422.2 L1337.3,435.6 L1364.1,458.8 L1387.6,490.0 L1408.7,528.0 L1427.8,549.7 L1445.2,555.2 L1461.2,556.3 L1476.1,554.1 L1489.9,551.5 L1502.8,551.9 L1514.9,556.3 L1526.3,558.5 L1537.2,554.1 L1547.4,546.4 L1557.2,544.2 L1566.5,555.2 L1575.4,572.8 L1582.0,583.6 L1593.0,590.2 L1606.2,590.2 L1619.4,572.6 L1630.0,555.0 L1643.6,544.0 L1654.0,530.0 L1665.6,537.0 L1674.4,557.2 L1683.2,581.4 L1690.0,566.0 L1696.4,533.0 L1703.0,511.0 L1712.0,505.0 L1720.0,520.0 L1730.8,540.0" fill="none" stroke="#FA8072" stroke-width="2.6" stroke-linejoin="round" stroke-linecap="round"/>
<path d="M1050.2,399.1 L1086.6,401.3 L1167.8,421.1 L1225.3,439.5 L1270.0,428.3 L1306.5,397.8 L1337.3,378.2 L1364.1,364.0 L1387.6,362.3 L1408.7,364.8 L1427.8,373.3 L1445.2,383.2 L1461.2,394.2 L1476.1,414.0 L1489.9,438.2 L1502.8,464.6 L1514.9,473.4 L1526.3,451.4 L1537.2,427.2 L1547.4,411.8 L1557.2,405.2 L1566.5,410.7 L1575.4,432.6 L1583.9,452.4 L1592.1,476.6 L1599.9,487.6 L1607.5,476.6 L1614.8,452.4 L1621.8,423.8 L1628.6,411.7 L1635.1,409.5 L1641.5,412.8 L1647.6,417.2 L1653.6,428.0 L1659.4,446.0 L1665.1,461.2 L1670.5,468.9 L1675.9,465.6 L1681.1,461.2 L1686.1,457.9 L1691.1,459.0 L1695.9,466.0 L1700.6,478.0 L1705.2,490.0 L1709.7,498.6 L1714.1,500.8 L1718.4,503.0 L1722.6,505.2 L1726.8,510.0 L1730.8,515.0" fill="none" stroke="#BA55D3" stroke-width="2.6" stroke-linejoin="round" stroke-linecap="round"/>
<path d="M1050.2,215.0 L1086.6,215.0 L1167.8,201.0 L1225.3,161.0 L1270.0,110.5 L1306.5,84.4 L1337.3,79.8 L1364.1,93.8 L1387.6,130.1 L1408.7,185.2 L1427.8,222.9 L1445.2,229.6 L1461.2,233.5 L1476.1,244.0 L1489.9,266.0 L1502.8,292.4 L1514.9,315.5 L1526.3,320.0 L1537.2,315.5 L1547.4,314.4 L1557.2,327.6 L1566.5,355.0 L1575.4,392.0 L1583.9,421.0 L1592.1,429.0 L1599.9,418.0 L1607.5,412.0 L1614.8,412.0 L1621.8,420.0 L1628.6,428.0 L1635.1,441.0 L1641.5,450.0 L1647.6,463.0 L1653.6,468.0 L1659.4,471.0 L1665.1,480.0 L1670.5,490.0 L1675.9,500.0 L1681.1,505.0 L1686.1,500.0 L1691.1,493.0 L1695.9,492.0 L1700.6,493.0 L1705.2,493.0 L1709.7,491.0 L1714.1,489.0 L1718.4,486.0 L1722.6,482.0 L1726.8,470.0 L1730.8,462.0" fill="none" stroke="#7F7F7F" stroke-width="6.0" stroke-linejoin="round" stroke-linecap="round"/>
<path d="M1050.2,321.1 L1086.6,319.6 L1167.8,316.5 L1225.3,310.5 L1270.0,297.8 L1306.5,291.1 L1337.3,283.0 L1364.1,269.6 L1387.6,257.5 L1408.7,252.1 L1427.8,257.2 L1445.2,274.8 L1461.2,307.8 L1476.1,340.8 L1489.9,371.7 L1502.8,383.2 L1514.9,383.2 L1526.3,383.2 L1537.2,387.6 L1547.4,396.4 L1557.2,404.1 L1566.5,409.0 L1575.4,411.0 L1583.9,402.0 L1592.1,390.0 L1599.9,378.0 L1607.5,365.0 L1614.8,352.0 L1621.8,339.0 L1628.6,329.0 L1635.1,326.5 L1641.5,334.0 L1647.6,346.0 L1653.6,360.0 L1659.4,367.0 L1665.1,371.0 L1670.5,374.0 L1675.9,384.0 L1681.1,402.0 L1686.1,428.0 L1691.1,455.0 L1695.9,475.0 L1700.6,486.0 L1705.2,490.0 L1709.7,490.0 L1714.1,488.0 L1718.4,480.0 L1722.6,470.0 L1726.8,472.0 L1730.8,478.0" fill="none" stroke="#8B4513" stroke-width="6.0" stroke-linejoin="round" stroke-linecap="round"/>
<path d="M1050.2,98.5 L1086.6,101.7 L1167.8,124.4 L1225.3,162.4 L1270.0,212.1 L1306.5,294.0 L1337.3,329.3 L1364.1,351.3 L1387.6,371.0 L1408.7,403.0 L1427.8,433.8 L1445.2,469.0 L1461.2,499.8 L1476.1,493.2 L1489.9,477.8 L1502.8,466.8 L1514.9,464.6 L1526.3,473.4 L1537.2,484.4 L1547.4,495.4 L1557.2,504.2 L1566.5,510.8 L1575.4,524.0 L1582.0,544.0 L1591.9,563.8 L1599.6,533.0 L1610.6,508.8 L1621.6,500.0 L1630.0,509.0 L1637.0,522.0 L1648.0,500.0 L1656.0,488.0 L1663.4,483.2 L1670.0,495.0 L1678.8,522.0 L1687.6,544.0 L1696.4,548.4 L1707.4,526.4 L1716.0,533.0 L1727.3,552.8 L1730.8,556.0" fill="none" stroke="#228B22" stroke-width="6.0" stroke-linejoin="round" stroke-linecap="round"/>
<path d="M1050.2,310.1 L1086.6,305.8 L1167.8,292.7 L1225.3,291.0 L1270.0,308.4 L1306.5,348.0 L1337.3,407.5 L1364.1,466.2 L1387.6,485.7 L1408.7,493.1 L1427.8,490.0 L1445.2,473.4 L1461.2,464.6 L1476.1,460.2 L1489.9,460.2 L1502.8,464.6 L1514.9,464.6 L1526.3,453.6 L1537.2,447.0 L1547.4,444.8 L1557.2,453.6 L1566.5,484.4 L1575.4,530.0 L1585.0,560.0 L1600.0,575.0 L1612.0,570.0 L1621.6,566.0 L1630.4,592.4 L1639.2,603.4 L1648.0,583.6 L1654.6,572.6 L1661.2,579.2 L1670.0,603.4 L1678.8,583.6 L1683.2,544.0 L1689.8,508.8 L1696.0,520.0 L1703.0,555.0 L1710.0,570.0 L1718.0,550.0 L1725.0,580.0 L1730.8,608.0" fill="none" stroke="#CD2626" stroke-width="6.0" stroke-linejoin="round" stroke-linecap="round"/>
<path d="M1050.2,321.7 L1086.6,321.0 L1167.8,320.2 L1225.3,321.7 L1270.0,328.8 L1306.5,344.0 L1337.3,357.4 L1364.1,373.3 L1387.6,395.3 L1408.7,405.1 L1427.8,410.7 L1445.2,412.9 L1461.2,422.8 L1476.1,433.8 L1489.9,447.0 L1502.8,458.0 L1514.9,466.8 L1526.3,477.8 L1537.2,495.4 L1547.4,505.0 L1557.2,490.0 L1566.5,462.0 L1575.4,465.6 L1583.9,456.8 L1592.1,463.4 L1599.9,487.6 L1607.5,518.4 L1614.8,545.0 L1621.6,561.6 L1630.4,544.0 L1641.4,522.0 L1652.4,500.0 L1662.0,515.0 L1676.6,539.6 L1685.4,552.8 L1694.2,539.6 L1700.0,515.0 L1708.0,508.0 L1718.4,528.6 L1727.3,557.2 L1730.8,565.0" fill="none" stroke="#B22222" stroke-width="2.6" stroke-linejoin="round" stroke-linecap="round"/>
<path d="M1050.2,329.4 L1086.6,330.9 L1167.8,347.7 L1225.3,365.1 L1270.0,370.4 L1306.5,364.8 L1337.3,364.0 L1364.1,377.0 L1387.6,407.5 L1408.7,441.7 L1427.8,493.2 L1445.2,508.6 L1461.2,506.4 L1476.1,504.2 L1489.9,502.0 L1502.8,503.1 L1514.9,506.4 L1526.3,510.8 L1537.2,513.0 L1547.4,508.6 L1557.2,502.0 L1566.5,496.5 L1575.4,495.4 L1590.0,505.0 L1602.0,522.0 L1615.0,539.6 L1628.2,557.2 L1636.0,550.0 L1648.0,515.4 L1656.8,505.0 L1665.6,528.6 L1674.4,566.0 L1683.2,588.0 L1689.8,605.6 L1696.4,625.4 L1705.2,599.0 L1711.8,588.0 L1718.4,592.4 L1725.0,570.4 L1730.8,508.8" fill="none" stroke="#CD853F" stroke-width="6.0" stroke-linejoin="round" stroke-linecap="round"/>
<path d="M1050.2,244.7 L1086.6,245.9 L1167.8,253.9 L1225.3,272.3 L1270.0,299.0 L1306.5,329.0 L1337.3,333.0 L1364.1,324.4 L1387.6,319.6 L1408.7,324.4 L1427.8,328.7 L1445.2,337.5 L1461.2,347.4 L1476.1,355.1 L1489.9,361.8 L1502.8,370.0 L1514.9,378.8 L1526.3,389.8 L1537.2,407.4 L1547.4,431.6 L1557.2,444.8 L1566.5,436.0 L1575.4,420.0 L1583.9,406.2 L1592.1,407.3 L1599.9,417.2 L1607.5,432.6 L1614.8,448.0 L1621.8,459.0 L1628.6,470.0 L1635.1,487.6 L1641.5,514.0 L1647.6,522.9 L1653.6,496.4 L1659.4,478.8 L1665.1,465.6 L1670.5,467.8 L1675.9,476.6 L1681.1,487.6 L1686.1,492.0 L1691.1,487.6 L1695.9,483.2 L1700.6,478.8 L1705.2,478.8 L1709.7,483.2 L1714.1,485.4 L1718.4,474.4 L1722.6,461.2 L1726.8,448.0 L1730.8,443.6" fill="none" stroke="#00B2EE" stroke-width="6.0" stroke-linejoin="round" stroke-linecap="round"/>
<path d="M1050.2,98.2 L1086.6,98.7 L1167.8,108.0 L1225.3,128.2 L1270.0,171.8 L1306.5,253.0 L1337.3,349.0 L1364.1,425.0 L1387.6,447.0 L1408.7,463.0 L1427.8,477.8 L1445.2,481.0 L1461.2,475.6 L1476.1,469.0 L1489.9,463.5 L1502.8,464.6 L1514.9,477.8 L1526.3,493.2 L1537.2,508.6 L1547.4,522.0 L1557.2,539.8 L1573.2,555.0 L1590.8,557.2 L1604.0,570.4 L1612.8,592.4 L1621.6,616.6 L1628.2,623.2 L1637.0,603.4 L1648.0,566.0 L1656.8,547.3 L1663.4,552.8 L1670.0,577.0 L1676.6,614.4 L1681.0,626.5 L1687.6,618.8 L1696.4,583.6 L1705.2,550.6 L1714.0,541.8 L1722.9,566.0 L1730.8,563.8" fill="none" stroke="#3A5FCD" stroke-width="6.0" stroke-linejoin="round" stroke-linecap="round"/>
<path d="M1050.2,171.6 L1086.6,170.9 L1167.8,169.2 L1225.3,179.9 L1270.0,206.8 L1306.5,256.5 L1337.3,314.7 L1364.1,355.0 L1387.6,378.2 L1408.7,397.8 L1427.8,416.2 L1445.2,442.6 L1461.2,466.8 L1476.1,493.2 L1489.9,518.0 L1502.8,540.0 L1514.9,555.2 L1526.3,557.9 L1537.2,538.7 L1547.4,521.1 L1557.2,493.0 L1566.5,480.0 L1575.4,478.0 L1582.0,482.0 L1593.0,496.4 L1604.0,533.0 L1615.0,568.2 L1623.8,544.0 L1632.6,510.0 L1639.2,490.0 L1648.0,500.0 L1656.8,530.8 L1665.6,537.4 L1674.4,517.6 L1687.6,528.6 L1696.4,537.4 L1705.2,548.4 L1714.0,533.0 L1722.9,511.0 L1730.8,528.0" fill="none" stroke="#4876FF" stroke-width="6.0" stroke-linejoin="round" stroke-linecap="round"/>
<path d="M1050.2,192.2 L1086.6,193.6 L1167.8,206.4 L1225.3,231.0 L1270.0,281.0 L1306.5,349.0 L1337.3,425.9 L1364.1,444.2 L1387.6,449.0 L1408.7,452.7 L1427.8,453.6 L1445.2,456.3 L1461.2,458.0 L1476.1,463.5 L1489.9,475.6 L1502.8,483.3 L1514.9,464.6 L1526.3,440.4 L1537.2,414.0 L1547.4,409.2 L1557.2,422.8 L1566.5,462.4 L1575.4,524.0 L1582.0,555.0 L1591.9,588.0 L1599.6,572.6 L1615.0,530.8 L1626.0,509.6 L1632.6,500.0 L1648.0,475.5 L1656.0,480.0 L1670.0,514.0 L1683.2,492.0 L1690.0,500.0 L1698.6,509.6 L1714.0,494.2 L1722.9,514.0 L1727.3,555.0 L1730.8,565.0" fill="none" stroke="#43C97C" stroke-width="6.0" stroke-linejoin="round" stroke-linecap="round"/>
</g>
<path d="M190.21,697.20v18.00M344.88,697.20v18.00M499.55,697.20v18.00M654.22,697.20v18.00M808.89,697.20v18.00" stroke="#000" stroke-width="3.0" fill="none"/>
<path d="M190.21,18.60v-18.00M344.88,18.60v-18.00M499.55,18.60v-18.00M654.22,18.60v-18.00M808.89,18.60v-18.00" stroke="#000" stroke-width="3.0" fill="none"/>
<path d="M159.28,697.20v9.00M221.14,697.20v9.00M252.08,697.20v9.00M283.01,697.20v9.00M313.95,697.20v9.00M375.81,697.20v9.00M406.75,697.20v9.00M437.68,697.20v9.00M468.62,697.20v9.00M530.48,697.20v9.00M561.42,697.20v9.00M592.35,697.20v9.00M623.29,697.20v9.00M685.15,697.20v9.00M716.09,697.20v9.00M747.02,697.20v9.00M777.96,697.20v9.00M839.82,697.20v9.00" stroke="#000" stroke-width="1.5" fill="none"/>
<path d="M159.28,18.60v-9.00M221.14,18.60v-9.00M252.08,18.60v-9.00M283.01,18.60v-9.00M313.95,18.60v-9.00M375.81,18.60v-9.00M406.75,18.60v-9.00M437.68,18.60v-9.00M468.62,18.60v-9.00M530.48,18.60v-9.00M561.42,18.60v-9.00M592.35,18.60v-9.00M623.29,18.60v-9.00M685.15,18.60v-9.00M716.09,18.60v-9.00M747.02,18.60v-9.00M777.96,18.60v-9.00M839.82,18.60v-9.00" stroke="#000" stroke-width="1.5" fill="none"/>
<path d="M159.30,584.10h-18.00M159.30,357.90h-18.00M159.30,131.70h-18.00" stroke="#000" stroke-width="3.0" fill="none"/>
<path d="M839.80,584.10h18.00M839.80,357.90h18.00M839.80,131.70h18.00" stroke="#000" stroke-width="3.0" fill="none"/>
<path d="M159.30,674.58h-9.00M159.30,629.34h-9.00M159.30,538.86h-9.00M159.30,493.62h-9.00M159.30,448.38h-9.00M159.30,403.14h-9.00M159.30,312.66h-9.00M159.30,267.42h-9.00M159.30,222.18h-9.00M159.30,176.94h-9.00M159.30,86.46h-9.00M159.30,41.22h-9.00" stroke="#000" stroke-width="1.5" fill="none"/>
<path d="M839.80,674.58h9.00M839.80,629.34h9.00M839.80,538.86h9.00M839.80,493.62h9.00M839.80,448.38h9.00M839.80,403.14h9.00M839.80,312.66h9.00M839.80,267.42h9.00M839.80,222.18h9.00M839.80,176.94h9.00M839.80,86.46h9.00M839.80,41.22h9.00" stroke="#000" stroke-width="1.5" fill="none"/>
<rect x="159.3" y="18.6" width="680.50" height="678.60" fill="none" stroke="#000" stroke-width="3.2"/>
<path d="M1270.00,697.20v18.00M1730.80,697.20v18.00" stroke="#000" stroke-width="3.0" fill="none"/>
<path d="M1270.00,18.60v-18.00M1730.80,18.60v-18.00" stroke="#000" stroke-width="3.0" fill="none"/>
<path d="M1131.29,697.20v9.00M1314.66,697.20v9.00M1372.23,697.20v9.00M1453.37,697.20v9.00M1592.09,697.20v9.00" stroke="#000" stroke-width="1.5" fill="none"/>
<path d="M1131.29,18.60v-9.00M1314.66,18.60v-9.00M1372.23,18.60v-9.00M1453.37,18.60v-9.00M1592.09,18.60v-9.00" stroke="#000" stroke-width="1.5" fill="none"/>
<path d="M1050.20,568.80h-18.00M1050.20,385.40h-18.00M1050.20,202.00h-18.00M1050.20,18.60h-18.00" stroke="#000" stroke-width="3.0" fill="none"/>
<path d="M1730.90,568.80h18.00M1730.90,385.40h18.00M1730.90,202.00h18.00M1730.90,18.60h18.00" stroke="#000" stroke-width="3.0" fill="none"/>
<path d="M1050.20,641.78h-9.00M1050.20,609.49h-9.00M1050.20,586.57h-9.00M1050.20,513.59h-9.00M1050.20,458.38h-9.00M1050.20,426.09h-9.00M1050.20,403.17h-9.00M1050.20,330.19h-9.00M1050.20,274.98h-9.00M1050.20,242.69h-9.00M1050.20,219.77h-9.00M1050.20,146.79h-9.00M1050.20,91.58h-9.00M1050.20,59.29h-9.00M1050.20,36.37h-9.00" stroke="#000" stroke-width="1.5" fill="none"/>
<path d="M1730.90,641.78h9.00M1730.90,609.49h9.00M1730.90,586.57h9.00M1730.90,513.59h9.00M1730.90,458.38h9.00M1730.90,426.09h9.00M1730.90,403.17h9.00M1730.90,330.19h9.00M1730.90,274.98h9.00M1730.90,242.69h9.00M1730.90,219.77h9.00M1730.90,146.79h9.00M1730.90,91.58h9.00M1730.90,59.29h9.00M1730.90,36.37h9.00" stroke="#000" stroke-width="1.5" fill="none"/>
<rect x="1050.2" y="18.6" width="680.70" height="678.60" fill="none" stroke="#000" stroke-width="3.2"/>
<text transform="translate(190.21,759.70) scale(0.975,1.05)" font-size="32" text-anchor="middle">-2.0</text>
<text transform="translate(344.88,759.70) scale(0.975,1.05)" font-size="32" text-anchor="middle">-1.0</text>
<text transform="translate(499.55,759.70) scale(0.975,1.05)" font-size="32" text-anchor="middle">0.0</text>
<text transform="translate(654.22,759.70) scale(0.975,1.05)" font-size="32" text-anchor="middle">1.0</text>
<text transform="translate(808.89,759.70) scale(0.975,1.05)" font-size="32" text-anchor="middle">2.0</text>
<text transform="translate(120.30,143.30) scale(0.975,1.05)" font-size="32" text-anchor="end">0.10</text>
<text transform="translate(120.30,369.50) scale(0.975,1.05)" font-size="32" text-anchor="end">0.00</text>
<text transform="translate(120.30,595.70) scale(0.975,1.05)" font-size="32" text-anchor="end">-0.10</text>
<text transform="translate(499.30,804.90) scale(0.994,1.04)" font-size="33" text-anchor="middle">60yr trend AMOC (Sv per decade)</text>
<text transform="translate(25.30,358.20) rotate(-90) scale(0.994,1.04)" font-size="33" text-anchor="middle">60yr trend GSAT (K per decade)</text>
<text transform="translate(778.64,80.70) scale(0.93,1.07)" font-size="50">a</text>
<text transform="translate(1011.50,33.00) scale(0.975,1.05)" font-size="32" text-anchor="end">10<tspan font-size="19" dy="-14.2">3</tspan></text>
<text transform="translate(1011.50,216.40) scale(0.975,1.05)" font-size="32" text-anchor="end">10<tspan font-size="19" dy="-14.2">2</tspan></text>
<text transform="translate(1011.50,399.80) scale(0.975,1.05)" font-size="32" text-anchor="end">10<tspan font-size="19" dy="-14.2">1</tspan></text>
<text transform="translate(1011.50,583.20) scale(0.975,1.05)" font-size="32" text-anchor="end">10<tspan font-size="19" dy="-14.2">0</tspan></text>
<text transform="translate(1270.00,766.70) scale(0.975,1.05)" font-size="32" text-anchor="middle">10<tspan font-size="19" dy="-15.3">2</tspan></text>
<text transform="translate(1730.80,766.70) scale(0.975,1.05)" font-size="32" text-anchor="middle">10<tspan font-size="19" dy="-15.3">1</tspan></text>
<text transform="translate(1390.50,810.00) scale(0.994,1.04)" font-size="33" text-anchor="middle">Period (year)</text>
<text transform="translate(945.30,357.80) rotate(-90) scale(0.994,1.04)" font-size="33" text-anchor="middle">Power (Sv/cycles yr<tspan font-size="19" dy="-16">-1</tspan><tspan dy="16">)</tspan></text>
<text transform="translate(1669.06,89.80) scale(1.04,1.03)" font-size="50">b</text>
<line x1="179.5" y1="38.60" x2="200" y2="38.60" stroke="#43C97C" stroke-width="4.8" stroke-linecap="round"/>
<text transform="translate(223.1,44.90) scale(1,1.08)" font-size="20.3" font-weight="bold">IPSL_CM6_LR 0.082</text>
<line x1="179.5" y1="65.80" x2="200" y2="65.80" stroke="#4876FF" stroke-width="4.8" stroke-linecap="round"/>
<text transform="translate(223.1,72.20) scale(1,1.08)" font-size="20.3" font-weight="bold">CNRM-CM6-1 0.089</text>
<line x1="179.5" y1="93.00" x2="200" y2="93.00" stroke="#3A5FCD" stroke-width="4.8" stroke-linecap="round"/>
<text transform="translate(223.1,99.50) scale(1,1.08)" font-size="20.3" font-weight="bold">CNRM-ESM2-1 0.073</text>
<line x1="179.5" y1="120.20" x2="200" y2="120.20" stroke="#CD853F" stroke-width="4.8" stroke-linecap="round"/>
<text transform="translate(223.1,126.80) scale(1,1.08)" font-size="20.3" font-weight="bold">MPI_ESM1_2_HR 0.067</text>
<line x1="179.5" y1="147.40" x2="200" y2="147.40" stroke="#B22222" stroke-width="4.8" stroke-linecap="round"/>
<text transform="translate(223.1,154.10) scale(1,1.08)" font-size="20.3">CESM2-FV2 0.006</text>
<line x1="179.5" y1="174.60" x2="200" y2="174.60" stroke="#CD2626" stroke-width="4.8" stroke-linecap="round"/>
<text transform="translate(223.1,181.40) scale(1,1.08)" font-size="20.3" font-weight="bold">CESM2-WACCM 0.048</text>
<line x1="179.5" y1="201.80" x2="200" y2="201.80" stroke="#FFA500" stroke-width="4.8" stroke-linecap="round"/>
<text transform="translate(223.1,208.70) scale(1,1.08)" font-size="20.3" font-weight="bold">SAM0_UNICON 0.045</text>
<line x1="179.5" y1="229.00" x2="200" y2="229.00" stroke="#7F7F7F" stroke-width="4.8" stroke-linecap="round"/>
<text transform="translate(223.1,236.00) scale(1,1.08)" font-size="20.3" font-weight="bold">CMCC-CM2 0.055</text>
<line x1="179.5" y1="256.20" x2="200" y2="256.20" stroke="#8B4513" stroke-width="4.8" stroke-linecap="round"/>
<text transform="translate(223.1,263.30) scale(1,1.08)" font-size="20.3" font-weight="bold">MRI-ESM2 0.030</text>
<line x1="179.5" y1="283.40" x2="200" y2="283.40" stroke="#228B22" stroke-width="4.8" stroke-linecap="round"/>
<text transform="translate(223.1,290.60) scale(1,1.08)" font-size="20.3" font-weight="bold">EC-Earth3 0.121</text>
<line x1="179.5" y1="310.60" x2="200" y2="310.60" stroke="#FA8072" stroke-width="4.8" stroke-linecap="round"/>
<text transform="translate(223.1,317.90) scale(1,1.08)" font-size="20.3">CanESM5 0.025</text>
<line x1="179.5" y1="337.80" x2="200" y2="337.80" stroke="#BA55D3" stroke-width="4.8" stroke-linecap="round"/>
<text transform="translate(223.1,345.20) scale(1,1.08)" font-size="20.3">NorCPM1 -0.014</text>
<line x1="179.5" y1="365.00" x2="200" y2="365.00" stroke="#00B2EE" stroke-width="4.8" stroke-linecap="round"/>
<text transform="translate(223.1,372.50) scale(1,1.08)" font-size="20.3" font-weight="bold">CIESM 0.037</text>
</svg>
</body></html>
